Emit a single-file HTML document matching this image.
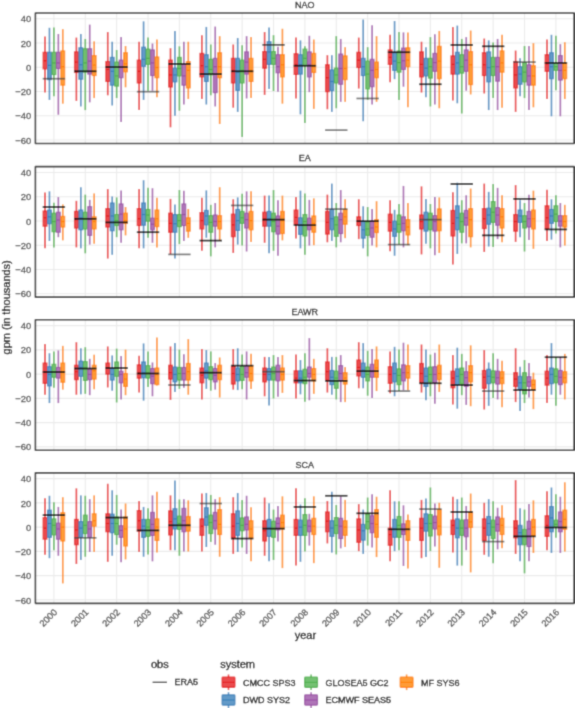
<!DOCTYPE html>
<html><head><meta charset="utf-8"><style>
html,body{margin:0;padding:0;background:#fff;}
body{width:575px;height:708px;position:relative;overflow:hidden;font-family:"Liberation Sans",sans-serif;}
svg text{font-family:"Liberation Sans",sans-serif;}
</style></head><body>
<svg width="575" height="708" viewBox="0 0 575 708" style="position:absolute;left:0;top:0">
<defs><filter id="bl" x="0" y="0" width="100%" height="100%" filterUnits="userSpaceOnUse"><feConvolveMatrix order="3" kernelMatrix="0.02768 0.11101 0.02768 0.11101 0.44521 0.11101 0.02768 0.11101 0.02768" edgeMode="duplicate" preserveAlpha="true"/></filter></defs>
<g filter="url(#bl)">
<rect width="575" height="708" fill="#fff"/>
<line x1="35.4" x2="574.1" y1="18.80" y2="18.80" stroke="#EBEBEB" stroke-width="1.1"/>
<line x1="35.4" x2="574.1" y1="43.05" y2="43.05" stroke="#EBEBEB" stroke-width="1.1"/>
<line x1="35.4" x2="574.1" y1="67.30" y2="67.30" stroke="#EBEBEB" stroke-width="1.1"/>
<line x1="35.4" x2="574.1" y1="91.55" y2="91.55" stroke="#EBEBEB" stroke-width="1.1"/>
<line x1="35.4" x2="574.1" y1="115.80" y2="115.80" stroke="#EBEBEB" stroke-width="1.1"/>
<line x1="35.4" x2="574.1" y1="140.05" y2="140.05" stroke="#EBEBEB" stroke-width="1.1"/>
<line x1="53.90" x2="53.90" y1="13.0" y2="143.5" stroke="#EBEBEB" stroke-width="1.1"/>
<line x1="85.28" x2="85.28" y1="13.0" y2="143.5" stroke="#EBEBEB" stroke-width="1.1"/>
<line x1="116.65" x2="116.65" y1="13.0" y2="143.5" stroke="#EBEBEB" stroke-width="1.1"/>
<line x1="148.03" x2="148.03" y1="13.0" y2="143.5" stroke="#EBEBEB" stroke-width="1.1"/>
<line x1="179.40" x2="179.40" y1="13.0" y2="143.5" stroke="#EBEBEB" stroke-width="1.1"/>
<line x1="210.78" x2="210.78" y1="13.0" y2="143.5" stroke="#EBEBEB" stroke-width="1.1"/>
<line x1="242.15" x2="242.15" y1="13.0" y2="143.5" stroke="#EBEBEB" stroke-width="1.1"/>
<line x1="273.52" x2="273.52" y1="13.0" y2="143.5" stroke="#EBEBEB" stroke-width="1.1"/>
<line x1="304.90" x2="304.90" y1="13.0" y2="143.5" stroke="#EBEBEB" stroke-width="1.1"/>
<line x1="336.27" x2="336.27" y1="13.0" y2="143.5" stroke="#EBEBEB" stroke-width="1.1"/>
<line x1="367.65" x2="367.65" y1="13.0" y2="143.5" stroke="#EBEBEB" stroke-width="1.1"/>
<line x1="399.02" x2="399.02" y1="13.0" y2="143.5" stroke="#EBEBEB" stroke-width="1.1"/>
<line x1="430.40" x2="430.40" y1="13.0" y2="143.5" stroke="#EBEBEB" stroke-width="1.1"/>
<line x1="461.77" x2="461.77" y1="13.0" y2="143.5" stroke="#EBEBEB" stroke-width="1.1"/>
<line x1="493.15" x2="493.15" y1="13.0" y2="143.5" stroke="#EBEBEB" stroke-width="1.1"/>
<line x1="524.52" x2="524.52" y1="13.0" y2="143.5" stroke="#EBEBEB" stroke-width="1.1"/>
<line x1="555.90" x2="555.90" y1="13.0" y2="143.5" stroke="#EBEBEB" stroke-width="1.1"/>
<line x1="45.00" x2="45.00" y1="36.50" y2="52.27" stroke="#E41A1C" stroke-opacity="0.82" stroke-width="1.7"/>
<line x1="45.00" x2="45.00" y1="68.88" y2="92.52" stroke="#E41A1C" stroke-opacity="0.82" stroke-width="1.7"/>
<rect x="43.10" y="52.27" width="3.8" height="16.61" fill="#E41A1C" fill-opacity="0.78" stroke="#E41A1C" stroke-opacity="0.85" stroke-width="1.1"/>
<line x1="43.10" x2="46.90" y1="60.75" y2="60.75" stroke="#E41A1C" stroke-width="1.2" stroke-opacity="1"/>
<line x1="49.45" x2="49.45" y1="27.77" y2="52.27" stroke="#377EB8" stroke-opacity="0.82" stroke-width="1.7"/>
<line x1="49.45" x2="49.45" y1="79.67" y2="99.92" stroke="#377EB8" stroke-opacity="0.82" stroke-width="1.7"/>
<rect x="47.55" y="52.27" width="3.8" height="27.40" fill="#377EB8" fill-opacity="0.78" stroke="#377EB8" stroke-opacity="0.85" stroke-width="1.1"/>
<line x1="47.55" x2="51.35" y1="65.36" y2="65.36" stroke="#377EB8" stroke-width="1.2" stroke-opacity="1"/>
<line x1="53.90" x2="53.90" y1="27.41" y2="52.27" stroke="#4DAF4A" stroke-opacity="0.82" stroke-width="1.7"/>
<line x1="53.90" x2="53.90" y1="74.58" y2="96.28" stroke="#4DAF4A" stroke-opacity="0.82" stroke-width="1.7"/>
<rect x="52.00" y="52.27" width="3.8" height="22.31" fill="#4DAF4A" fill-opacity="0.78" stroke="#4DAF4A" stroke-opacity="0.85" stroke-width="1.1"/>
<line x1="52.00" x2="55.80" y1="62.93" y2="62.93" stroke="#4DAF4A" stroke-width="1.2" stroke-opacity="1"/>
<line x1="58.35" x2="58.35" y1="33.96" y2="52.27" stroke="#984EA3" stroke-opacity="0.82" stroke-width="1.7"/>
<line x1="58.35" x2="58.35" y1="68.51" y2="114.71" stroke="#984EA3" stroke-opacity="0.82" stroke-width="1.7"/>
<rect x="56.45" y="52.27" width="3.8" height="16.25" fill="#984EA3" fill-opacity="0.78" stroke="#984EA3" stroke-opacity="0.85" stroke-width="1.1"/>
<line x1="56.45" x2="60.25" y1="62.93" y2="62.93" stroke="#984EA3" stroke-width="1.2" stroke-opacity="1"/>
<line x1="62.80" x2="62.80" y1="29.11" y2="50.93" stroke="#FF7F00" stroke-opacity="0.82" stroke-width="1.7"/>
<line x1="62.80" x2="62.80" y1="85.12" y2="103.67" stroke="#FF7F00" stroke-opacity="0.82" stroke-width="1.7"/>
<rect x="60.90" y="50.93" width="3.8" height="34.19" fill="#FF7F00" fill-opacity="0.78" stroke="#FF7F00" stroke-opacity="0.85" stroke-width="1.1"/>
<line x1="60.90" x2="64.70" y1="66.69" y2="66.69" stroke="#FF7F00" stroke-width="1.2" stroke-opacity="1"/>
<line x1="42.70" x2="65.10" y1="78.70" y2="78.70" stroke="#444" stroke-opacity="0.72" stroke-width="1.7"/>
<line x1="76.38" x2="76.38" y1="37.59" y2="51.90" stroke="#E41A1C" stroke-opacity="0.82" stroke-width="1.7"/>
<line x1="76.38" x2="76.38" y1="72.51" y2="100.89" stroke="#E41A1C" stroke-opacity="0.82" stroke-width="1.7"/>
<rect x="74.47" y="51.90" width="3.8" height="20.61" fill="#E41A1C" fill-opacity="0.78" stroke="#E41A1C" stroke-opacity="0.85" stroke-width="1.1"/>
<line x1="74.47" x2="78.28" y1="62.09" y2="62.09" stroke="#E41A1C" stroke-width="1.2" stroke-opacity="1"/>
<line x1="80.83" x2="80.83" y1="33.96" y2="47.78" stroke="#377EB8" stroke-opacity="0.82" stroke-width="1.7"/>
<line x1="80.83" x2="80.83" y1="79.18" y2="106.46" stroke="#377EB8" stroke-opacity="0.82" stroke-width="1.7"/>
<rect x="78.92" y="47.78" width="3.8" height="31.40" fill="#377EB8" fill-opacity="0.78" stroke="#377EB8" stroke-opacity="0.85" stroke-width="1.1"/>
<line x1="78.92" x2="82.73" y1="64.75" y2="64.75" stroke="#377EB8" stroke-width="1.2" stroke-opacity="1"/>
<line x1="85.28" x2="85.28" y1="38.93" y2="48.75" stroke="#4DAF4A" stroke-opacity="0.82" stroke-width="1.7"/>
<line x1="85.28" x2="85.28" y1="72.15" y2="110.10" stroke="#4DAF4A" stroke-opacity="0.82" stroke-width="1.7"/>
<rect x="83.38" y="48.75" width="3.8" height="23.40" fill="#4DAF4A" fill-opacity="0.78" stroke="#4DAF4A" stroke-opacity="0.85" stroke-width="1.1"/>
<line x1="83.38" x2="87.18" y1="62.93" y2="62.93" stroke="#4DAF4A" stroke-width="1.2" stroke-opacity="1"/>
<line x1="89.73" x2="89.73" y1="24.62" y2="48.75" stroke="#984EA3" stroke-opacity="0.82" stroke-width="1.7"/>
<line x1="89.73" x2="89.73" y1="74.09" y2="102.34" stroke="#984EA3" stroke-opacity="0.82" stroke-width="1.7"/>
<rect x="87.83" y="48.75" width="3.8" height="25.34" fill="#984EA3" fill-opacity="0.78" stroke="#984EA3" stroke-opacity="0.85" stroke-width="1.1"/>
<line x1="87.83" x2="91.63" y1="61.12" y2="61.12" stroke="#984EA3" stroke-width="1.2" stroke-opacity="1"/>
<line x1="94.18" x2="94.18" y1="41.35" y2="55.54" stroke="#FF7F00" stroke-opacity="0.82" stroke-width="1.7"/>
<line x1="94.18" x2="94.18" y1="75.55" y2="98.10" stroke="#FF7F00" stroke-opacity="0.82" stroke-width="1.7"/>
<rect x="92.28" y="55.54" width="3.8" height="20.01" fill="#FF7F00" fill-opacity="0.78" stroke="#FF7F00" stroke-opacity="0.85" stroke-width="1.1"/>
<line x1="92.28" x2="96.08" y1="65.12" y2="65.12" stroke="#FF7F00" stroke-width="1.2" stroke-opacity="1"/>
<line x1="74.08" x2="96.48" y1="71.30" y2="71.30" stroke="#111" stroke-opacity="1" stroke-width="1.7"/>
<line x1="107.75" x2="107.75" y1="32.02" y2="61.48" stroke="#E41A1C" stroke-opacity="0.82" stroke-width="1.7"/>
<line x1="107.75" x2="107.75" y1="81.49" y2="95.31" stroke="#E41A1C" stroke-opacity="0.82" stroke-width="1.7"/>
<rect x="105.85" y="61.48" width="3.8" height="20.01" fill="#E41A1C" fill-opacity="0.78" stroke="#E41A1C" stroke-opacity="0.85" stroke-width="1.1"/>
<line x1="105.85" x2="109.65" y1="69.48" y2="69.48" stroke="#E41A1C" stroke-width="1.2" stroke-opacity="1"/>
<line x1="112.20" x2="112.20" y1="41.72" y2="57.36" stroke="#377EB8" stroke-opacity="0.82" stroke-width="1.7"/>
<line x1="112.20" x2="112.20" y1="85.12" y2="105.49" stroke="#377EB8" stroke-opacity="0.82" stroke-width="1.7"/>
<rect x="110.30" y="57.36" width="3.8" height="27.77" fill="#377EB8" fill-opacity="0.78" stroke="#377EB8" stroke-opacity="0.85" stroke-width="1.1"/>
<line x1="110.30" x2="114.10" y1="71.30" y2="71.30" stroke="#377EB8" stroke-width="1.2" stroke-opacity="1"/>
<line x1="116.65" x2="116.65" y1="49.96" y2="62.09" stroke="#4DAF4A" stroke-opacity="0.82" stroke-width="1.7"/>
<line x1="116.65" x2="116.65" y1="86.09" y2="98.10" stroke="#4DAF4A" stroke-opacity="0.82" stroke-width="1.7"/>
<rect x="114.75" y="62.09" width="3.8" height="24.01" fill="#4DAF4A" fill-opacity="0.78" stroke="#4DAF4A" stroke-opacity="0.85" stroke-width="1.1"/>
<line x1="114.75" x2="118.55" y1="75.91" y2="75.91" stroke="#4DAF4A" stroke-width="1.2" stroke-opacity="1"/>
<line x1="121.10" x2="121.10" y1="37.11" y2="60.15" stroke="#984EA3" stroke-opacity="0.82" stroke-width="1.7"/>
<line x1="121.10" x2="121.10" y1="77.73" y2="122.10" stroke="#984EA3" stroke-opacity="0.82" stroke-width="1.7"/>
<rect x="119.20" y="60.15" width="3.8" height="17.58" fill="#984EA3" fill-opacity="0.78" stroke="#984EA3" stroke-opacity="0.85" stroke-width="1.1"/>
<line x1="119.20" x2="123.00" y1="67.54" y2="67.54" stroke="#984EA3" stroke-width="1.2" stroke-opacity="1"/>
<line x1="125.55" x2="125.55" y1="45.96" y2="52.75" stroke="#FF7F00" stroke-opacity="0.82" stroke-width="1.7"/>
<line x1="125.55" x2="125.55" y1="71.79" y2="87.31" stroke="#FF7F00" stroke-opacity="0.82" stroke-width="1.7"/>
<rect x="123.65" y="52.75" width="3.8" height="19.04" fill="#FF7F00" fill-opacity="0.78" stroke="#FF7F00" stroke-opacity="0.85" stroke-width="1.1"/>
<line x1="123.65" x2="127.45" y1="63.91" y2="63.91" stroke="#FF7F00" stroke-width="1.2" stroke-opacity="1"/>
<line x1="105.45" x2="127.85" y1="67.06" y2="67.06" stroke="#111" stroke-opacity="1" stroke-width="1.7"/>
<line x1="139.12" x2="139.12" y1="41.72" y2="60.15" stroke="#E41A1C" stroke-opacity="0.82" stroke-width="1.7"/>
<line x1="139.12" x2="139.12" y1="82.94" y2="110.10" stroke="#E41A1C" stroke-opacity="0.82" stroke-width="1.7"/>
<rect x="137.22" y="60.15" width="3.8" height="22.80" fill="#E41A1C" fill-opacity="0.78" stroke="#E41A1C" stroke-opacity="0.85" stroke-width="1.1"/>
<line x1="137.22" x2="141.03" y1="71.30" y2="71.30" stroke="#E41A1C" stroke-width="1.2" stroke-opacity="1"/>
<line x1="143.58" x2="143.58" y1="21.35" y2="47.17" stroke="#377EB8" stroke-opacity="0.82" stroke-width="1.7"/>
<line x1="143.58" x2="143.58" y1="66.33" y2="99.92" stroke="#377EB8" stroke-opacity="0.82" stroke-width="1.7"/>
<rect x="141.68" y="47.17" width="3.8" height="19.16" fill="#377EB8" fill-opacity="0.78" stroke="#377EB8" stroke-opacity="0.85" stroke-width="1.1"/>
<line x1="141.68" x2="145.48" y1="59.30" y2="59.30" stroke="#377EB8" stroke-width="1.2" stroke-opacity="1"/>
<line x1="148.03" x2="148.03" y1="37.59" y2="49.11" stroke="#4DAF4A" stroke-opacity="0.82" stroke-width="1.7"/>
<line x1="148.03" x2="148.03" y1="64.39" y2="90.70" stroke="#4DAF4A" stroke-opacity="0.82" stroke-width="1.7"/>
<rect x="146.12" y="49.11" width="3.8" height="15.28" fill="#4DAF4A" fill-opacity="0.78" stroke="#4DAF4A" stroke-opacity="0.85" stroke-width="1.1"/>
<line x1="146.12" x2="149.93" y1="58.33" y2="58.33" stroke="#4DAF4A" stroke-width="1.2" stroke-opacity="1"/>
<line x1="152.47" x2="152.47" y1="43.53" y2="49.96" stroke="#984EA3" stroke-opacity="0.82" stroke-width="1.7"/>
<line x1="152.47" x2="152.47" y1="75.55" y2="90.70" stroke="#984EA3" stroke-opacity="0.82" stroke-width="1.7"/>
<rect x="150.57" y="49.96" width="3.8" height="25.58" fill="#984EA3" fill-opacity="0.78" stroke="#984EA3" stroke-opacity="0.85" stroke-width="1.1"/>
<line x1="150.57" x2="154.38" y1="62.93" y2="62.93" stroke="#984EA3" stroke-width="1.2" stroke-opacity="1"/>
<line x1="156.93" x2="156.93" y1="39.53" y2="56.99" stroke="#FF7F00" stroke-opacity="0.82" stroke-width="1.7"/>
<line x1="156.93" x2="156.93" y1="77.73" y2="97.13" stroke="#FF7F00" stroke-opacity="0.82" stroke-width="1.7"/>
<rect x="155.03" y="56.99" width="3.8" height="20.73" fill="#FF7F00" fill-opacity="0.78" stroke="#FF7F00" stroke-opacity="0.85" stroke-width="1.1"/>
<line x1="155.03" x2="158.83" y1="67.54" y2="67.54" stroke="#FF7F00" stroke-width="1.2" stroke-opacity="1"/>
<line x1="136.83" x2="159.22" y1="91.67" y2="91.67" stroke="#444" stroke-opacity="0.72" stroke-width="1.7"/>
<line x1="170.50" x2="170.50" y1="48.14" y2="60.15" stroke="#E41A1C" stroke-opacity="0.82" stroke-width="1.7"/>
<line x1="170.50" x2="170.50" y1="86.94" y2="127.32" stroke="#E41A1C" stroke-opacity="0.82" stroke-width="1.7"/>
<rect x="168.60" y="60.15" width="3.8" height="26.80" fill="#E41A1C" fill-opacity="0.78" stroke="#E41A1C" stroke-opacity="0.85" stroke-width="1.1"/>
<line x1="168.60" x2="172.40" y1="74.94" y2="74.94" stroke="#E41A1C" stroke-width="1.2" stroke-opacity="1"/>
<line x1="174.95" x2="174.95" y1="30.92" y2="68.15" stroke="#377EB8" stroke-opacity="0.82" stroke-width="1.7"/>
<line x1="174.95" x2="174.95" y1="81.85" y2="115.68" stroke="#377EB8" stroke-opacity="0.82" stroke-width="1.7"/>
<rect x="173.05" y="68.15" width="3.8" height="13.70" fill="#377EB8" fill-opacity="0.78" stroke="#377EB8" stroke-opacity="0.85" stroke-width="1.1"/>
<line x1="173.05" x2="176.85" y1="74.94" y2="74.94" stroke="#377EB8" stroke-width="1.2" stroke-opacity="1"/>
<line x1="179.40" x2="179.40" y1="46.32" y2="57.36" stroke="#4DAF4A" stroke-opacity="0.82" stroke-width="1.7"/>
<line x1="179.40" x2="179.40" y1="75.91" y2="110.71" stroke="#4DAF4A" stroke-opacity="0.82" stroke-width="1.7"/>
<rect x="177.50" y="57.36" width="3.8" height="18.55" fill="#4DAF4A" fill-opacity="0.78" stroke="#4DAF4A" stroke-opacity="0.85" stroke-width="1.1"/>
<line x1="177.50" x2="181.30" y1="68.51" y2="68.51" stroke="#4DAF4A" stroke-width="1.2" stroke-opacity="1"/>
<line x1="183.85" x2="183.85" y1="41.72" y2="63.91" stroke="#984EA3" stroke-opacity="0.82" stroke-width="1.7"/>
<line x1="183.85" x2="183.85" y1="85.12" y2="104.52" stroke="#984EA3" stroke-opacity="0.82" stroke-width="1.7"/>
<rect x="181.95" y="63.91" width="3.8" height="21.22" fill="#984EA3" fill-opacity="0.78" stroke="#984EA3" stroke-opacity="0.85" stroke-width="1.1"/>
<line x1="181.95" x2="185.75" y1="75.91" y2="75.91" stroke="#984EA3" stroke-width="1.2" stroke-opacity="1"/>
<line x1="188.30" x2="188.30" y1="41.72" y2="61.60" stroke="#FF7F00" stroke-opacity="0.82" stroke-width="1.7"/>
<line x1="188.30" x2="188.30" y1="87.91" y2="99.07" stroke="#FF7F00" stroke-opacity="0.82" stroke-width="1.7"/>
<rect x="186.40" y="61.60" width="3.8" height="26.31" fill="#FF7F00" fill-opacity="0.78" stroke="#FF7F00" stroke-opacity="0.85" stroke-width="1.1"/>
<line x1="186.40" x2="190.20" y1="70.33" y2="70.33" stroke="#FF7F00" stroke-width="1.2" stroke-opacity="1"/>
<line x1="168.20" x2="190.60" y1="63.91" y2="63.91" stroke="#111" stroke-opacity="1" stroke-width="1.7"/>
<line x1="201.88" x2="201.88" y1="35.17" y2="53.36" stroke="#E41A1C" stroke-opacity="0.82" stroke-width="1.7"/>
<line x1="201.88" x2="201.88" y1="76.88" y2="99.07" stroke="#E41A1C" stroke-opacity="0.82" stroke-width="1.7"/>
<rect x="199.97" y="53.36" width="3.8" height="23.52" fill="#E41A1C" fill-opacity="0.78" stroke="#E41A1C" stroke-opacity="0.85" stroke-width="1.1"/>
<line x1="199.97" x2="203.78" y1="65.72" y2="65.72" stroke="#E41A1C" stroke-width="1.2" stroke-opacity="1"/>
<line x1="206.33" x2="206.33" y1="26.92" y2="54.69" stroke="#377EB8" stroke-opacity="0.82" stroke-width="1.7"/>
<line x1="206.33" x2="206.33" y1="81.49" y2="104.52" stroke="#377EB8" stroke-opacity="0.82" stroke-width="1.7"/>
<rect x="204.43" y="54.69" width="3.8" height="26.80" fill="#377EB8" fill-opacity="0.78" stroke="#377EB8" stroke-opacity="0.85" stroke-width="1.1"/>
<line x1="204.43" x2="208.23" y1="66.69" y2="66.69" stroke="#377EB8" stroke-width="1.2" stroke-opacity="1"/>
<line x1="210.78" x2="210.78" y1="44.50" y2="59.30" stroke="#4DAF4A" stroke-opacity="0.82" stroke-width="1.7"/>
<line x1="210.78" x2="210.78" y1="74.94" y2="95.31" stroke="#4DAF4A" stroke-opacity="0.82" stroke-width="1.7"/>
<rect x="208.88" y="59.30" width="3.8" height="15.64" fill="#4DAF4A" fill-opacity="0.78" stroke="#4DAF4A" stroke-opacity="0.85" stroke-width="1.1"/>
<line x1="208.88" x2="212.68" y1="69.48" y2="69.48" stroke="#4DAF4A" stroke-width="1.2" stroke-opacity="1"/>
<line x1="215.22" x2="215.22" y1="26.56" y2="58.33" stroke="#984EA3" stroke-opacity="0.82" stroke-width="1.7"/>
<line x1="215.22" x2="215.22" y1="92.64" y2="106.46" stroke="#984EA3" stroke-opacity="0.82" stroke-width="1.7"/>
<rect x="213.32" y="58.33" width="3.8" height="34.31" fill="#984EA3" fill-opacity="0.78" stroke="#984EA3" stroke-opacity="0.85" stroke-width="1.1"/>
<line x1="213.32" x2="217.12" y1="66.69" y2="66.69" stroke="#984EA3" stroke-width="1.2" stroke-opacity="1"/>
<line x1="219.68" x2="219.68" y1="36.14" y2="52.75" stroke="#FF7F00" stroke-opacity="0.82" stroke-width="1.7"/>
<line x1="219.68" x2="219.68" y1="77.73" y2="124.04" stroke="#FF7F00" stroke-opacity="0.82" stroke-width="1.7"/>
<rect x="217.78" y="52.75" width="3.8" height="24.98" fill="#FF7F00" fill-opacity="0.78" stroke="#FF7F00" stroke-opacity="0.85" stroke-width="1.1"/>
<line x1="217.78" x2="221.58" y1="66.69" y2="66.69" stroke="#FF7F00" stroke-width="1.2" stroke-opacity="1"/>
<line x1="199.58" x2="221.97" y1="74.09" y2="74.09" stroke="#111" stroke-opacity="1" stroke-width="1.7"/>
<line x1="233.25" x2="233.25" y1="44.50" y2="58.33" stroke="#E41A1C" stroke-opacity="0.82" stroke-width="1.7"/>
<line x1="233.25" x2="233.25" y1="82.94" y2="107.68" stroke="#E41A1C" stroke-opacity="0.82" stroke-width="1.7"/>
<rect x="231.35" y="58.33" width="3.8" height="24.61" fill="#E41A1C" fill-opacity="0.78" stroke="#E41A1C" stroke-opacity="0.85" stroke-width="1.1"/>
<line x1="231.35" x2="235.15" y1="70.33" y2="70.33" stroke="#E41A1C" stroke-width="1.2" stroke-opacity="1"/>
<line x1="237.70" x2="237.70" y1="37.96" y2="58.33" stroke="#377EB8" stroke-opacity="0.82" stroke-width="1.7"/>
<line x1="237.70" x2="237.70" y1="90.34" y2="111.92" stroke="#377EB8" stroke-opacity="0.82" stroke-width="1.7"/>
<rect x="235.80" y="58.33" width="3.8" height="32.01" fill="#377EB8" fill-opacity="0.78" stroke="#377EB8" stroke-opacity="0.85" stroke-width="1.1"/>
<line x1="235.80" x2="239.60" y1="72.15" y2="72.15" stroke="#377EB8" stroke-width="1.2" stroke-opacity="1"/>
<line x1="242.15" x2="242.15" y1="45.35" y2="60.15" stroke="#4DAF4A" stroke-opacity="0.82" stroke-width="1.7"/>
<line x1="242.15" x2="242.15" y1="82.94" y2="136.90" stroke="#4DAF4A" stroke-opacity="0.82" stroke-width="1.7"/>
<rect x="240.25" y="60.15" width="3.8" height="22.80" fill="#4DAF4A" fill-opacity="0.78" stroke="#4DAF4A" stroke-opacity="0.85" stroke-width="1.1"/>
<line x1="240.25" x2="244.05" y1="70.33" y2="70.33" stroke="#4DAF4A" stroke-width="1.2" stroke-opacity="1"/>
<line x1="246.60" x2="246.60" y1="36.14" y2="51.90" stroke="#984EA3" stroke-opacity="0.82" stroke-width="1.7"/>
<line x1="246.60" x2="246.60" y1="74.09" y2="98.46" stroke="#984EA3" stroke-opacity="0.82" stroke-width="1.7"/>
<rect x="244.70" y="51.90" width="3.8" height="22.19" fill="#984EA3" fill-opacity="0.78" stroke="#984EA3" stroke-opacity="0.85" stroke-width="1.1"/>
<line x1="244.70" x2="248.50" y1="62.09" y2="62.09" stroke="#984EA3" stroke-width="1.2" stroke-opacity="1"/>
<line x1="251.05" x2="251.05" y1="37.11" y2="58.33" stroke="#FF7F00" stroke-opacity="0.82" stroke-width="1.7"/>
<line x1="251.05" x2="251.05" y1="81.49" y2="98.10" stroke="#FF7F00" stroke-opacity="0.82" stroke-width="1.7"/>
<rect x="249.15" y="58.33" width="3.8" height="23.16" fill="#FF7F00" fill-opacity="0.78" stroke="#FF7F00" stroke-opacity="0.85" stroke-width="1.1"/>
<line x1="249.15" x2="252.95" y1="70.33" y2="70.33" stroke="#FF7F00" stroke-width="1.2" stroke-opacity="1"/>
<line x1="230.95" x2="253.35" y1="71.30" y2="71.30" stroke="#111" stroke-opacity="1" stroke-width="1.7"/>
<line x1="264.62" x2="264.62" y1="32.02" y2="51.54" stroke="#E41A1C" stroke-opacity="0.82" stroke-width="1.7"/>
<line x1="264.62" x2="264.62" y1="68.15" y2="94.94" stroke="#E41A1C" stroke-opacity="0.82" stroke-width="1.7"/>
<rect x="262.73" y="51.54" width="3.8" height="16.61" fill="#E41A1C" fill-opacity="0.78" stroke="#E41A1C" stroke-opacity="0.85" stroke-width="1.1"/>
<line x1="262.73" x2="266.52" y1="59.30" y2="59.30" stroke="#E41A1C" stroke-width="1.2" stroke-opacity="1"/>
<line x1="269.07" x2="269.07" y1="27.41" y2="41.72" stroke="#377EB8" stroke-opacity="0.82" stroke-width="1.7"/>
<line x1="269.07" x2="269.07" y1="64.39" y2="88.88" stroke="#377EB8" stroke-opacity="0.82" stroke-width="1.7"/>
<rect x="267.18" y="41.72" width="3.8" height="22.67" fill="#377EB8" fill-opacity="0.78" stroke="#377EB8" stroke-opacity="0.85" stroke-width="1.1"/>
<line x1="267.18" x2="270.97" y1="51.90" y2="51.90" stroke="#377EB8" stroke-width="1.2" stroke-opacity="1"/>
<line x1="273.52" x2="273.52" y1="35.17" y2="51.54" stroke="#4DAF4A" stroke-opacity="0.82" stroke-width="1.7"/>
<line x1="273.52" x2="273.52" y1="64.39" y2="91.06" stroke="#4DAF4A" stroke-opacity="0.82" stroke-width="1.7"/>
<rect x="271.62" y="51.54" width="3.8" height="12.85" fill="#4DAF4A" fill-opacity="0.78" stroke="#4DAF4A" stroke-opacity="0.85" stroke-width="1.1"/>
<line x1="271.62" x2="275.42" y1="58.33" y2="58.33" stroke="#4DAF4A" stroke-width="1.2" stroke-opacity="1"/>
<line x1="277.97" x2="277.97" y1="46.81" y2="54.69" stroke="#984EA3" stroke-opacity="0.82" stroke-width="1.7"/>
<line x1="277.97" x2="277.97" y1="72.76" y2="91.67" stroke="#984EA3" stroke-opacity="0.82" stroke-width="1.7"/>
<rect x="276.07" y="54.69" width="3.8" height="18.07" fill="#984EA3" fill-opacity="0.78" stroke="#984EA3" stroke-opacity="0.85" stroke-width="1.1"/>
<line x1="276.07" x2="279.87" y1="66.69" y2="66.69" stroke="#984EA3" stroke-width="1.2" stroke-opacity="1"/>
<line x1="282.42" x2="282.42" y1="28.74" y2="54.69" stroke="#FF7F00" stroke-opacity="0.82" stroke-width="1.7"/>
<line x1="282.42" x2="282.42" y1="76.88" y2="103.67" stroke="#FF7F00" stroke-opacity="0.82" stroke-width="1.7"/>
<rect x="280.52" y="54.69" width="3.8" height="22.19" fill="#FF7F00" fill-opacity="0.78" stroke="#FF7F00" stroke-opacity="0.85" stroke-width="1.1"/>
<line x1="280.52" x2="284.32" y1="64.75" y2="64.75" stroke="#FF7F00" stroke-width="1.2" stroke-opacity="1"/>
<line x1="262.32" x2="284.72" y1="44.87" y2="44.87" stroke="#333" stroke-opacity="0.85" stroke-width="1.7"/>
<line x1="296.00" x2="296.00" y1="37.59" y2="53.72" stroke="#E41A1C" stroke-opacity="0.82" stroke-width="1.7"/>
<line x1="296.00" x2="296.00" y1="74.45" y2="98.46" stroke="#E41A1C" stroke-opacity="0.82" stroke-width="1.7"/>
<rect x="294.10" y="53.72" width="3.8" height="20.73" fill="#E41A1C" fill-opacity="0.78" stroke="#E41A1C" stroke-opacity="0.85" stroke-width="1.1"/>
<line x1="294.10" x2="297.90" y1="64.75" y2="64.75" stroke="#E41A1C" stroke-width="1.2" stroke-opacity="1"/>
<line x1="300.45" x2="300.45" y1="40.38" y2="54.69" stroke="#377EB8" stroke-opacity="0.82" stroke-width="1.7"/>
<line x1="300.45" x2="300.45" y1="74.09" y2="114.34" stroke="#377EB8" stroke-opacity="0.82" stroke-width="1.7"/>
<rect x="298.55" y="54.69" width="3.8" height="19.40" fill="#377EB8" fill-opacity="0.78" stroke="#377EB8" stroke-opacity="0.85" stroke-width="1.1"/>
<line x1="298.55" x2="302.35" y1="64.75" y2="64.75" stroke="#377EB8" stroke-width="1.2" stroke-opacity="1"/>
<line x1="304.90" x2="304.90" y1="46.32" y2="49.11" stroke="#4DAF4A" stroke-opacity="0.82" stroke-width="1.7"/>
<line x1="304.90" x2="304.90" y1="65.72" y2="123.07" stroke="#4DAF4A" stroke-opacity="0.82" stroke-width="1.7"/>
<rect x="303.00" y="49.11" width="3.8" height="16.61" fill="#4DAF4A" fill-opacity="0.78" stroke="#4DAF4A" stroke-opacity="0.85" stroke-width="1.1"/>
<line x1="303.00" x2="306.80" y1="58.33" y2="58.33" stroke="#4DAF4A" stroke-width="1.2" stroke-opacity="1"/>
<line x1="309.35" x2="309.35" y1="35.77" y2="51.90" stroke="#984EA3" stroke-opacity="0.82" stroke-width="1.7"/>
<line x1="309.35" x2="309.35" y1="76.88" y2="92.16" stroke="#984EA3" stroke-opacity="0.82" stroke-width="1.7"/>
<rect x="307.45" y="51.90" width="3.8" height="24.98" fill="#984EA3" fill-opacity="0.78" stroke="#984EA3" stroke-opacity="0.85" stroke-width="1.1"/>
<line x1="307.45" x2="311.25" y1="64.75" y2="64.75" stroke="#984EA3" stroke-width="1.2" stroke-opacity="1"/>
<line x1="313.80" x2="313.80" y1="39.53" y2="53.36" stroke="#FF7F00" stroke-opacity="0.82" stroke-width="1.7"/>
<line x1="313.80" x2="313.80" y1="72.51" y2="108.89" stroke="#FF7F00" stroke-opacity="0.82" stroke-width="1.7"/>
<rect x="311.90" y="53.36" width="3.8" height="19.16" fill="#FF7F00" fill-opacity="0.78" stroke="#FF7F00" stroke-opacity="0.85" stroke-width="1.1"/>
<line x1="311.90" x2="315.70" y1="66.69" y2="66.69" stroke="#FF7F00" stroke-width="1.2" stroke-opacity="1"/>
<line x1="293.70" x2="316.10" y1="65.72" y2="65.72" stroke="#111" stroke-opacity="1" stroke-width="1.7"/>
<line x1="327.38" x2="327.38" y1="55.17" y2="64.75" stroke="#E41A1C" stroke-opacity="0.82" stroke-width="1.7"/>
<line x1="327.38" x2="327.38" y1="91.67" y2="109.25" stroke="#E41A1C" stroke-opacity="0.82" stroke-width="1.7"/>
<rect x="325.48" y="64.75" width="3.8" height="26.92" fill="#E41A1C" fill-opacity="0.78" stroke="#E41A1C" stroke-opacity="0.85" stroke-width="1.1"/>
<line x1="325.48" x2="329.27" y1="77.73" y2="77.73" stroke="#E41A1C" stroke-width="1.2" stroke-opacity="1"/>
<line x1="331.82" x2="331.82" y1="55.17" y2="69.97" stroke="#377EB8" stroke-opacity="0.82" stroke-width="1.7"/>
<line x1="331.82" x2="331.82" y1="90.70" y2="111.92" stroke="#377EB8" stroke-opacity="0.82" stroke-width="1.7"/>
<rect x="329.93" y="69.97" width="3.8" height="20.73" fill="#377EB8" fill-opacity="0.78" stroke="#377EB8" stroke-opacity="0.85" stroke-width="1.1"/>
<line x1="329.93" x2="333.72" y1="81.49" y2="81.49" stroke="#377EB8" stroke-width="1.2" stroke-opacity="1"/>
<line x1="336.27" x2="336.27" y1="36.14" y2="68.15" stroke="#4DAF4A" stroke-opacity="0.82" stroke-width="1.7"/>
<line x1="336.27" x2="336.27" y1="82.94" y2="108.28" stroke="#4DAF4A" stroke-opacity="0.82" stroke-width="1.7"/>
<rect x="334.38" y="68.15" width="3.8" height="14.79" fill="#4DAF4A" fill-opacity="0.78" stroke="#4DAF4A" stroke-opacity="0.85" stroke-width="1.1"/>
<line x1="334.38" x2="338.17" y1="74.94" y2="74.94" stroke="#4DAF4A" stroke-width="1.2" stroke-opacity="1"/>
<line x1="340.72" x2="340.72" y1="38.93" y2="54.08" stroke="#984EA3" stroke-opacity="0.82" stroke-width="1.7"/>
<line x1="340.72" x2="340.72" y1="84.27" y2="101.86" stroke="#984EA3" stroke-opacity="0.82" stroke-width="1.7"/>
<rect x="338.82" y="54.08" width="3.8" height="30.19" fill="#984EA3" fill-opacity="0.78" stroke="#984EA3" stroke-opacity="0.85" stroke-width="1.1"/>
<line x1="338.82" x2="342.62" y1="68.51" y2="68.51" stroke="#984EA3" stroke-width="1.2" stroke-opacity="1"/>
<line x1="345.17" x2="345.17" y1="47.17" y2="55.90" stroke="#FF7F00" stroke-opacity="0.82" stroke-width="1.7"/>
<line x1="345.17" x2="345.17" y1="79.67" y2="101.86" stroke="#FF7F00" stroke-opacity="0.82" stroke-width="1.7"/>
<rect x="343.27" y="55.90" width="3.8" height="23.76" fill="#FF7F00" fill-opacity="0.78" stroke="#FF7F00" stroke-opacity="0.85" stroke-width="1.1"/>
<line x1="343.27" x2="347.07" y1="68.51" y2="68.51" stroke="#FF7F00" stroke-width="1.2" stroke-opacity="1"/>
<line x1="325.07" x2="347.47" y1="130.11" y2="130.11" stroke="#444" stroke-opacity="0.72" stroke-width="1.7"/>
<line x1="358.75" x2="358.75" y1="37.59" y2="52.27" stroke="#E41A1C" stroke-opacity="0.82" stroke-width="1.7"/>
<line x1="358.75" x2="358.75" y1="67.54" y2="88.52" stroke="#E41A1C" stroke-opacity="0.82" stroke-width="1.7"/>
<rect x="356.85" y="52.27" width="3.8" height="15.28" fill="#E41A1C" fill-opacity="0.78" stroke="#E41A1C" stroke-opacity="0.85" stroke-width="1.1"/>
<line x1="356.85" x2="360.65" y1="60.15" y2="60.15" stroke="#E41A1C" stroke-width="1.2" stroke-opacity="1"/>
<line x1="363.20" x2="363.20" y1="19.53" y2="58.33" stroke="#377EB8" stroke-opacity="0.82" stroke-width="1.7"/>
<line x1="363.20" x2="363.20" y1="75.55" y2="121.26" stroke="#377EB8" stroke-opacity="0.82" stroke-width="1.7"/>
<rect x="361.30" y="58.33" width="3.8" height="17.22" fill="#377EB8" fill-opacity="0.78" stroke="#377EB8" stroke-opacity="0.85" stroke-width="1.1"/>
<line x1="361.30" x2="365.10" y1="66.69" y2="66.69" stroke="#377EB8" stroke-width="1.2" stroke-opacity="1"/>
<line x1="367.65" x2="367.65" y1="47.17" y2="61.12" stroke="#4DAF4A" stroke-opacity="0.82" stroke-width="1.7"/>
<line x1="367.65" x2="367.65" y1="88.88" y2="99.92" stroke="#4DAF4A" stroke-opacity="0.82" stroke-width="1.7"/>
<rect x="365.75" y="61.12" width="3.8" height="27.77" fill="#4DAF4A" fill-opacity="0.78" stroke="#4DAF4A" stroke-opacity="0.85" stroke-width="1.1"/>
<line x1="365.75" x2="369.55" y1="74.09" y2="74.09" stroke="#4DAF4A" stroke-width="1.2" stroke-opacity="1"/>
<line x1="372.10" x2="372.10" y1="25.35" y2="59.30" stroke="#984EA3" stroke-opacity="0.82" stroke-width="1.7"/>
<line x1="372.10" x2="372.10" y1="86.70" y2="104.52" stroke="#984EA3" stroke-opacity="0.82" stroke-width="1.7"/>
<rect x="370.20" y="59.30" width="3.8" height="27.40" fill="#984EA3" fill-opacity="0.78" stroke="#984EA3" stroke-opacity="0.85" stroke-width="1.1"/>
<line x1="370.20" x2="374.00" y1="70.33" y2="70.33" stroke="#984EA3" stroke-width="1.2" stroke-opacity="1"/>
<line x1="376.55" x2="376.55" y1="36.14" y2="62.09" stroke="#FF7F00" stroke-opacity="0.82" stroke-width="1.7"/>
<line x1="376.55" x2="376.55" y1="77.73" y2="101.86" stroke="#FF7F00" stroke-opacity="0.82" stroke-width="1.7"/>
<rect x="374.65" y="62.09" width="3.8" height="15.64" fill="#FF7F00" fill-opacity="0.78" stroke="#FF7F00" stroke-opacity="0.85" stroke-width="1.1"/>
<line x1="374.65" x2="378.45" y1="69.48" y2="69.48" stroke="#FF7F00" stroke-width="1.2" stroke-opacity="1"/>
<line x1="356.45" x2="378.85" y1="98.46" y2="98.46" stroke="#444" stroke-opacity="0.72" stroke-width="1.7"/>
<line x1="390.12" x2="390.12" y1="34.80" y2="49.96" stroke="#E41A1C" stroke-opacity="0.82" stroke-width="1.7"/>
<line x1="390.12" x2="390.12" y1="64.39" y2="82.33" stroke="#E41A1C" stroke-opacity="0.82" stroke-width="1.7"/>
<rect x="388.23" y="49.96" width="3.8" height="14.43" fill="#E41A1C" fill-opacity="0.78" stroke="#E41A1C" stroke-opacity="0.85" stroke-width="1.1"/>
<line x1="388.23" x2="392.02" y1="57.36" y2="57.36" stroke="#E41A1C" stroke-width="1.2" stroke-opacity="1"/>
<line x1="394.57" x2="394.57" y1="20.98" y2="52.27" stroke="#377EB8" stroke-opacity="0.82" stroke-width="1.7"/>
<line x1="394.57" x2="394.57" y1="70.33" y2="79.18" stroke="#377EB8" stroke-opacity="0.82" stroke-width="1.7"/>
<rect x="392.68" y="52.27" width="3.8" height="18.07" fill="#377EB8" fill-opacity="0.78" stroke="#377EB8" stroke-opacity="0.85" stroke-width="1.1"/>
<line x1="392.68" x2="396.47" y1="61.12" y2="61.12" stroke="#377EB8" stroke-width="1.2" stroke-opacity="1"/>
<line x1="399.02" x2="399.02" y1="32.02" y2="50.93" stroke="#4DAF4A" stroke-opacity="0.82" stroke-width="1.7"/>
<line x1="399.02" x2="399.02" y1="72.15" y2="99.92" stroke="#4DAF4A" stroke-opacity="0.82" stroke-width="1.7"/>
<rect x="397.12" y="50.93" width="3.8" height="21.22" fill="#4DAF4A" fill-opacity="0.78" stroke="#4DAF4A" stroke-opacity="0.85" stroke-width="1.1"/>
<line x1="397.12" x2="400.92" y1="62.57" y2="62.57" stroke="#4DAF4A" stroke-width="1.2" stroke-opacity="1"/>
<line x1="403.47" x2="403.47" y1="32.38" y2="48.14" stroke="#984EA3" stroke-opacity="0.82" stroke-width="1.7"/>
<line x1="403.47" x2="403.47" y1="69.48" y2="86.70" stroke="#984EA3" stroke-opacity="0.82" stroke-width="1.7"/>
<rect x="401.57" y="48.14" width="3.8" height="21.34" fill="#984EA3" fill-opacity="0.78" stroke="#984EA3" stroke-opacity="0.85" stroke-width="1.1"/>
<line x1="401.57" x2="405.37" y1="60.75" y2="60.75" stroke="#984EA3" stroke-width="1.2" stroke-opacity="1"/>
<line x1="407.92" x2="407.92" y1="32.38" y2="47.78" stroke="#FF7F00" stroke-opacity="0.82" stroke-width="1.7"/>
<line x1="407.92" x2="407.92" y1="66.69" y2="107.31" stroke="#FF7F00" stroke-opacity="0.82" stroke-width="1.7"/>
<rect x="406.02" y="47.78" width="3.8" height="18.91" fill="#FF7F00" fill-opacity="0.78" stroke="#FF7F00" stroke-opacity="0.85" stroke-width="1.1"/>
<line x1="406.02" x2="409.82" y1="60.15" y2="60.15" stroke="#FF7F00" stroke-width="1.2" stroke-opacity="1"/>
<line x1="387.82" x2="410.22" y1="52.27" y2="52.27" stroke="#111" stroke-opacity="1" stroke-width="1.7"/>
<line x1="421.50" x2="421.50" y1="41.72" y2="51.90" stroke="#E41A1C" stroke-opacity="0.82" stroke-width="1.7"/>
<line x1="421.50" x2="421.50" y1="76.88" y2="92.52" stroke="#E41A1C" stroke-opacity="0.82" stroke-width="1.7"/>
<rect x="419.60" y="51.90" width="3.8" height="24.98" fill="#E41A1C" fill-opacity="0.78" stroke="#E41A1C" stroke-opacity="0.85" stroke-width="1.1"/>
<line x1="419.60" x2="423.40" y1="64.39" y2="64.39" stroke="#E41A1C" stroke-width="1.2" stroke-opacity="1"/>
<line x1="425.95" x2="425.95" y1="47.17" y2="58.33" stroke="#377EB8" stroke-opacity="0.82" stroke-width="1.7"/>
<line x1="425.95" x2="425.95" y1="75.91" y2="97.13" stroke="#377EB8" stroke-opacity="0.82" stroke-width="1.7"/>
<rect x="424.05" y="58.33" width="3.8" height="17.58" fill="#377EB8" fill-opacity="0.78" stroke="#377EB8" stroke-opacity="0.85" stroke-width="1.1"/>
<line x1="424.05" x2="427.85" y1="68.15" y2="68.15" stroke="#377EB8" stroke-width="1.2" stroke-opacity="1"/>
<line x1="430.40" x2="430.40" y1="37.11" y2="58.33" stroke="#4DAF4A" stroke-opacity="0.82" stroke-width="1.7"/>
<line x1="430.40" x2="430.40" y1="78.09" y2="106.46" stroke="#4DAF4A" stroke-opacity="0.82" stroke-width="1.7"/>
<rect x="428.50" y="58.33" width="3.8" height="19.76" fill="#4DAF4A" fill-opacity="0.78" stroke="#4DAF4A" stroke-opacity="0.85" stroke-width="1.1"/>
<line x1="428.50" x2="432.30" y1="66.69" y2="66.69" stroke="#4DAF4A" stroke-width="1.2" stroke-opacity="1"/>
<line x1="434.85" x2="434.85" y1="34.32" y2="53.36" stroke="#984EA3" stroke-opacity="0.82" stroke-width="1.7"/>
<line x1="434.85" x2="434.85" y1="71.30" y2="104.52" stroke="#984EA3" stroke-opacity="0.82" stroke-width="1.7"/>
<rect x="432.95" y="53.36" width="3.8" height="17.95" fill="#984EA3" fill-opacity="0.78" stroke="#984EA3" stroke-opacity="0.85" stroke-width="1.1"/>
<line x1="432.95" x2="436.75" y1="62.57" y2="62.57" stroke="#984EA3" stroke-width="1.2" stroke-opacity="1"/>
<line x1="439.30" x2="439.30" y1="30.92" y2="46.32" stroke="#FF7F00" stroke-opacity="0.82" stroke-width="1.7"/>
<line x1="439.30" x2="439.30" y1="78.70" y2="108.28" stroke="#FF7F00" stroke-opacity="0.82" stroke-width="1.7"/>
<rect x="437.40" y="46.32" width="3.8" height="32.37" fill="#FF7F00" fill-opacity="0.78" stroke="#FF7F00" stroke-opacity="0.85" stroke-width="1.1"/>
<line x1="437.40" x2="441.20" y1="61.12" y2="61.12" stroke="#FF7F00" stroke-width="1.2" stroke-opacity="1"/>
<line x1="419.20" x2="441.60" y1="84.27" y2="84.27" stroke="#111" stroke-opacity="1" stroke-width="1.7"/>
<line x1="452.88" x2="452.88" y1="26.92" y2="55.90" stroke="#E41A1C" stroke-opacity="0.82" stroke-width="1.7"/>
<line x1="452.88" x2="452.88" y1="74.09" y2="100.52" stroke="#E41A1C" stroke-opacity="0.82" stroke-width="1.7"/>
<rect x="450.98" y="55.90" width="3.8" height="18.19" fill="#E41A1C" fill-opacity="0.78" stroke="#E41A1C" stroke-opacity="0.85" stroke-width="1.1"/>
<line x1="450.98" x2="454.77" y1="64.39" y2="64.39" stroke="#E41A1C" stroke-width="1.2" stroke-opacity="1"/>
<line x1="457.32" x2="457.32" y1="25.59" y2="52.27" stroke="#377EB8" stroke-opacity="0.82" stroke-width="1.7"/>
<line x1="457.32" x2="457.32" y1="74.09" y2="103.31" stroke="#377EB8" stroke-opacity="0.82" stroke-width="1.7"/>
<rect x="455.43" y="52.27" width="3.8" height="21.83" fill="#377EB8" fill-opacity="0.78" stroke="#377EB8" stroke-opacity="0.85" stroke-width="1.1"/>
<line x1="455.43" x2="459.22" y1="62.93" y2="62.93" stroke="#377EB8" stroke-width="1.2" stroke-opacity="1"/>
<line x1="461.77" x2="461.77" y1="38.93" y2="54.69" stroke="#4DAF4A" stroke-opacity="0.82" stroke-width="1.7"/>
<line x1="461.77" x2="461.77" y1="73.12" y2="113.50" stroke="#4DAF4A" stroke-opacity="0.82" stroke-width="1.7"/>
<rect x="459.88" y="54.69" width="3.8" height="18.43" fill="#4DAF4A" fill-opacity="0.78" stroke="#4DAF4A" stroke-opacity="0.85" stroke-width="1.1"/>
<line x1="459.88" x2="463.67" y1="66.69" y2="66.69" stroke="#4DAF4A" stroke-width="1.2" stroke-opacity="1"/>
<line x1="466.22" x2="466.22" y1="37.11" y2="49.96" stroke="#984EA3" stroke-opacity="0.82" stroke-width="1.7"/>
<line x1="466.22" x2="466.22" y1="71.30" y2="90.70" stroke="#984EA3" stroke-opacity="0.82" stroke-width="1.7"/>
<rect x="464.32" y="49.96" width="3.8" height="21.34" fill="#984EA3" fill-opacity="0.78" stroke="#984EA3" stroke-opacity="0.85" stroke-width="1.1"/>
<line x1="464.32" x2="468.12" y1="60.15" y2="60.15" stroke="#984EA3" stroke-width="1.2" stroke-opacity="1"/>
<line x1="470.67" x2="470.67" y1="30.56" y2="51.54" stroke="#FF7F00" stroke-opacity="0.82" stroke-width="1.7"/>
<line x1="470.67" x2="470.67" y1="84.64" y2="94.46" stroke="#FF7F00" stroke-opacity="0.82" stroke-width="1.7"/>
<rect x="468.77" y="51.54" width="3.8" height="33.10" fill="#FF7F00" fill-opacity="0.78" stroke="#FF7F00" stroke-opacity="0.85" stroke-width="1.1"/>
<line x1="468.77" x2="472.57" y1="64.75" y2="64.75" stroke="#FF7F00" stroke-width="1.2" stroke-opacity="1"/>
<line x1="450.57" x2="472.97" y1="44.99" y2="44.99" stroke="#111" stroke-opacity="1" stroke-width="1.7"/>
<line x1="484.25" x2="484.25" y1="38.56" y2="52.75" stroke="#E41A1C" stroke-opacity="0.82" stroke-width="1.7"/>
<line x1="484.25" x2="484.25" y1="75.55" y2="93.49" stroke="#E41A1C" stroke-opacity="0.82" stroke-width="1.7"/>
<rect x="482.35" y="52.75" width="3.8" height="22.80" fill="#E41A1C" fill-opacity="0.78" stroke="#E41A1C" stroke-opacity="0.85" stroke-width="1.1"/>
<line x1="482.35" x2="486.15" y1="64.75" y2="64.75" stroke="#E41A1C" stroke-width="1.2" stroke-opacity="1"/>
<line x1="488.70" x2="488.70" y1="40.38" y2="51.90" stroke="#377EB8" stroke-opacity="0.82" stroke-width="1.7"/>
<line x1="488.70" x2="488.70" y1="81.85" y2="110.10" stroke="#377EB8" stroke-opacity="0.82" stroke-width="1.7"/>
<rect x="486.80" y="51.90" width="3.8" height="29.95" fill="#377EB8" fill-opacity="0.78" stroke="#377EB8" stroke-opacity="0.85" stroke-width="1.1"/>
<line x1="486.80" x2="490.60" y1="67.54" y2="67.54" stroke="#377EB8" stroke-width="1.2" stroke-opacity="1"/>
<line x1="493.15" x2="493.15" y1="42.56" y2="57.36" stroke="#4DAF4A" stroke-opacity="0.82" stroke-width="1.7"/>
<line x1="493.15" x2="493.15" y1="75.55" y2="98.10" stroke="#4DAF4A" stroke-opacity="0.82" stroke-width="1.7"/>
<rect x="491.25" y="57.36" width="3.8" height="18.19" fill="#4DAF4A" fill-opacity="0.78" stroke="#4DAF4A" stroke-opacity="0.85" stroke-width="1.1"/>
<line x1="491.25" x2="495.05" y1="66.69" y2="66.69" stroke="#4DAF4A" stroke-width="1.2" stroke-opacity="1"/>
<line x1="497.60" x2="497.60" y1="38.93" y2="57.36" stroke="#984EA3" stroke-opacity="0.82" stroke-width="1.7"/>
<line x1="497.60" x2="497.60" y1="81.12" y2="110.10" stroke="#984EA3" stroke-opacity="0.82" stroke-width="1.7"/>
<rect x="495.70" y="57.36" width="3.8" height="23.77" fill="#984EA3" fill-opacity="0.78" stroke="#984EA3" stroke-opacity="0.85" stroke-width="1.1"/>
<line x1="495.70" x2="499.50" y1="66.69" y2="66.69" stroke="#984EA3" stroke-width="1.2" stroke-opacity="1"/>
<line x1="502.05" x2="502.05" y1="34.80" y2="50.93" stroke="#FF7F00" stroke-opacity="0.82" stroke-width="1.7"/>
<line x1="502.05" x2="502.05" y1="72.15" y2="107.68" stroke="#FF7F00" stroke-opacity="0.82" stroke-width="1.7"/>
<rect x="500.15" y="50.93" width="3.8" height="21.22" fill="#FF7F00" fill-opacity="0.78" stroke="#FF7F00" stroke-opacity="0.85" stroke-width="1.1"/>
<line x1="500.15" x2="503.95" y1="62.93" y2="62.93" stroke="#FF7F00" stroke-width="1.2" stroke-opacity="1"/>
<line x1="481.95" x2="504.35" y1="46.32" y2="46.32" stroke="#111" stroke-opacity="1" stroke-width="1.7"/>
<line x1="515.62" x2="515.62" y1="50.57" y2="61.48" stroke="#E41A1C" stroke-opacity="0.82" stroke-width="1.7"/>
<line x1="515.62" x2="515.62" y1="87.91" y2="111.92" stroke="#E41A1C" stroke-opacity="0.82" stroke-width="1.7"/>
<rect x="513.73" y="61.48" width="3.8" height="26.43" fill="#E41A1C" fill-opacity="0.78" stroke="#E41A1C" stroke-opacity="0.85" stroke-width="1.1"/>
<line x1="513.73" x2="517.52" y1="74.94" y2="74.94" stroke="#E41A1C" stroke-width="1.2" stroke-opacity="1"/>
<line x1="520.07" x2="520.07" y1="58.33" y2="66.69" stroke="#377EB8" stroke-opacity="0.82" stroke-width="1.7"/>
<line x1="520.07" x2="520.07" y1="84.27" y2="96.28" stroke="#377EB8" stroke-opacity="0.82" stroke-width="1.7"/>
<rect x="518.17" y="66.69" width="3.8" height="17.58" fill="#377EB8" fill-opacity="0.78" stroke="#377EB8" stroke-opacity="0.85" stroke-width="1.1"/>
<line x1="518.17" x2="521.97" y1="74.09" y2="74.09" stroke="#377EB8" stroke-width="1.2" stroke-opacity="1"/>
<line x1="524.52" x2="524.52" y1="45.96" y2="62.57" stroke="#4DAF4A" stroke-opacity="0.82" stroke-width="1.7"/>
<line x1="524.52" x2="524.52" y1="81.85" y2="98.10" stroke="#4DAF4A" stroke-opacity="0.82" stroke-width="1.7"/>
<rect x="522.62" y="62.57" width="3.8" height="19.28" fill="#4DAF4A" fill-opacity="0.78" stroke="#4DAF4A" stroke-opacity="0.85" stroke-width="1.1"/>
<line x1="522.62" x2="526.42" y1="72.15" y2="72.15" stroke="#4DAF4A" stroke-width="1.2" stroke-opacity="1"/>
<line x1="528.98" x2="528.98" y1="45.96" y2="64.75" stroke="#984EA3" stroke-opacity="0.82" stroke-width="1.7"/>
<line x1="528.98" x2="528.98" y1="85.12" y2="110.10" stroke="#984EA3" stroke-opacity="0.82" stroke-width="1.7"/>
<rect x="527.08" y="64.75" width="3.8" height="20.37" fill="#984EA3" fill-opacity="0.78" stroke="#984EA3" stroke-opacity="0.85" stroke-width="1.1"/>
<line x1="527.08" x2="530.88" y1="75.91" y2="75.91" stroke="#984EA3" stroke-width="1.2" stroke-opacity="1"/>
<line x1="533.42" x2="533.42" y1="43.17" y2="65.72" stroke="#FF7F00" stroke-opacity="0.82" stroke-width="1.7"/>
<line x1="533.42" x2="533.42" y1="85.12" y2="107.31" stroke="#FF7F00" stroke-opacity="0.82" stroke-width="1.7"/>
<rect x="531.52" y="65.72" width="3.8" height="19.40" fill="#FF7F00" fill-opacity="0.78" stroke="#FF7F00" stroke-opacity="0.85" stroke-width="1.1"/>
<line x1="531.52" x2="535.32" y1="75.91" y2="75.91" stroke="#FF7F00" stroke-width="1.2" stroke-opacity="1"/>
<line x1="513.32" x2="535.73" y1="62.09" y2="62.09" stroke="#444" stroke-opacity="0.72" stroke-width="1.7"/>
<line x1="547.00" x2="547.00" y1="39.41" y2="54.69" stroke="#E41A1C" stroke-opacity="0.82" stroke-width="1.7"/>
<line x1="547.00" x2="547.00" y1="71.30" y2="99.07" stroke="#E41A1C" stroke-opacity="0.82" stroke-width="1.7"/>
<rect x="545.10" y="54.69" width="3.8" height="16.61" fill="#E41A1C" fill-opacity="0.78" stroke="#E41A1C" stroke-opacity="0.85" stroke-width="1.1"/>
<line x1="545.10" x2="548.90" y1="63.91" y2="63.91" stroke="#E41A1C" stroke-width="1.2" stroke-opacity="1"/>
<line x1="551.45" x2="551.45" y1="34.80" y2="52.75" stroke="#377EB8" stroke-opacity="0.82" stroke-width="1.7"/>
<line x1="551.45" x2="551.45" y1="78.70" y2="116.28" stroke="#377EB8" stroke-opacity="0.82" stroke-width="1.7"/>
<rect x="549.55" y="52.75" width="3.8" height="25.95" fill="#377EB8" fill-opacity="0.78" stroke="#377EB8" stroke-opacity="0.85" stroke-width="1.1"/>
<line x1="549.55" x2="553.35" y1="66.69" y2="66.69" stroke="#377EB8" stroke-width="1.2" stroke-opacity="1"/>
<line x1="555.90" x2="555.90" y1="35.77" y2="62.93" stroke="#4DAF4A" stroke-opacity="0.82" stroke-width="1.7"/>
<line x1="555.90" x2="555.90" y1="70.33" y2="90.34" stroke="#4DAF4A" stroke-opacity="0.82" stroke-width="1.7"/>
<rect x="554.00" y="62.93" width="3.8" height="7.40" fill="#4DAF4A" fill-opacity="0.78" stroke="#4DAF4A" stroke-opacity="0.85" stroke-width="1.1"/>
<line x1="554.00" x2="557.80" y1="66.69" y2="66.69" stroke="#4DAF4A" stroke-width="1.2" stroke-opacity="1"/>
<line x1="560.35" x2="560.35" y1="44.14" y2="55.54" stroke="#984EA3" stroke-opacity="0.82" stroke-width="1.7"/>
<line x1="560.35" x2="560.35" y1="80.03" y2="116.28" stroke="#984EA3" stroke-opacity="0.82" stroke-width="1.7"/>
<rect x="558.45" y="55.54" width="3.8" height="24.49" fill="#984EA3" fill-opacity="0.78" stroke="#984EA3" stroke-opacity="0.85" stroke-width="1.1"/>
<line x1="558.45" x2="562.25" y1="70.33" y2="70.33" stroke="#984EA3" stroke-width="1.2" stroke-opacity="1"/>
<line x1="564.80" x2="564.80" y1="42.20" y2="62.93" stroke="#FF7F00" stroke-opacity="0.82" stroke-width="1.7"/>
<line x1="564.80" x2="564.80" y1="78.70" y2="99.07" stroke="#FF7F00" stroke-opacity="0.82" stroke-width="1.7"/>
<rect x="562.90" y="62.93" width="3.8" height="15.76" fill="#FF7F00" fill-opacity="0.78" stroke="#FF7F00" stroke-opacity="0.85" stroke-width="1.1"/>
<line x1="562.90" x2="566.70" y1="70.33" y2="70.33" stroke="#FF7F00" stroke-width="1.2" stroke-opacity="1"/>
<line x1="544.70" x2="567.10" y1="62.93" y2="62.93" stroke="#111" stroke-opacity="1" stroke-width="1.7"/>
<rect x="35.4" y="13.0" width="538.70" height="130.5" fill="none" stroke="#333" stroke-width="1.6" stroke-linejoin="round"/>
<text x="304.75" y="7.70" font-size="9" fill="#1A1A1A" stroke="#1A1A1A" stroke-width="0.3" text-anchor="middle">NAO</text>
<text x="31.2" y="22.40" font-size="9.4" fill="#4D4D4D" stroke="#4D4D4D" stroke-width="0.3" text-anchor="end">40</text>
<text x="31.2" y="46.65" font-size="9.4" fill="#4D4D4D" stroke="#4D4D4D" stroke-width="0.3" text-anchor="end">20</text>
<text x="31.2" y="70.90" font-size="9.4" fill="#4D4D4D" stroke="#4D4D4D" stroke-width="0.3" text-anchor="end">0</text>
<text x="31.2" y="95.15" font-size="9.4" fill="#4D4D4D" stroke="#4D4D4D" stroke-width="0.3" text-anchor="end">−20</text>
<text x="31.2" y="119.40" font-size="9.4" fill="#4D4D4D" stroke="#4D4D4D" stroke-width="0.3" text-anchor="end">−40</text>
<text x="31.2" y="143.65" font-size="9.4" fill="#4D4D4D" stroke="#4D4D4D" stroke-width="0.3" text-anchor="end">−60</text>
<line x1="35.4" x2="574.1" y1="172.45" y2="172.45" stroke="#EBEBEB" stroke-width="1.1"/>
<line x1="35.4" x2="574.1" y1="196.70" y2="196.70" stroke="#EBEBEB" stroke-width="1.1"/>
<line x1="35.4" x2="574.1" y1="220.95" y2="220.95" stroke="#EBEBEB" stroke-width="1.1"/>
<line x1="35.4" x2="574.1" y1="245.20" y2="245.20" stroke="#EBEBEB" stroke-width="1.1"/>
<line x1="35.4" x2="574.1" y1="269.45" y2="269.45" stroke="#EBEBEB" stroke-width="1.1"/>
<line x1="35.4" x2="574.1" y1="293.70" y2="293.70" stroke="#EBEBEB" stroke-width="1.1"/>
<line x1="53.90" x2="53.90" y1="166.64999999999998" y2="297.15" stroke="#EBEBEB" stroke-width="1.1"/>
<line x1="85.28" x2="85.28" y1="166.64999999999998" y2="297.15" stroke="#EBEBEB" stroke-width="1.1"/>
<line x1="116.65" x2="116.65" y1="166.64999999999998" y2="297.15" stroke="#EBEBEB" stroke-width="1.1"/>
<line x1="148.03" x2="148.03" y1="166.64999999999998" y2="297.15" stroke="#EBEBEB" stroke-width="1.1"/>
<line x1="179.40" x2="179.40" y1="166.64999999999998" y2="297.15" stroke="#EBEBEB" stroke-width="1.1"/>
<line x1="210.78" x2="210.78" y1="166.64999999999998" y2="297.15" stroke="#EBEBEB" stroke-width="1.1"/>
<line x1="242.15" x2="242.15" y1="166.64999999999998" y2="297.15" stroke="#EBEBEB" stroke-width="1.1"/>
<line x1="273.52" x2="273.52" y1="166.64999999999998" y2="297.15" stroke="#EBEBEB" stroke-width="1.1"/>
<line x1="304.90" x2="304.90" y1="166.64999999999998" y2="297.15" stroke="#EBEBEB" stroke-width="1.1"/>
<line x1="336.27" x2="336.27" y1="166.64999999999998" y2="297.15" stroke="#EBEBEB" stroke-width="1.1"/>
<line x1="367.65" x2="367.65" y1="166.64999999999998" y2="297.15" stroke="#EBEBEB" stroke-width="1.1"/>
<line x1="399.02" x2="399.02" y1="166.64999999999998" y2="297.15" stroke="#EBEBEB" stroke-width="1.1"/>
<line x1="430.40" x2="430.40" y1="166.64999999999998" y2="297.15" stroke="#EBEBEB" stroke-width="1.1"/>
<line x1="461.77" x2="461.77" y1="166.64999999999998" y2="297.15" stroke="#EBEBEB" stroke-width="1.1"/>
<line x1="493.15" x2="493.15" y1="166.64999999999998" y2="297.15" stroke="#EBEBEB" stroke-width="1.1"/>
<line x1="524.52" x2="524.52" y1="166.64999999999998" y2="297.15" stroke="#EBEBEB" stroke-width="1.1"/>
<line x1="555.90" x2="555.90" y1="166.64999999999998" y2="297.15" stroke="#EBEBEB" stroke-width="1.1"/>
<line x1="45.00" x2="45.00" y1="192.46" y2="211.01" stroke="#E41A1C" stroke-opacity="0.82" stroke-width="1.7"/>
<line x1="45.00" x2="45.00" y1="226.16" y2="248.35" stroke="#E41A1C" stroke-opacity="0.82" stroke-width="1.7"/>
<rect x="43.10" y="211.01" width="3.8" height="15.16" fill="#E41A1C" fill-opacity="0.78" stroke="#E41A1C" stroke-opacity="0.85" stroke-width="1.1"/>
<line x1="43.10" x2="46.90" y1="217.80" y2="217.80" stroke="#E41A1C" stroke-width="1.2" stroke-opacity="1"/>
<line x1="49.45" x2="49.45" y1="191.36" y2="210.04" stroke="#377EB8" stroke-opacity="0.82" stroke-width="1.7"/>
<line x1="49.45" x2="49.45" y1="223.74" y2="240.96" stroke="#377EB8" stroke-opacity="0.82" stroke-width="1.7"/>
<rect x="47.55" y="210.04" width="3.8" height="13.70" fill="#377EB8" fill-opacity="0.78" stroke="#377EB8" stroke-opacity="0.85" stroke-width="1.1"/>
<line x1="47.55" x2="51.35" y1="216.83" y2="216.83" stroke="#377EB8" stroke-width="1.2" stroke-opacity="1"/>
<line x1="53.90" x2="53.90" y1="202.64" y2="213.19" stroke="#4DAF4A" stroke-opacity="0.82" stroke-width="1.7"/>
<line x1="53.90" x2="53.90" y1="231.74" y2="247.38" stroke="#4DAF4A" stroke-opacity="0.82" stroke-width="1.7"/>
<rect x="52.00" y="213.19" width="3.8" height="18.55" fill="#4DAF4A" fill-opacity="0.78" stroke="#4DAF4A" stroke-opacity="0.85" stroke-width="1.1"/>
<line x1="52.00" x2="55.80" y1="221.56" y2="221.56" stroke="#4DAF4A" stroke-width="1.2" stroke-opacity="1"/>
<line x1="58.35" x2="58.35" y1="197.06" y2="212.22" stroke="#984EA3" stroke-opacity="0.82" stroke-width="1.7"/>
<line x1="58.35" x2="58.35" y1="232.23" y2="237.20" stroke="#984EA3" stroke-opacity="0.82" stroke-width="1.7"/>
<rect x="56.45" y="212.22" width="3.8" height="20.01" fill="#984EA3" fill-opacity="0.78" stroke="#984EA3" stroke-opacity="0.85" stroke-width="1.1"/>
<line x1="56.45" x2="60.25" y1="219.98" y2="219.98" stroke="#984EA3" stroke-width="1.2" stroke-opacity="1"/>
<line x1="62.80" x2="62.80" y1="204.46" y2="216.34" stroke="#FF7F00" stroke-opacity="0.82" stroke-width="1.7"/>
<line x1="62.80" x2="62.80" y1="227.01" y2="240.35" stroke="#FF7F00" stroke-opacity="0.82" stroke-width="1.7"/>
<rect x="60.90" y="216.34" width="3.8" height="10.67" fill="#FF7F00" fill-opacity="0.78" stroke="#FF7F00" stroke-opacity="0.85" stroke-width="1.1"/>
<line x1="60.90" x2="64.70" y1="221.56" y2="221.56" stroke="#FF7F00" stroke-width="1.2" stroke-opacity="1"/>
<line x1="42.70" x2="65.10" y1="207.01" y2="207.01" stroke="#111" stroke-opacity="1" stroke-width="1.7"/>
<line x1="76.38" x2="76.38" y1="200.82" y2="211.37" stroke="#E41A1C" stroke-opacity="0.82" stroke-width="1.7"/>
<line x1="76.38" x2="76.38" y1="227.98" y2="247.38" stroke="#E41A1C" stroke-opacity="0.82" stroke-width="1.7"/>
<rect x="74.47" y="211.37" width="3.8" height="16.61" fill="#E41A1C" fill-opacity="0.78" stroke="#E41A1C" stroke-opacity="0.85" stroke-width="1.1"/>
<line x1="74.47" x2="78.28" y1="219.62" y2="219.62" stroke="#E41A1C" stroke-width="1.2" stroke-opacity="1"/>
<line x1="80.83" x2="80.83" y1="187.24" y2="210.04" stroke="#377EB8" stroke-opacity="0.82" stroke-width="1.7"/>
<line x1="80.83" x2="80.83" y1="229.80" y2="248.35" stroke="#377EB8" stroke-opacity="0.82" stroke-width="1.7"/>
<rect x="78.92" y="210.04" width="3.8" height="19.76" fill="#377EB8" fill-opacity="0.78" stroke="#377EB8" stroke-opacity="0.85" stroke-width="1.1"/>
<line x1="78.92" x2="82.73" y1="217.80" y2="217.80" stroke="#377EB8" stroke-width="1.2" stroke-opacity="1"/>
<line x1="85.28" x2="85.28" y1="194.64" y2="212.22" stroke="#4DAF4A" stroke-opacity="0.82" stroke-width="1.7"/>
<line x1="85.28" x2="85.28" y1="228.95" y2="253.32" stroke="#4DAF4A" stroke-opacity="0.82" stroke-width="1.7"/>
<rect x="83.38" y="212.22" width="3.8" height="16.73" fill="#4DAF4A" fill-opacity="0.78" stroke="#4DAF4A" stroke-opacity="0.85" stroke-width="1.1"/>
<line x1="83.38" x2="87.18" y1="218.77" y2="218.77" stroke="#4DAF4A" stroke-width="1.2" stroke-opacity="1"/>
<line x1="89.73" x2="89.73" y1="199.85" y2="206.64" stroke="#984EA3" stroke-opacity="0.82" stroke-width="1.7"/>
<line x1="89.73" x2="89.73" y1="235.38" y2="244.59" stroke="#984EA3" stroke-opacity="0.82" stroke-width="1.7"/>
<rect x="87.83" y="206.64" width="3.8" height="28.74" fill="#984EA3" fill-opacity="0.78" stroke="#984EA3" stroke-opacity="0.85" stroke-width="1.1"/>
<line x1="87.83" x2="91.63" y1="219.62" y2="219.62" stroke="#984EA3" stroke-width="1.2" stroke-opacity="1"/>
<line x1="94.18" x2="94.18" y1="193.43" y2="216.83" stroke="#FF7F00" stroke-opacity="0.82" stroke-width="1.7"/>
<line x1="94.18" x2="94.18" y1="228.95" y2="243.74" stroke="#FF7F00" stroke-opacity="0.82" stroke-width="1.7"/>
<rect x="92.28" y="216.83" width="3.8" height="12.12" fill="#FF7F00" fill-opacity="0.78" stroke="#FF7F00" stroke-opacity="0.85" stroke-width="1.1"/>
<line x1="92.28" x2="96.08" y1="221.56" y2="221.56" stroke="#FF7F00" stroke-width="1.2" stroke-opacity="1"/>
<line x1="74.08" x2="96.48" y1="218.77" y2="218.77" stroke="#111" stroke-opacity="1" stroke-width="1.7"/>
<line x1="107.75" x2="107.75" y1="189.06" y2="208.58" stroke="#E41A1C" stroke-opacity="0.82" stroke-width="1.7"/>
<line x1="107.75" x2="107.75" y1="227.01" y2="258.54" stroke="#E41A1C" stroke-opacity="0.82" stroke-width="1.7"/>
<rect x="105.85" y="208.58" width="3.8" height="18.43" fill="#E41A1C" fill-opacity="0.78" stroke="#E41A1C" stroke-opacity="0.85" stroke-width="1.1"/>
<line x1="105.85" x2="109.65" y1="215.98" y2="215.98" stroke="#E41A1C" stroke-width="1.2" stroke-opacity="1"/>
<line x1="112.20" x2="112.20" y1="196.46" y2="203.00" stroke="#377EB8" stroke-opacity="0.82" stroke-width="1.7"/>
<line x1="112.20" x2="112.20" y1="230.77" y2="254.78" stroke="#377EB8" stroke-opacity="0.82" stroke-width="1.7"/>
<rect x="110.30" y="203.00" width="3.8" height="27.77" fill="#377EB8" fill-opacity="0.78" stroke="#377EB8" stroke-opacity="0.85" stroke-width="1.1"/>
<line x1="110.30" x2="114.10" y1="215.98" y2="215.98" stroke="#377EB8" stroke-width="1.2" stroke-opacity="1"/>
<line x1="116.65" x2="116.65" y1="197.43" y2="214.52" stroke="#4DAF4A" stroke-opacity="0.82" stroke-width="1.7"/>
<line x1="116.65" x2="116.65" y1="225.56" y2="237.20" stroke="#4DAF4A" stroke-opacity="0.82" stroke-width="1.7"/>
<rect x="114.75" y="214.52" width="3.8" height="11.03" fill="#4DAF4A" fill-opacity="0.78" stroke="#4DAF4A" stroke-opacity="0.85" stroke-width="1.1"/>
<line x1="114.75" x2="118.55" y1="220.59" y2="220.59" stroke="#4DAF4A" stroke-width="1.2" stroke-opacity="1"/>
<line x1="121.10" x2="121.10" y1="190.39" y2="203.97" stroke="#984EA3" stroke-opacity="0.82" stroke-width="1.7"/>
<line x1="121.10" x2="121.10" y1="229.80" y2="242.77" stroke="#984EA3" stroke-opacity="0.82" stroke-width="1.7"/>
<rect x="119.20" y="203.97" width="3.8" height="25.83" fill="#984EA3" fill-opacity="0.78" stroke="#984EA3" stroke-opacity="0.85" stroke-width="1.1"/>
<line x1="119.20" x2="123.00" y1="214.16" y2="214.16" stroke="#984EA3" stroke-width="1.2" stroke-opacity="1"/>
<line x1="125.55" x2="125.55" y1="207.01" y2="213.19" stroke="#FF7F00" stroke-opacity="0.82" stroke-width="1.7"/>
<line x1="125.55" x2="125.55" y1="223.38" y2="235.38" stroke="#FF7F00" stroke-opacity="0.82" stroke-width="1.7"/>
<rect x="123.65" y="213.19" width="3.8" height="10.19" fill="#FF7F00" fill-opacity="0.78" stroke="#FF7F00" stroke-opacity="0.85" stroke-width="1.1"/>
<line x1="123.65" x2="127.45" y1="220.59" y2="220.59" stroke="#FF7F00" stroke-width="1.2" stroke-opacity="1"/>
<line x1="105.45" x2="127.85" y1="222.41" y2="222.41" stroke="#111" stroke-opacity="1" stroke-width="1.7"/>
<line x1="139.12" x2="139.12" y1="189.06" y2="208.58" stroke="#E41A1C" stroke-opacity="0.82" stroke-width="1.7"/>
<line x1="139.12" x2="139.12" y1="225.56" y2="248.35" stroke="#E41A1C" stroke-opacity="0.82" stroke-width="1.7"/>
<rect x="137.22" y="208.58" width="3.8" height="16.97" fill="#E41A1C" fill-opacity="0.78" stroke="#E41A1C" stroke-opacity="0.85" stroke-width="1.1"/>
<line x1="137.22" x2="141.03" y1="218.77" y2="218.77" stroke="#E41A1C" stroke-width="1.2" stroke-opacity="1"/>
<line x1="143.58" x2="143.58" y1="180.21" y2="203.00" stroke="#377EB8" stroke-opacity="0.82" stroke-width="1.7"/>
<line x1="143.58" x2="143.58" y1="225.19" y2="248.35" stroke="#377EB8" stroke-opacity="0.82" stroke-width="1.7"/>
<rect x="141.68" y="203.00" width="3.8" height="22.19" fill="#377EB8" fill-opacity="0.78" stroke="#377EB8" stroke-opacity="0.85" stroke-width="1.1"/>
<line x1="141.68" x2="145.48" y1="214.52" y2="214.52" stroke="#377EB8" stroke-width="1.2" stroke-opacity="1"/>
<line x1="148.03" x2="148.03" y1="187.85" y2="209.43" stroke="#4DAF4A" stroke-opacity="0.82" stroke-width="1.7"/>
<line x1="148.03" x2="148.03" y1="221.19" y2="237.80" stroke="#4DAF4A" stroke-opacity="0.82" stroke-width="1.7"/>
<rect x="146.12" y="209.43" width="3.8" height="11.76" fill="#4DAF4A" fill-opacity="0.78" stroke="#4DAF4A" stroke-opacity="0.85" stroke-width="1.1"/>
<line x1="146.12" x2="149.93" y1="215.01" y2="215.01" stroke="#4DAF4A" stroke-width="1.2" stroke-opacity="1"/>
<line x1="152.47" x2="152.47" y1="188.21" y2="218.16" stroke="#984EA3" stroke-opacity="0.82" stroke-width="1.7"/>
<line x1="152.47" x2="152.47" y1="229.80" y2="242.77" stroke="#984EA3" stroke-opacity="0.82" stroke-width="1.7"/>
<rect x="150.57" y="218.16" width="3.8" height="11.64" fill="#984EA3" fill-opacity="0.78" stroke="#984EA3" stroke-opacity="0.85" stroke-width="1.1"/>
<line x1="150.57" x2="154.38" y1="224.22" y2="224.22" stroke="#984EA3" stroke-width="1.2" stroke-opacity="1"/>
<line x1="156.93" x2="156.93" y1="197.79" y2="210.04" stroke="#FF7F00" stroke-opacity="0.82" stroke-width="1.7"/>
<line x1="156.93" x2="156.93" y1="226.65" y2="247.38" stroke="#FF7F00" stroke-opacity="0.82" stroke-width="1.7"/>
<rect x="155.03" y="210.04" width="3.8" height="16.61" fill="#FF7F00" fill-opacity="0.78" stroke="#FF7F00" stroke-opacity="0.85" stroke-width="1.1"/>
<line x1="155.03" x2="158.83" y1="218.77" y2="218.77" stroke="#FF7F00" stroke-width="1.2" stroke-opacity="1"/>
<line x1="136.83" x2="159.22" y1="232.23" y2="232.23" stroke="#111" stroke-opacity="1" stroke-width="1.7"/>
<line x1="170.50" x2="170.50" y1="198.88" y2="213.19" stroke="#E41A1C" stroke-opacity="0.82" stroke-width="1.7"/>
<line x1="170.50" x2="170.50" y1="232.23" y2="254.41" stroke="#E41A1C" stroke-opacity="0.82" stroke-width="1.7"/>
<rect x="168.60" y="213.19" width="3.8" height="19.04" fill="#E41A1C" fill-opacity="0.78" stroke="#E41A1C" stroke-opacity="0.85" stroke-width="1.1"/>
<line x1="168.60" x2="172.40" y1="223.38" y2="223.38" stroke="#E41A1C" stroke-width="1.2" stroke-opacity="1"/>
<line x1="174.95" x2="174.95" y1="204.46" y2="214.52" stroke="#377EB8" stroke-opacity="0.82" stroke-width="1.7"/>
<line x1="174.95" x2="174.95" y1="232.23" y2="258.54" stroke="#377EB8" stroke-opacity="0.82" stroke-width="1.7"/>
<rect x="173.05" y="214.52" width="3.8" height="17.70" fill="#377EB8" fill-opacity="0.78" stroke="#377EB8" stroke-opacity="0.85" stroke-width="1.1"/>
<line x1="173.05" x2="176.85" y1="223.74" y2="223.74" stroke="#377EB8" stroke-width="1.2" stroke-opacity="1"/>
<line x1="179.40" x2="179.40" y1="190.03" y2="214.52" stroke="#4DAF4A" stroke-opacity="0.82" stroke-width="1.7"/>
<line x1="179.40" x2="179.40" y1="226.65" y2="244.11" stroke="#4DAF4A" stroke-opacity="0.82" stroke-width="1.7"/>
<rect x="177.50" y="214.52" width="3.8" height="12.12" fill="#4DAF4A" fill-opacity="0.78" stroke="#4DAF4A" stroke-opacity="0.85" stroke-width="1.1"/>
<line x1="177.50" x2="181.30" y1="220.59" y2="220.59" stroke="#4DAF4A" stroke-width="1.2" stroke-opacity="1"/>
<line x1="183.85" x2="183.85" y1="190.64" y2="203.97" stroke="#984EA3" stroke-opacity="0.82" stroke-width="1.7"/>
<line x1="183.85" x2="183.85" y1="225.56" y2="240.96" stroke="#984EA3" stroke-opacity="0.82" stroke-width="1.7"/>
<rect x="181.95" y="203.97" width="3.8" height="21.58" fill="#984EA3" fill-opacity="0.78" stroke="#984EA3" stroke-opacity="0.85" stroke-width="1.1"/>
<line x1="181.95" x2="185.75" y1="214.52" y2="214.52" stroke="#984EA3" stroke-width="1.2" stroke-opacity="1"/>
<line x1="188.30" x2="188.30" y1="208.95" y2="217.80" stroke="#FF7F00" stroke-opacity="0.82" stroke-width="1.7"/>
<line x1="188.30" x2="188.30" y1="231.13" y2="237.80" stroke="#FF7F00" stroke-opacity="0.82" stroke-width="1.7"/>
<rect x="186.40" y="217.80" width="3.8" height="13.34" fill="#FF7F00" fill-opacity="0.78" stroke="#FF7F00" stroke-opacity="0.85" stroke-width="1.1"/>
<line x1="186.40" x2="190.20" y1="223.38" y2="223.38" stroke="#FF7F00" stroke-width="1.2" stroke-opacity="1"/>
<line x1="168.20" x2="190.60" y1="254.41" y2="254.41" stroke="#444" stroke-opacity="0.72" stroke-width="1.7"/>
<line x1="201.88" x2="201.88" y1="197.79" y2="212.58" stroke="#E41A1C" stroke-opacity="0.82" stroke-width="1.7"/>
<line x1="201.88" x2="201.88" y1="228.95" y2="250.78" stroke="#E41A1C" stroke-opacity="0.82" stroke-width="1.7"/>
<rect x="199.97" y="212.58" width="3.8" height="16.37" fill="#E41A1C" fill-opacity="0.78" stroke="#E41A1C" stroke-opacity="0.85" stroke-width="1.1"/>
<line x1="199.97" x2="203.78" y1="220.59" y2="220.59" stroke="#E41A1C" stroke-width="1.2" stroke-opacity="1"/>
<line x1="206.33" x2="206.33" y1="190.39" y2="210.40" stroke="#377EB8" stroke-opacity="0.82" stroke-width="1.7"/>
<line x1="206.33" x2="206.33" y1="224.83" y2="237.80" stroke="#377EB8" stroke-opacity="0.82" stroke-width="1.7"/>
<rect x="204.43" y="210.40" width="3.8" height="14.43" fill="#377EB8" fill-opacity="0.78" stroke="#377EB8" stroke-opacity="0.85" stroke-width="1.1"/>
<line x1="204.43" x2="208.23" y1="215.98" y2="215.98" stroke="#377EB8" stroke-width="1.2" stroke-opacity="1"/>
<line x1="210.78" x2="210.78" y1="204.82" y2="215.61" stroke="#4DAF4A" stroke-opacity="0.82" stroke-width="1.7"/>
<line x1="210.78" x2="210.78" y1="232.23" y2="256.35" stroke="#4DAF4A" stroke-opacity="0.82" stroke-width="1.7"/>
<rect x="208.88" y="215.61" width="3.8" height="16.61" fill="#4DAF4A" fill-opacity="0.78" stroke="#4DAF4A" stroke-opacity="0.85" stroke-width="1.1"/>
<line x1="208.88" x2="212.68" y1="222.41" y2="222.41" stroke="#4DAF4A" stroke-width="1.2" stroke-opacity="1"/>
<line x1="215.22" x2="215.22" y1="203.00" y2="215.01" stroke="#984EA3" stroke-opacity="0.82" stroke-width="1.7"/>
<line x1="215.22" x2="215.22" y1="226.16" y2="247.38" stroke="#984EA3" stroke-opacity="0.82" stroke-width="1.7"/>
<rect x="213.32" y="215.01" width="3.8" height="11.16" fill="#984EA3" fill-opacity="0.78" stroke="#984EA3" stroke-opacity="0.85" stroke-width="1.1"/>
<line x1="213.32" x2="217.12" y1="221.56" y2="221.56" stroke="#984EA3" stroke-width="1.2" stroke-opacity="1"/>
<line x1="219.68" x2="219.68" y1="187.24" y2="215.61" stroke="#FF7F00" stroke-opacity="0.82" stroke-width="1.7"/>
<line x1="219.68" x2="219.68" y1="228.95" y2="239.99" stroke="#FF7F00" stroke-opacity="0.82" stroke-width="1.7"/>
<rect x="217.78" y="215.61" width="3.8" height="13.34" fill="#FF7F00" fill-opacity="0.78" stroke="#FF7F00" stroke-opacity="0.85" stroke-width="1.1"/>
<line x1="217.78" x2="221.58" y1="221.56" y2="221.56" stroke="#FF7F00" stroke-width="1.2" stroke-opacity="1"/>
<line x1="199.58" x2="221.97" y1="240.59" y2="240.59" stroke="#111" stroke-opacity="1" stroke-width="1.7"/>
<line x1="233.25" x2="233.25" y1="199.25" y2="214.16" stroke="#E41A1C" stroke-opacity="0.82" stroke-width="1.7"/>
<line x1="233.25" x2="233.25" y1="236.71" y2="252.96" stroke="#E41A1C" stroke-opacity="0.82" stroke-width="1.7"/>
<rect x="231.35" y="214.16" width="3.8" height="22.55" fill="#E41A1C" fill-opacity="0.78" stroke="#E41A1C" stroke-opacity="0.85" stroke-width="1.1"/>
<line x1="231.35" x2="235.15" y1="224.83" y2="224.83" stroke="#E41A1C" stroke-width="1.2" stroke-opacity="1"/>
<line x1="237.70" x2="237.70" y1="197.43" y2="209.43" stroke="#377EB8" stroke-opacity="0.82" stroke-width="1.7"/>
<line x1="237.70" x2="237.70" y1="230.41" y2="244.59" stroke="#377EB8" stroke-opacity="0.82" stroke-width="1.7"/>
<rect x="235.80" y="209.43" width="3.8" height="20.98" fill="#377EB8" fill-opacity="0.78" stroke="#377EB8" stroke-opacity="0.85" stroke-width="1.1"/>
<line x1="235.80" x2="239.60" y1="220.59" y2="220.59" stroke="#377EB8" stroke-width="1.2" stroke-opacity="1"/>
<line x1="242.15" x2="242.15" y1="193.79" y2="211.37" stroke="#4DAF4A" stroke-opacity="0.82" stroke-width="1.7"/>
<line x1="242.15" x2="242.15" y1="223.38" y2="245.56" stroke="#4DAF4A" stroke-opacity="0.82" stroke-width="1.7"/>
<rect x="240.25" y="211.37" width="3.8" height="12.00" fill="#4DAF4A" fill-opacity="0.78" stroke="#4DAF4A" stroke-opacity="0.85" stroke-width="1.1"/>
<line x1="240.25" x2="244.05" y1="217.80" y2="217.80" stroke="#4DAF4A" stroke-width="1.2" stroke-opacity="1"/>
<line x1="246.60" x2="246.60" y1="191.36" y2="213.19" stroke="#984EA3" stroke-opacity="0.82" stroke-width="1.7"/>
<line x1="246.60" x2="246.60" y1="227.98" y2="251.50" stroke="#984EA3" stroke-opacity="0.82" stroke-width="1.7"/>
<rect x="244.70" y="213.19" width="3.8" height="14.79" fill="#984EA3" fill-opacity="0.78" stroke="#984EA3" stroke-opacity="0.85" stroke-width="1.1"/>
<line x1="244.70" x2="248.50" y1="219.62" y2="219.62" stroke="#984EA3" stroke-width="1.2" stroke-opacity="1"/>
<line x1="251.05" x2="251.05" y1="191.36" y2="211.37" stroke="#FF7F00" stroke-opacity="0.82" stroke-width="1.7"/>
<line x1="251.05" x2="251.05" y1="229.80" y2="241.93" stroke="#FF7F00" stroke-opacity="0.82" stroke-width="1.7"/>
<rect x="249.15" y="211.37" width="3.8" height="18.43" fill="#FF7F00" fill-opacity="0.78" stroke="#FF7F00" stroke-opacity="0.85" stroke-width="1.1"/>
<line x1="249.15" x2="252.95" y1="220.59" y2="220.59" stroke="#FF7F00" stroke-width="1.2" stroke-opacity="1"/>
<line x1="230.95" x2="253.35" y1="205.43" y2="205.43" stroke="#444" stroke-opacity="0.72" stroke-width="1.7"/>
<line x1="264.62" x2="264.62" y1="195.61" y2="212.22" stroke="#E41A1C" stroke-opacity="0.82" stroke-width="1.7"/>
<line x1="264.62" x2="264.62" y1="226.16" y2="242.77" stroke="#E41A1C" stroke-opacity="0.82" stroke-width="1.7"/>
<rect x="262.73" y="212.22" width="3.8" height="13.94" fill="#E41A1C" fill-opacity="0.78" stroke="#E41A1C" stroke-opacity="0.85" stroke-width="1.1"/>
<line x1="262.73" x2="266.52" y1="218.77" y2="218.77" stroke="#E41A1C" stroke-width="1.2" stroke-opacity="1"/>
<line x1="269.07" x2="269.07" y1="195.61" y2="211.37" stroke="#377EB8" stroke-opacity="0.82" stroke-width="1.7"/>
<line x1="269.07" x2="269.07" y1="226.16" y2="253.32" stroke="#377EB8" stroke-opacity="0.82" stroke-width="1.7"/>
<rect x="267.18" y="211.37" width="3.8" height="14.79" fill="#377EB8" fill-opacity="0.78" stroke="#377EB8" stroke-opacity="0.85" stroke-width="1.1"/>
<line x1="267.18" x2="270.97" y1="218.77" y2="218.77" stroke="#377EB8" stroke-width="1.2" stroke-opacity="1"/>
<line x1="273.52" x2="273.52" y1="190.03" y2="213.19" stroke="#4DAF4A" stroke-opacity="0.82" stroke-width="1.7"/>
<line x1="273.52" x2="273.52" y1="231.74" y2="250.78" stroke="#4DAF4A" stroke-opacity="0.82" stroke-width="1.7"/>
<rect x="271.62" y="213.19" width="3.8" height="18.55" fill="#4DAF4A" fill-opacity="0.78" stroke="#4DAF4A" stroke-opacity="0.85" stroke-width="1.1"/>
<line x1="271.62" x2="275.42" y1="221.56" y2="221.56" stroke="#4DAF4A" stroke-width="1.2" stroke-opacity="1"/>
<line x1="277.97" x2="277.97" y1="200.22" y2="215.98" stroke="#984EA3" stroke-opacity="0.82" stroke-width="1.7"/>
<line x1="277.97" x2="277.97" y1="234.04" y2="255.75" stroke="#984EA3" stroke-opacity="0.82" stroke-width="1.7"/>
<rect x="276.07" y="215.98" width="3.8" height="18.07" fill="#984EA3" fill-opacity="0.78" stroke="#984EA3" stroke-opacity="0.85" stroke-width="1.1"/>
<line x1="276.07" x2="279.87" y1="226.16" y2="226.16" stroke="#984EA3" stroke-width="1.2" stroke-opacity="1"/>
<line x1="282.42" x2="282.42" y1="195.61" y2="211.37" stroke="#FF7F00" stroke-opacity="0.82" stroke-width="1.7"/>
<line x1="282.42" x2="282.42" y1="233.56" y2="240.35" stroke="#FF7F00" stroke-opacity="0.82" stroke-width="1.7"/>
<rect x="280.52" y="211.37" width="3.8" height="22.19" fill="#FF7F00" fill-opacity="0.78" stroke="#FF7F00" stroke-opacity="0.85" stroke-width="1.1"/>
<line x1="280.52" x2="284.32" y1="220.59" y2="220.59" stroke="#FF7F00" stroke-width="1.2" stroke-opacity="1"/>
<line x1="262.32" x2="284.72" y1="219.62" y2="219.62" stroke="#111" stroke-opacity="1" stroke-width="1.7"/>
<line x1="296.00" x2="296.00" y1="197.06" y2="210.04" stroke="#E41A1C" stroke-opacity="0.82" stroke-width="1.7"/>
<line x1="296.00" x2="296.00" y1="224.22" y2="238.53" stroke="#E41A1C" stroke-opacity="0.82" stroke-width="1.7"/>
<rect x="294.10" y="210.04" width="3.8" height="14.19" fill="#E41A1C" fill-opacity="0.78" stroke="#E41A1C" stroke-opacity="0.85" stroke-width="1.1"/>
<line x1="294.10" x2="297.90" y1="217.43" y2="217.43" stroke="#E41A1C" stroke-width="1.2" stroke-opacity="1"/>
<line x1="300.45" x2="300.45" y1="190.64" y2="217.80" stroke="#377EB8" stroke-opacity="0.82" stroke-width="1.7"/>
<line x1="300.45" x2="300.45" y1="234.41" y2="248.35" stroke="#377EB8" stroke-opacity="0.82" stroke-width="1.7"/>
<rect x="298.55" y="217.80" width="3.8" height="16.61" fill="#377EB8" fill-opacity="0.78" stroke="#377EB8" stroke-opacity="0.85" stroke-width="1.1"/>
<line x1="298.55" x2="302.35" y1="225.19" y2="225.19" stroke="#377EB8" stroke-width="1.2" stroke-opacity="1"/>
<line x1="304.90" x2="304.90" y1="193.43" y2="214.52" stroke="#4DAF4A" stroke-opacity="0.82" stroke-width="1.7"/>
<line x1="304.90" x2="304.90" y1="235.98" y2="254.78" stroke="#4DAF4A" stroke-opacity="0.82" stroke-width="1.7"/>
<rect x="303.00" y="214.52" width="3.8" height="21.46" fill="#4DAF4A" fill-opacity="0.78" stroke="#4DAF4A" stroke-opacity="0.85" stroke-width="1.1"/>
<line x1="303.00" x2="306.80" y1="221.56" y2="221.56" stroke="#4DAF4A" stroke-width="1.2" stroke-opacity="1"/>
<line x1="309.35" x2="309.35" y1="199.85" y2="218.16" stroke="#984EA3" stroke-opacity="0.82" stroke-width="1.7"/>
<line x1="309.35" x2="309.35" y1="229.80" y2="245.56" stroke="#984EA3" stroke-opacity="0.82" stroke-width="1.7"/>
<rect x="307.45" y="218.16" width="3.8" height="11.64" fill="#984EA3" fill-opacity="0.78" stroke="#984EA3" stroke-opacity="0.85" stroke-width="1.1"/>
<line x1="307.45" x2="311.25" y1="225.19" y2="225.19" stroke="#984EA3" stroke-width="1.2" stroke-opacity="1"/>
<line x1="313.80" x2="313.80" y1="198.40" y2="215.98" stroke="#FF7F00" stroke-opacity="0.82" stroke-width="1.7"/>
<line x1="313.80" x2="313.80" y1="232.23" y2="245.20" stroke="#FF7F00" stroke-opacity="0.82" stroke-width="1.7"/>
<rect x="311.90" y="215.98" width="3.8" height="16.25" fill="#FF7F00" fill-opacity="0.78" stroke="#FF7F00" stroke-opacity="0.85" stroke-width="1.1"/>
<line x1="311.90" x2="315.70" y1="223.38" y2="223.38" stroke="#FF7F00" stroke-width="1.2" stroke-opacity="1"/>
<line x1="293.70" x2="316.10" y1="225.19" y2="225.19" stroke="#111" stroke-opacity="1" stroke-width="1.7"/>
<line x1="327.38" x2="327.38" y1="194.64" y2="211.37" stroke="#E41A1C" stroke-opacity="0.82" stroke-width="1.7"/>
<line x1="327.38" x2="327.38" y1="234.04" y2="242.29" stroke="#E41A1C" stroke-opacity="0.82" stroke-width="1.7"/>
<rect x="325.48" y="211.37" width="3.8" height="22.67" fill="#E41A1C" fill-opacity="0.78" stroke="#E41A1C" stroke-opacity="0.85" stroke-width="1.1"/>
<line x1="325.48" x2="329.27" y1="222.41" y2="222.41" stroke="#E41A1C" stroke-width="1.2" stroke-opacity="1"/>
<line x1="331.82" x2="331.82" y1="183.60" y2="209.43" stroke="#377EB8" stroke-opacity="0.82" stroke-width="1.7"/>
<line x1="331.82" x2="331.82" y1="229.80" y2="240.96" stroke="#377EB8" stroke-opacity="0.82" stroke-width="1.7"/>
<rect x="329.93" y="209.43" width="3.8" height="20.37" fill="#377EB8" fill-opacity="0.78" stroke="#377EB8" stroke-opacity="0.85" stroke-width="1.1"/>
<line x1="329.93" x2="333.72" y1="218.77" y2="218.77" stroke="#377EB8" stroke-width="1.2" stroke-opacity="1"/>
<line x1="336.27" x2="336.27" y1="203.00" y2="216.83" stroke="#4DAF4A" stroke-opacity="0.82" stroke-width="1.7"/>
<line x1="336.27" x2="336.27" y1="236.35" y2="247.38" stroke="#4DAF4A" stroke-opacity="0.82" stroke-width="1.7"/>
<rect x="334.38" y="216.83" width="3.8" height="19.52" fill="#4DAF4A" fill-opacity="0.78" stroke="#4DAF4A" stroke-opacity="0.85" stroke-width="1.1"/>
<line x1="334.38" x2="338.17" y1="224.83" y2="224.83" stroke="#4DAF4A" stroke-width="1.2" stroke-opacity="1"/>
<line x1="340.72" x2="340.72" y1="190.03" y2="213.19" stroke="#984EA3" stroke-opacity="0.82" stroke-width="1.7"/>
<line x1="340.72" x2="340.72" y1="233.56" y2="242.29" stroke="#984EA3" stroke-opacity="0.82" stroke-width="1.7"/>
<rect x="338.82" y="213.19" width="3.8" height="20.37" fill="#984EA3" fill-opacity="0.78" stroke="#984EA3" stroke-opacity="0.85" stroke-width="1.1"/>
<line x1="338.82" x2="342.62" y1="219.62" y2="219.62" stroke="#984EA3" stroke-width="1.2" stroke-opacity="1"/>
<line x1="345.17" x2="345.17" y1="199.25" y2="209.43" stroke="#FF7F00" stroke-opacity="0.82" stroke-width="1.7"/>
<line x1="345.17" x2="345.17" y1="224.22" y2="238.17" stroke="#FF7F00" stroke-opacity="0.82" stroke-width="1.7"/>
<rect x="343.27" y="209.43" width="3.8" height="14.79" fill="#FF7F00" fill-opacity="0.78" stroke="#FF7F00" stroke-opacity="0.85" stroke-width="1.1"/>
<line x1="343.27" x2="347.07" y1="216.83" y2="216.83" stroke="#FF7F00" stroke-width="1.2" stroke-opacity="1"/>
<line x1="325.07" x2="347.47" y1="209.07" y2="209.07" stroke="#444" stroke-opacity="0.72" stroke-width="1.7"/>
<line x1="358.75" x2="358.75" y1="199.25" y2="216.83" stroke="#E41A1C" stroke-opacity="0.82" stroke-width="1.7"/>
<line x1="358.75" x2="358.75" y1="225.56" y2="239.14" stroke="#E41A1C" stroke-opacity="0.82" stroke-width="1.7"/>
<rect x="356.85" y="216.83" width="3.8" height="8.73" fill="#E41A1C" fill-opacity="0.78" stroke="#E41A1C" stroke-opacity="0.85" stroke-width="1.1"/>
<line x1="356.85" x2="360.65" y1="221.56" y2="221.56" stroke="#E41A1C" stroke-width="1.2" stroke-opacity="1"/>
<line x1="363.20" x2="363.20" y1="206.28" y2="221.19" stroke="#377EB8" stroke-opacity="0.82" stroke-width="1.7"/>
<line x1="363.20" x2="363.20" y1="238.17" y2="248.35" stroke="#377EB8" stroke-opacity="0.82" stroke-width="1.7"/>
<rect x="361.30" y="221.19" width="3.8" height="16.97" fill="#377EB8" fill-opacity="0.78" stroke="#377EB8" stroke-opacity="0.85" stroke-width="1.1"/>
<line x1="361.30" x2="365.10" y1="229.80" y2="229.80" stroke="#377EB8" stroke-width="1.2" stroke-opacity="1"/>
<line x1="367.65" x2="367.65" y1="207.01" y2="222.41" stroke="#4DAF4A" stroke-opacity="0.82" stroke-width="1.7"/>
<line x1="367.65" x2="367.65" y1="235.38" y2="256.35" stroke="#4DAF4A" stroke-opacity="0.82" stroke-width="1.7"/>
<rect x="365.75" y="222.41" width="3.8" height="12.97" fill="#4DAF4A" fill-opacity="0.78" stroke="#4DAF4A" stroke-opacity="0.85" stroke-width="1.1"/>
<line x1="365.75" x2="369.55" y1="228.95" y2="228.95" stroke="#4DAF4A" stroke-width="1.2" stroke-opacity="1"/>
<line x1="372.10" x2="372.10" y1="208.95" y2="220.59" stroke="#984EA3" stroke-opacity="0.82" stroke-width="1.7"/>
<line x1="372.10" x2="372.10" y1="237.20" y2="245.56" stroke="#984EA3" stroke-opacity="0.82" stroke-width="1.7"/>
<rect x="370.20" y="220.59" width="3.8" height="16.61" fill="#984EA3" fill-opacity="0.78" stroke="#984EA3" stroke-opacity="0.85" stroke-width="1.1"/>
<line x1="370.20" x2="374.00" y1="227.98" y2="227.98" stroke="#984EA3" stroke-width="1.2" stroke-opacity="1"/>
<line x1="376.55" x2="376.55" y1="201.19" y2="219.62" stroke="#FF7F00" stroke-opacity="0.82" stroke-width="1.7"/>
<line x1="376.55" x2="376.55" y1="232.59" y2="247.38" stroke="#FF7F00" stroke-opacity="0.82" stroke-width="1.7"/>
<rect x="374.65" y="219.62" width="3.8" height="12.97" fill="#FF7F00" fill-opacity="0.78" stroke="#FF7F00" stroke-opacity="0.85" stroke-width="1.1"/>
<line x1="374.65" x2="378.45" y1="227.01" y2="227.01" stroke="#FF7F00" stroke-width="1.2" stroke-opacity="1"/>
<line x1="356.45" x2="378.85" y1="221.19" y2="221.19" stroke="#111" stroke-opacity="1" stroke-width="1.7"/>
<line x1="390.12" x2="390.12" y1="200.22" y2="214.16" stroke="#E41A1C" stroke-opacity="0.82" stroke-width="1.7"/>
<line x1="390.12" x2="390.12" y1="231.13" y2="251.14" stroke="#E41A1C" stroke-opacity="0.82" stroke-width="1.7"/>
<rect x="388.23" y="214.16" width="3.8" height="16.97" fill="#E41A1C" fill-opacity="0.78" stroke="#E41A1C" stroke-opacity="0.85" stroke-width="1.1"/>
<line x1="388.23" x2="392.02" y1="222.41" y2="222.41" stroke="#E41A1C" stroke-width="1.2" stroke-opacity="1"/>
<line x1="394.57" x2="394.57" y1="209.79" y2="221.19" stroke="#377EB8" stroke-opacity="0.82" stroke-width="1.7"/>
<line x1="394.57" x2="394.57" y1="236.35" y2="255.75" stroke="#377EB8" stroke-opacity="0.82" stroke-width="1.7"/>
<rect x="392.68" y="221.19" width="3.8" height="15.16" fill="#377EB8" fill-opacity="0.78" stroke="#377EB8" stroke-opacity="0.85" stroke-width="1.1"/>
<line x1="392.68" x2="396.47" y1="228.95" y2="228.95" stroke="#377EB8" stroke-width="1.2" stroke-opacity="1"/>
<line x1="399.02" x2="399.02" y1="203.97" y2="215.01" stroke="#4DAF4A" stroke-opacity="0.82" stroke-width="1.7"/>
<line x1="399.02" x2="399.02" y1="232.23" y2="244.59" stroke="#4DAF4A" stroke-opacity="0.82" stroke-width="1.7"/>
<rect x="397.12" y="215.01" width="3.8" height="17.22" fill="#4DAF4A" fill-opacity="0.78" stroke="#4DAF4A" stroke-opacity="0.85" stroke-width="1.1"/>
<line x1="397.12" x2="400.92" y1="224.22" y2="224.22" stroke="#4DAF4A" stroke-width="1.2" stroke-opacity="1"/>
<line x1="403.47" x2="403.47" y1="185.91" y2="216.83" stroke="#984EA3" stroke-opacity="0.82" stroke-width="1.7"/>
<line x1="403.47" x2="403.47" y1="230.77" y2="247.38" stroke="#984EA3" stroke-opacity="0.82" stroke-width="1.7"/>
<rect x="401.57" y="216.83" width="3.8" height="13.94" fill="#984EA3" fill-opacity="0.78" stroke="#984EA3" stroke-opacity="0.85" stroke-width="1.1"/>
<line x1="401.57" x2="405.37" y1="223.38" y2="223.38" stroke="#984EA3" stroke-width="1.2" stroke-opacity="1"/>
<line x1="407.92" x2="407.92" y1="203.00" y2="219.62" stroke="#FF7F00" stroke-opacity="0.82" stroke-width="1.7"/>
<line x1="407.92" x2="407.92" y1="234.89" y2="245.20" stroke="#FF7F00" stroke-opacity="0.82" stroke-width="1.7"/>
<rect x="406.02" y="219.62" width="3.8" height="15.28" fill="#FF7F00" fill-opacity="0.78" stroke="#FF7F00" stroke-opacity="0.85" stroke-width="1.1"/>
<line x1="406.02" x2="409.82" y1="227.01" y2="227.01" stroke="#FF7F00" stroke-width="1.2" stroke-opacity="1"/>
<line x1="387.82" x2="410.22" y1="244.59" y2="244.59" stroke="#444" stroke-opacity="0.72" stroke-width="1.7"/>
<line x1="421.50" x2="421.50" y1="186.39" y2="215.01" stroke="#E41A1C" stroke-opacity="0.82" stroke-width="1.7"/>
<line x1="421.50" x2="421.50" y1="228.95" y2="254.41" stroke="#E41A1C" stroke-opacity="0.82" stroke-width="1.7"/>
<rect x="419.60" y="215.01" width="3.8" height="13.94" fill="#E41A1C" fill-opacity="0.78" stroke="#E41A1C" stroke-opacity="0.85" stroke-width="1.1"/>
<line x1="419.60" x2="423.40" y1="221.56" y2="221.56" stroke="#E41A1C" stroke-width="1.2" stroke-opacity="1"/>
<line x1="425.95" x2="425.95" y1="198.88" y2="212.22" stroke="#377EB8" stroke-opacity="0.82" stroke-width="1.7"/>
<line x1="425.95" x2="425.95" y1="231.13" y2="243.74" stroke="#377EB8" stroke-opacity="0.82" stroke-width="1.7"/>
<rect x="424.05" y="212.22" width="3.8" height="18.91" fill="#377EB8" fill-opacity="0.78" stroke="#377EB8" stroke-opacity="0.85" stroke-width="1.1"/>
<line x1="424.05" x2="427.85" y1="219.62" y2="219.62" stroke="#377EB8" stroke-width="1.2" stroke-opacity="1"/>
<line x1="430.40" x2="430.40" y1="203.97" y2="213.19" stroke="#4DAF4A" stroke-opacity="0.82" stroke-width="1.7"/>
<line x1="430.40" x2="430.40" y1="229.80" y2="248.35" stroke="#4DAF4A" stroke-opacity="0.82" stroke-width="1.7"/>
<rect x="428.50" y="213.19" width="3.8" height="16.61" fill="#4DAF4A" fill-opacity="0.78" stroke="#4DAF4A" stroke-opacity="0.85" stroke-width="1.1"/>
<line x1="428.50" x2="432.30" y1="219.62" y2="219.62" stroke="#4DAF4A" stroke-width="1.2" stroke-opacity="1"/>
<line x1="434.85" x2="434.85" y1="197.06" y2="215.61" stroke="#984EA3" stroke-opacity="0.82" stroke-width="1.7"/>
<line x1="434.85" x2="434.85" y1="231.13" y2="255.14" stroke="#984EA3" stroke-opacity="0.82" stroke-width="1.7"/>
<rect x="432.95" y="215.61" width="3.8" height="15.52" fill="#984EA3" fill-opacity="0.78" stroke="#984EA3" stroke-opacity="0.85" stroke-width="1.1"/>
<line x1="432.95" x2="436.75" y1="221.56" y2="221.56" stroke="#984EA3" stroke-width="1.2" stroke-opacity="1"/>
<line x1="439.30" x2="439.30" y1="197.43" y2="208.95" stroke="#FF7F00" stroke-opacity="0.82" stroke-width="1.7"/>
<line x1="439.30" x2="439.30" y1="230.77" y2="252.96" stroke="#FF7F00" stroke-opacity="0.82" stroke-width="1.7"/>
<rect x="437.40" y="208.95" width="3.8" height="21.82" fill="#FF7F00" fill-opacity="0.78" stroke="#FF7F00" stroke-opacity="0.85" stroke-width="1.1"/>
<line x1="437.40" x2="441.20" y1="219.62" y2="219.62" stroke="#FF7F00" stroke-width="1.2" stroke-opacity="1"/>
<line x1="419.20" x2="441.60" y1="219.62" y2="219.62" stroke="#444" stroke-opacity="0.72" stroke-width="1.7"/>
<line x1="452.88" x2="452.88" y1="192.21" y2="210.40" stroke="#E41A1C" stroke-opacity="0.82" stroke-width="1.7"/>
<line x1="452.88" x2="452.88" y1="235.98" y2="264.48" stroke="#E41A1C" stroke-opacity="0.82" stroke-width="1.7"/>
<rect x="450.98" y="210.40" width="3.8" height="25.58" fill="#E41A1C" fill-opacity="0.78" stroke="#E41A1C" stroke-opacity="0.85" stroke-width="1.1"/>
<line x1="450.98" x2="454.77" y1="223.38" y2="223.38" stroke="#E41A1C" stroke-width="1.2" stroke-opacity="1"/>
<line x1="457.32" x2="457.32" y1="182.63" y2="205.79" stroke="#377EB8" stroke-opacity="0.82" stroke-width="1.7"/>
<line x1="457.32" x2="457.32" y1="229.80" y2="253.93" stroke="#377EB8" stroke-opacity="0.82" stroke-width="1.7"/>
<rect x="455.43" y="205.79" width="3.8" height="24.01" fill="#377EB8" fill-opacity="0.78" stroke="#377EB8" stroke-opacity="0.85" stroke-width="1.1"/>
<line x1="455.43" x2="459.22" y1="217.80" y2="217.80" stroke="#377EB8" stroke-width="1.2" stroke-opacity="1"/>
<line x1="461.77" x2="461.77" y1="200.22" y2="213.19" stroke="#4DAF4A" stroke-opacity="0.82" stroke-width="1.7"/>
<line x1="461.77" x2="461.77" y1="232.23" y2="243.38" stroke="#4DAF4A" stroke-opacity="0.82" stroke-width="1.7"/>
<rect x="459.88" y="213.19" width="3.8" height="19.04" fill="#4DAF4A" fill-opacity="0.78" stroke="#4DAF4A" stroke-opacity="0.85" stroke-width="1.1"/>
<line x1="459.88" x2="463.67" y1="221.56" y2="221.56" stroke="#4DAF4A" stroke-width="1.2" stroke-opacity="1"/>
<line x1="466.22" x2="466.22" y1="195.25" y2="210.40" stroke="#984EA3" stroke-opacity="0.82" stroke-width="1.7"/>
<line x1="466.22" x2="466.22" y1="225.19" y2="243.38" stroke="#984EA3" stroke-opacity="0.82" stroke-width="1.7"/>
<rect x="464.32" y="210.40" width="3.8" height="14.79" fill="#984EA3" fill-opacity="0.78" stroke="#984EA3" stroke-opacity="0.85" stroke-width="1.1"/>
<line x1="464.32" x2="468.12" y1="217.80" y2="217.80" stroke="#984EA3" stroke-width="1.2" stroke-opacity="1"/>
<line x1="470.67" x2="470.67" y1="188.58" y2="208.58" stroke="#FF7F00" stroke-opacity="0.82" stroke-width="1.7"/>
<line x1="470.67" x2="470.67" y1="236.71" y2="247.38" stroke="#FF7F00" stroke-opacity="0.82" stroke-width="1.7"/>
<rect x="468.77" y="208.58" width="3.8" height="28.13" fill="#FF7F00" fill-opacity="0.78" stroke="#FF7F00" stroke-opacity="0.85" stroke-width="1.1"/>
<line x1="468.77" x2="472.57" y1="219.62" y2="219.62" stroke="#FF7F00" stroke-width="1.2" stroke-opacity="1"/>
<line x1="450.57" x2="472.97" y1="183.97" y2="183.97" stroke="#111" stroke-opacity="1" stroke-width="1.7"/>
<line x1="484.25" x2="484.25" y1="183.60" y2="208.58" stroke="#E41A1C" stroke-opacity="0.82" stroke-width="1.7"/>
<line x1="484.25" x2="484.25" y1="228.59" y2="251.99" stroke="#E41A1C" stroke-opacity="0.82" stroke-width="1.7"/>
<rect x="482.35" y="208.58" width="3.8" height="20.01" fill="#E41A1C" fill-opacity="0.78" stroke="#E41A1C" stroke-opacity="0.85" stroke-width="1.1"/>
<line x1="482.35" x2="486.15" y1="218.77" y2="218.77" stroke="#E41A1C" stroke-width="1.2" stroke-opacity="1"/>
<line x1="488.70" x2="488.70" y1="191.85" y2="208.22" stroke="#377EB8" stroke-opacity="0.82" stroke-width="1.7"/>
<line x1="488.70" x2="488.70" y1="224.22" y2="246.53" stroke="#377EB8" stroke-opacity="0.82" stroke-width="1.7"/>
<rect x="486.80" y="208.22" width="3.8" height="16.00" fill="#377EB8" fill-opacity="0.78" stroke="#377EB8" stroke-opacity="0.85" stroke-width="1.1"/>
<line x1="486.80" x2="490.60" y1="215.01" y2="215.01" stroke="#377EB8" stroke-width="1.2" stroke-opacity="1"/>
<line x1="493.15" x2="493.15" y1="183.97" y2="201.55" stroke="#4DAF4A" stroke-opacity="0.82" stroke-width="1.7"/>
<line x1="493.15" x2="493.15" y1="222.41" y2="247.02" stroke="#4DAF4A" stroke-opacity="0.82" stroke-width="1.7"/>
<rect x="491.25" y="201.55" width="3.8" height="20.86" fill="#4DAF4A" fill-opacity="0.78" stroke="#4DAF4A" stroke-opacity="0.85" stroke-width="1.1"/>
<line x1="491.25" x2="495.05" y1="212.22" y2="212.22" stroke="#4DAF4A" stroke-width="1.2" stroke-opacity="1"/>
<line x1="497.60" x2="497.60" y1="187.85" y2="207.61" stroke="#984EA3" stroke-opacity="0.82" stroke-width="1.7"/>
<line x1="497.60" x2="497.60" y1="225.19" y2="239.14" stroke="#984EA3" stroke-opacity="0.82" stroke-width="1.7"/>
<rect x="495.70" y="207.61" width="3.8" height="17.58" fill="#984EA3" fill-opacity="0.78" stroke="#984EA3" stroke-opacity="0.85" stroke-width="1.1"/>
<line x1="495.70" x2="499.50" y1="215.01" y2="215.01" stroke="#984EA3" stroke-width="1.2" stroke-opacity="1"/>
<line x1="502.05" x2="502.05" y1="195.25" y2="208.58" stroke="#FF7F00" stroke-opacity="0.82" stroke-width="1.7"/>
<line x1="502.05" x2="502.05" y1="227.98" y2="242.29" stroke="#FF7F00" stroke-opacity="0.82" stroke-width="1.7"/>
<rect x="500.15" y="208.58" width="3.8" height="19.40" fill="#FF7F00" fill-opacity="0.78" stroke="#FF7F00" stroke-opacity="0.85" stroke-width="1.1"/>
<line x1="500.15" x2="503.95" y1="216.83" y2="216.83" stroke="#FF7F00" stroke-width="1.2" stroke-opacity="1"/>
<line x1="481.95" x2="504.35" y1="235.38" y2="235.38" stroke="#111" stroke-opacity="1" stroke-width="1.7"/>
<line x1="515.62" x2="515.62" y1="185.06" y2="214.52" stroke="#E41A1C" stroke-opacity="0.82" stroke-width="1.7"/>
<line x1="515.62" x2="515.62" y1="231.13" y2="241.93" stroke="#E41A1C" stroke-opacity="0.82" stroke-width="1.7"/>
<rect x="513.73" y="214.52" width="3.8" height="16.61" fill="#E41A1C" fill-opacity="0.78" stroke="#E41A1C" stroke-opacity="0.85" stroke-width="1.1"/>
<line x1="513.73" x2="517.52" y1="221.56" y2="221.56" stroke="#E41A1C" stroke-width="1.2" stroke-opacity="1"/>
<line x1="520.07" x2="520.07" y1="200.22" y2="210.04" stroke="#377EB8" stroke-opacity="0.82" stroke-width="1.7"/>
<line x1="520.07" x2="520.07" y1="222.41" y2="237.20" stroke="#377EB8" stroke-opacity="0.82" stroke-width="1.7"/>
<rect x="518.17" y="210.04" width="3.8" height="12.37" fill="#377EB8" fill-opacity="0.78" stroke="#377EB8" stroke-opacity="0.85" stroke-width="1.1"/>
<line x1="518.17" x2="521.97" y1="215.98" y2="215.98" stroke="#377EB8" stroke-width="1.2" stroke-opacity="1"/>
<line x1="524.52" x2="524.52" y1="203.00" y2="215.61" stroke="#4DAF4A" stroke-opacity="0.82" stroke-width="1.7"/>
<line x1="524.52" x2="524.52" y1="227.98" y2="251.50" stroke="#4DAF4A" stroke-opacity="0.82" stroke-width="1.7"/>
<rect x="522.62" y="215.61" width="3.8" height="12.37" fill="#4DAF4A" fill-opacity="0.78" stroke="#4DAF4A" stroke-opacity="0.85" stroke-width="1.1"/>
<line x1="522.62" x2="526.42" y1="221.56" y2="221.56" stroke="#4DAF4A" stroke-width="1.2" stroke-opacity="1"/>
<line x1="528.98" x2="528.98" y1="194.64" y2="211.37" stroke="#984EA3" stroke-opacity="0.82" stroke-width="1.7"/>
<line x1="528.98" x2="528.98" y1="227.01" y2="239.99" stroke="#984EA3" stroke-opacity="0.82" stroke-width="1.7"/>
<rect x="527.08" y="211.37" width="3.8" height="15.64" fill="#984EA3" fill-opacity="0.78" stroke="#984EA3" stroke-opacity="0.85" stroke-width="1.1"/>
<line x1="527.08" x2="530.88" y1="218.77" y2="218.77" stroke="#984EA3" stroke-width="1.2" stroke-opacity="1"/>
<line x1="533.42" x2="533.42" y1="190.64" y2="210.04" stroke="#FF7F00" stroke-opacity="0.82" stroke-width="1.7"/>
<line x1="533.42" x2="533.42" y1="228.95" y2="248.84" stroke="#FF7F00" stroke-opacity="0.82" stroke-width="1.7"/>
<rect x="531.52" y="210.04" width="3.8" height="18.91" fill="#FF7F00" fill-opacity="0.78" stroke="#FF7F00" stroke-opacity="0.85" stroke-width="1.1"/>
<line x1="531.52" x2="535.32" y1="218.77" y2="218.77" stroke="#FF7F00" stroke-width="1.2" stroke-opacity="1"/>
<line x1="513.32" x2="535.73" y1="198.88" y2="198.88" stroke="#111" stroke-opacity="1" stroke-width="1.7"/>
<line x1="547.00" x2="547.00" y1="189.67" y2="205.79" stroke="#E41A1C" stroke-opacity="0.82" stroke-width="1.7"/>
<line x1="547.00" x2="547.00" y1="228.95" y2="240.96" stroke="#E41A1C" stroke-opacity="0.82" stroke-width="1.7"/>
<rect x="545.10" y="205.79" width="3.8" height="23.16" fill="#E41A1C" fill-opacity="0.78" stroke="#E41A1C" stroke-opacity="0.85" stroke-width="1.1"/>
<line x1="545.10" x2="548.90" y1="217.80" y2="217.80" stroke="#E41A1C" stroke-width="1.2" stroke-opacity="1"/>
<line x1="551.45" x2="551.45" y1="199.25" y2="209.43" stroke="#377EB8" stroke-opacity="0.82" stroke-width="1.7"/>
<line x1="551.45" x2="551.45" y1="223.38" y2="239.62" stroke="#377EB8" stroke-opacity="0.82" stroke-width="1.7"/>
<rect x="549.55" y="209.43" width="3.8" height="13.94" fill="#377EB8" fill-opacity="0.78" stroke="#377EB8" stroke-opacity="0.85" stroke-width="1.1"/>
<line x1="549.55" x2="553.35" y1="215.98" y2="215.98" stroke="#377EB8" stroke-width="1.2" stroke-opacity="1"/>
<line x1="555.90" x2="555.90" y1="195.25" y2="205.79" stroke="#4DAF4A" stroke-opacity="0.82" stroke-width="1.7"/>
<line x1="555.90" x2="555.90" y1="221.56" y2="233.56" stroke="#4DAF4A" stroke-opacity="0.82" stroke-width="1.7"/>
<rect x="554.00" y="205.79" width="3.8" height="15.76" fill="#4DAF4A" fill-opacity="0.78" stroke="#4DAF4A" stroke-opacity="0.85" stroke-width="1.1"/>
<line x1="554.00" x2="557.80" y1="214.16" y2="214.16" stroke="#4DAF4A" stroke-width="1.2" stroke-opacity="1"/>
<line x1="560.35" x2="560.35" y1="203.00" y2="215.61" stroke="#984EA3" stroke-opacity="0.82" stroke-width="1.7"/>
<line x1="560.35" x2="560.35" y1="226.16" y2="247.38" stroke="#984EA3" stroke-opacity="0.82" stroke-width="1.7"/>
<rect x="558.45" y="215.61" width="3.8" height="10.55" fill="#984EA3" fill-opacity="0.78" stroke="#984EA3" stroke-opacity="0.85" stroke-width="1.1"/>
<line x1="558.45" x2="562.25" y1="221.19" y2="221.19" stroke="#984EA3" stroke-width="1.2" stroke-opacity="1"/>
<line x1="564.80" x2="564.80" y1="204.82" y2="215.61" stroke="#FF7F00" stroke-opacity="0.82" stroke-width="1.7"/>
<line x1="564.80" x2="564.80" y1="227.01" y2="245.56" stroke="#FF7F00" stroke-opacity="0.82" stroke-width="1.7"/>
<rect x="562.90" y="215.61" width="3.8" height="11.40" fill="#FF7F00" fill-opacity="0.78" stroke="#FF7F00" stroke-opacity="0.85" stroke-width="1.1"/>
<line x1="562.90" x2="566.70" y1="221.56" y2="221.56" stroke="#FF7F00" stroke-width="1.2" stroke-opacity="1"/>
<line x1="544.70" x2="567.10" y1="229.44" y2="229.44" stroke="#111" stroke-opacity="1" stroke-width="1.7"/>
<rect x="35.4" y="166.64999999999998" width="538.70" height="130.5" fill="none" stroke="#333" stroke-width="1.6" stroke-linejoin="round"/>
<text x="304.75" y="161.35" font-size="9" fill="#1A1A1A" stroke="#1A1A1A" stroke-width="0.3" text-anchor="middle">EA</text>
<text x="31.2" y="176.05" font-size="9.4" fill="#4D4D4D" stroke="#4D4D4D" stroke-width="0.3" text-anchor="end">40</text>
<text x="31.2" y="200.30" font-size="9.4" fill="#4D4D4D" stroke="#4D4D4D" stroke-width="0.3" text-anchor="end">20</text>
<text x="31.2" y="224.55" font-size="9.4" fill="#4D4D4D" stroke="#4D4D4D" stroke-width="0.3" text-anchor="end">0</text>
<text x="31.2" y="248.80" font-size="9.4" fill="#4D4D4D" stroke="#4D4D4D" stroke-width="0.3" text-anchor="end">−20</text>
<text x="31.2" y="273.05" font-size="9.4" fill="#4D4D4D" stroke="#4D4D4D" stroke-width="0.3" text-anchor="end">−40</text>
<text x="31.2" y="297.30" font-size="9.4" fill="#4D4D4D" stroke="#4D4D4D" stroke-width="0.3" text-anchor="end">−60</text>
<line x1="35.4" x2="574.1" y1="325.60" y2="325.60" stroke="#EBEBEB" stroke-width="1.1"/>
<line x1="35.4" x2="574.1" y1="349.85" y2="349.85" stroke="#EBEBEB" stroke-width="1.1"/>
<line x1="35.4" x2="574.1" y1="374.10" y2="374.10" stroke="#EBEBEB" stroke-width="1.1"/>
<line x1="35.4" x2="574.1" y1="398.35" y2="398.35" stroke="#EBEBEB" stroke-width="1.1"/>
<line x1="35.4" x2="574.1" y1="422.60" y2="422.60" stroke="#EBEBEB" stroke-width="1.1"/>
<line x1="35.4" x2="574.1" y1="446.85" y2="446.85" stroke="#EBEBEB" stroke-width="1.1"/>
<line x1="53.90" x2="53.90" y1="319.8" y2="450.3" stroke="#EBEBEB" stroke-width="1.1"/>
<line x1="85.28" x2="85.28" y1="319.8" y2="450.3" stroke="#EBEBEB" stroke-width="1.1"/>
<line x1="116.65" x2="116.65" y1="319.8" y2="450.3" stroke="#EBEBEB" stroke-width="1.1"/>
<line x1="148.03" x2="148.03" y1="319.8" y2="450.3" stroke="#EBEBEB" stroke-width="1.1"/>
<line x1="179.40" x2="179.40" y1="319.8" y2="450.3" stroke="#EBEBEB" stroke-width="1.1"/>
<line x1="210.78" x2="210.78" y1="319.8" y2="450.3" stroke="#EBEBEB" stroke-width="1.1"/>
<line x1="242.15" x2="242.15" y1="319.8" y2="450.3" stroke="#EBEBEB" stroke-width="1.1"/>
<line x1="273.52" x2="273.52" y1="319.8" y2="450.3" stroke="#EBEBEB" stroke-width="1.1"/>
<line x1="304.90" x2="304.90" y1="319.8" y2="450.3" stroke="#EBEBEB" stroke-width="1.1"/>
<line x1="336.27" x2="336.27" y1="319.8" y2="450.3" stroke="#EBEBEB" stroke-width="1.1"/>
<line x1="367.65" x2="367.65" y1="319.8" y2="450.3" stroke="#EBEBEB" stroke-width="1.1"/>
<line x1="399.02" x2="399.02" y1="319.8" y2="450.3" stroke="#EBEBEB" stroke-width="1.1"/>
<line x1="430.40" x2="430.40" y1="319.8" y2="450.3" stroke="#EBEBEB" stroke-width="1.1"/>
<line x1="461.77" x2="461.77" y1="319.8" y2="450.3" stroke="#EBEBEB" stroke-width="1.1"/>
<line x1="493.15" x2="493.15" y1="319.8" y2="450.3" stroke="#EBEBEB" stroke-width="1.1"/>
<line x1="524.52" x2="524.52" y1="319.8" y2="450.3" stroke="#EBEBEB" stroke-width="1.1"/>
<line x1="555.90" x2="555.90" y1="319.8" y2="450.3" stroke="#EBEBEB" stroke-width="1.1"/>
<line x1="45.00" x2="45.00" y1="344.03" y2="363.07" stroke="#E41A1C" stroke-opacity="0.82" stroke-width="1.7"/>
<line x1="45.00" x2="45.00" y1="383.31" y2="394.71" stroke="#E41A1C" stroke-opacity="0.82" stroke-width="1.7"/>
<rect x="43.10" y="363.07" width="3.8" height="20.25" fill="#E41A1C" fill-opacity="0.78" stroke="#E41A1C" stroke-opacity="0.85" stroke-width="1.1"/>
<line x1="43.10" x2="46.90" y1="371.68" y2="371.68" stroke="#E41A1C" stroke-width="1.2" stroke-opacity="1"/>
<line x1="49.45" x2="49.45" y1="353.25" y2="366.70" stroke="#377EB8" stroke-opacity="0.82" stroke-width="1.7"/>
<line x1="49.45" x2="49.45" y1="385.86" y2="403.08" stroke="#377EB8" stroke-opacity="0.82" stroke-width="1.7"/>
<rect x="47.55" y="366.70" width="3.8" height="19.16" fill="#377EB8" fill-opacity="0.78" stroke="#377EB8" stroke-opacity="0.85" stroke-width="1.1"/>
<line x1="47.55" x2="51.35" y1="374.46" y2="374.46" stroke="#377EB8" stroke-width="1.2" stroke-opacity="1"/>
<line x1="53.90" x2="53.90" y1="351.43" y2="364.28" stroke="#4DAF4A" stroke-opacity="0.82" stroke-width="1.7"/>
<line x1="53.90" x2="53.90" y1="377.25" y2="387.80" stroke="#4DAF4A" stroke-opacity="0.82" stroke-width="1.7"/>
<rect x="52.00" y="364.28" width="3.8" height="12.97" fill="#4DAF4A" fill-opacity="0.78" stroke="#4DAF4A" stroke-opacity="0.85" stroke-width="1.1"/>
<line x1="52.00" x2="55.80" y1="371.68" y2="371.68" stroke="#4DAF4A" stroke-width="1.2" stroke-opacity="1"/>
<line x1="58.35" x2="58.35" y1="350.46" y2="367.43" stroke="#984EA3" stroke-opacity="0.82" stroke-width="1.7"/>
<line x1="58.35" x2="58.35" y1="378.10" y2="403.08" stroke="#984EA3" stroke-opacity="0.82" stroke-width="1.7"/>
<rect x="56.45" y="367.43" width="3.8" height="10.67" fill="#984EA3" fill-opacity="0.78" stroke="#984EA3" stroke-opacity="0.85" stroke-width="1.1"/>
<line x1="56.45" x2="60.25" y1="371.68" y2="371.68" stroke="#984EA3" stroke-width="1.2" stroke-opacity="1"/>
<line x1="62.80" x2="62.80" y1="345.85" y2="363.07" stroke="#FF7F00" stroke-opacity="0.82" stroke-width="1.7"/>
<line x1="62.80" x2="62.80" y1="382.22" y2="389.62" stroke="#FF7F00" stroke-opacity="0.82" stroke-width="1.7"/>
<rect x="60.90" y="363.07" width="3.8" height="19.16" fill="#FF7F00" fill-opacity="0.78" stroke="#FF7F00" stroke-opacity="0.85" stroke-width="1.1"/>
<line x1="60.90" x2="64.70" y1="372.28" y2="372.28" stroke="#FF7F00" stroke-width="1.2" stroke-opacity="1"/>
<line x1="42.70" x2="65.10" y1="372.04" y2="372.04" stroke="#111" stroke-opacity="1" stroke-width="1.7"/>
<line x1="76.38" x2="76.38" y1="342.21" y2="365.25" stroke="#E41A1C" stroke-opacity="0.82" stroke-width="1.7"/>
<line x1="76.38" x2="76.38" y1="379.68" y2="394.71" stroke="#E41A1C" stroke-opacity="0.82" stroke-width="1.7"/>
<rect x="74.47" y="365.25" width="3.8" height="14.43" fill="#E41A1C" fill-opacity="0.78" stroke="#E41A1C" stroke-opacity="0.85" stroke-width="1.1"/>
<line x1="74.47" x2="78.28" y1="371.68" y2="371.68" stroke="#E41A1C" stroke-width="1.2" stroke-opacity="1"/>
<line x1="80.83" x2="80.83" y1="348.27" y2="361.13" stroke="#377EB8" stroke-opacity="0.82" stroke-width="1.7"/>
<line x1="80.83" x2="80.83" y1="376.28" y2="394.35" stroke="#377EB8" stroke-opacity="0.82" stroke-width="1.7"/>
<rect x="78.92" y="361.13" width="3.8" height="15.16" fill="#377EB8" fill-opacity="0.78" stroke="#377EB8" stroke-opacity="0.85" stroke-width="1.1"/>
<line x1="78.92" x2="82.73" y1="367.43" y2="367.43" stroke="#377EB8" stroke-width="1.2" stroke-opacity="1"/>
<line x1="85.28" x2="85.28" y1="347.18" y2="361.61" stroke="#4DAF4A" stroke-opacity="0.82" stroke-width="1.7"/>
<line x1="85.28" x2="85.28" y1="380.41" y2="393.86" stroke="#4DAF4A" stroke-opacity="0.82" stroke-width="1.7"/>
<rect x="83.38" y="361.61" width="3.8" height="18.79" fill="#4DAF4A" fill-opacity="0.78" stroke="#4DAF4A" stroke-opacity="0.85" stroke-width="1.1"/>
<line x1="83.38" x2="87.18" y1="368.04" y2="368.04" stroke="#4DAF4A" stroke-width="1.2" stroke-opacity="1"/>
<line x1="89.73" x2="89.73" y1="358.82" y2="368.52" stroke="#984EA3" stroke-opacity="0.82" stroke-width="1.7"/>
<line x1="89.73" x2="89.73" y1="379.68" y2="395.20" stroke="#984EA3" stroke-opacity="0.82" stroke-width="1.7"/>
<rect x="87.83" y="368.52" width="3.8" height="11.15" fill="#984EA3" fill-opacity="0.78" stroke="#984EA3" stroke-opacity="0.85" stroke-width="1.1"/>
<line x1="87.83" x2="91.63" y1="374.46" y2="374.46" stroke="#984EA3" stroke-width="1.2" stroke-opacity="1"/>
<line x1="94.18" x2="94.18" y1="354.70" y2="365.25" stroke="#FF7F00" stroke-opacity="0.82" stroke-width="1.7"/>
<line x1="94.18" x2="94.18" y1="379.07" y2="389.26" stroke="#FF7F00" stroke-opacity="0.82" stroke-width="1.7"/>
<rect x="92.28" y="365.25" width="3.8" height="13.82" fill="#FF7F00" fill-opacity="0.78" stroke="#FF7F00" stroke-opacity="0.85" stroke-width="1.1"/>
<line x1="92.28" x2="96.08" y1="370.83" y2="370.83" stroke="#FF7F00" stroke-width="1.2" stroke-opacity="1"/>
<line x1="74.08" x2="96.48" y1="368.52" y2="368.52" stroke="#111" stroke-opacity="1" stroke-width="1.7"/>
<line x1="107.75" x2="107.75" y1="346.46" y2="363.07" stroke="#E41A1C" stroke-opacity="0.82" stroke-width="1.7"/>
<line x1="107.75" x2="107.75" y1="374.10" y2="387.44" stroke="#E41A1C" stroke-opacity="0.82" stroke-width="1.7"/>
<rect x="105.85" y="363.07" width="3.8" height="11.03" fill="#E41A1C" fill-opacity="0.78" stroke="#E41A1C" stroke-opacity="0.85" stroke-width="1.1"/>
<line x1="105.85" x2="109.65" y1="368.04" y2="368.04" stroke="#E41A1C" stroke-width="1.2" stroke-opacity="1"/>
<line x1="112.20" x2="112.20" y1="355.43" y2="368.89" stroke="#377EB8" stroke-opacity="0.82" stroke-width="1.7"/>
<line x1="112.20" x2="112.20" y1="380.04" y2="390.71" stroke="#377EB8" stroke-opacity="0.82" stroke-width="1.7"/>
<rect x="110.30" y="368.89" width="3.8" height="11.16" fill="#377EB8" fill-opacity="0.78" stroke="#377EB8" stroke-opacity="0.85" stroke-width="1.1"/>
<line x1="110.30" x2="114.10" y1="374.46" y2="374.46" stroke="#377EB8" stroke-width="1.2" stroke-opacity="1"/>
<line x1="116.65" x2="116.65" y1="348.64" y2="361.98" stroke="#4DAF4A" stroke-opacity="0.82" stroke-width="1.7"/>
<line x1="116.65" x2="116.65" y1="376.28" y2="402.47" stroke="#4DAF4A" stroke-opacity="0.82" stroke-width="1.7"/>
<rect x="114.75" y="361.98" width="3.8" height="14.31" fill="#4DAF4A" fill-opacity="0.78" stroke="#4DAF4A" stroke-opacity="0.85" stroke-width="1.1"/>
<line x1="114.75" x2="118.55" y1="368.04" y2="368.04" stroke="#4DAF4A" stroke-width="1.2" stroke-opacity="1"/>
<line x1="121.10" x2="121.10" y1="356.03" y2="371.19" stroke="#984EA3" stroke-opacity="0.82" stroke-width="1.7"/>
<line x1="121.10" x2="121.10" y1="382.83" y2="399.44" stroke="#984EA3" stroke-opacity="0.82" stroke-width="1.7"/>
<rect x="119.20" y="371.19" width="3.8" height="11.64" fill="#984EA3" fill-opacity="0.78" stroke="#984EA3" stroke-opacity="0.85" stroke-width="1.1"/>
<line x1="119.20" x2="123.00" y1="374.46" y2="374.46" stroke="#984EA3" stroke-width="1.2" stroke-opacity="1"/>
<line x1="125.55" x2="125.55" y1="349.61" y2="373.49" stroke="#FF7F00" stroke-opacity="0.82" stroke-width="1.7"/>
<line x1="125.55" x2="125.55" y1="386.47" y2="395.20" stroke="#FF7F00" stroke-opacity="0.82" stroke-width="1.7"/>
<rect x="123.65" y="373.49" width="3.8" height="12.97" fill="#FF7F00" fill-opacity="0.78" stroke="#FF7F00" stroke-opacity="0.85" stroke-width="1.1"/>
<line x1="123.65" x2="127.45" y1="379.07" y2="379.07" stroke="#FF7F00" stroke-width="1.2" stroke-opacity="1"/>
<line x1="105.45" x2="127.85" y1="368.04" y2="368.04" stroke="#111" stroke-opacity="1" stroke-width="1.7"/>
<line x1="139.12" x2="139.12" y1="355.67" y2="364.89" stroke="#E41A1C" stroke-opacity="0.82" stroke-width="1.7"/>
<line x1="139.12" x2="139.12" y1="378.10" y2="392.53" stroke="#E41A1C" stroke-opacity="0.82" stroke-width="1.7"/>
<rect x="137.22" y="364.89" width="3.8" height="13.22" fill="#E41A1C" fill-opacity="0.78" stroke="#E41A1C" stroke-opacity="0.85" stroke-width="1.1"/>
<line x1="137.22" x2="141.03" y1="372.65" y2="372.65" stroke="#E41A1C" stroke-width="1.2" stroke-opacity="1"/>
<line x1="143.58" x2="143.58" y1="343.42" y2="361.98" stroke="#377EB8" stroke-opacity="0.82" stroke-width="1.7"/>
<line x1="143.58" x2="143.58" y1="377.74" y2="400.65" stroke="#377EB8" stroke-opacity="0.82" stroke-width="1.7"/>
<rect x="141.68" y="361.98" width="3.8" height="15.76" fill="#377EB8" fill-opacity="0.78" stroke="#377EB8" stroke-opacity="0.85" stroke-width="1.1"/>
<line x1="141.68" x2="145.48" y1="372.65" y2="372.65" stroke="#377EB8" stroke-width="1.2" stroke-opacity="1"/>
<line x1="148.03" x2="148.03" y1="351.43" y2="365.61" stroke="#4DAF4A" stroke-opacity="0.82" stroke-width="1.7"/>
<line x1="148.03" x2="148.03" y1="378.10" y2="387.07" stroke="#4DAF4A" stroke-opacity="0.82" stroke-width="1.7"/>
<rect x="146.12" y="365.61" width="3.8" height="12.49" fill="#4DAF4A" fill-opacity="0.78" stroke="#4DAF4A" stroke-opacity="0.85" stroke-width="1.1"/>
<line x1="146.12" x2="149.93" y1="372.65" y2="372.65" stroke="#4DAF4A" stroke-width="1.2" stroke-opacity="1"/>
<line x1="152.47" x2="152.47" y1="362.46" y2="368.52" stroke="#984EA3" stroke-opacity="0.82" stroke-width="1.7"/>
<line x1="152.47" x2="152.47" y1="383.68" y2="396.29" stroke="#984EA3" stroke-opacity="0.82" stroke-width="1.7"/>
<rect x="150.57" y="368.52" width="3.8" height="15.16" fill="#984EA3" fill-opacity="0.78" stroke="#984EA3" stroke-opacity="0.85" stroke-width="1.1"/>
<line x1="150.57" x2="154.38" y1="376.28" y2="376.28" stroke="#984EA3" stroke-width="1.2" stroke-opacity="1"/>
<line x1="156.93" x2="156.93" y1="337.60" y2="368.04" stroke="#FF7F00" stroke-opacity="0.82" stroke-width="1.7"/>
<line x1="156.93" x2="156.93" y1="384.65" y2="385.62" stroke="#FF7F00" stroke-opacity="0.82" stroke-width="1.7"/>
<rect x="155.03" y="368.04" width="3.8" height="16.61" fill="#FF7F00" fill-opacity="0.78" stroke="#FF7F00" stroke-opacity="0.85" stroke-width="1.1"/>
<line x1="155.03" x2="158.83" y1="374.46" y2="374.46" stroke="#FF7F00" stroke-width="1.2" stroke-opacity="1"/>
<line x1="136.83" x2="159.22" y1="373.49" y2="373.49" stroke="#111" stroke-opacity="1" stroke-width="1.7"/>
<line x1="170.50" x2="170.50" y1="346.46" y2="365.25" stroke="#E41A1C" stroke-opacity="0.82" stroke-width="1.7"/>
<line x1="170.50" x2="170.50" y1="379.07" y2="399.93" stroke="#E41A1C" stroke-opacity="0.82" stroke-width="1.7"/>
<rect x="168.60" y="365.25" width="3.8" height="13.82" fill="#E41A1C" fill-opacity="0.78" stroke="#E41A1C" stroke-opacity="0.85" stroke-width="1.1"/>
<line x1="168.60" x2="172.40" y1="372.65" y2="372.65" stroke="#E41A1C" stroke-width="1.2" stroke-opacity="1"/>
<line x1="174.95" x2="174.95" y1="343.06" y2="367.07" stroke="#377EB8" stroke-opacity="0.82" stroke-width="1.7"/>
<line x1="174.95" x2="174.95" y1="381.86" y2="392.05" stroke="#377EB8" stroke-opacity="0.82" stroke-width="1.7"/>
<rect x="173.05" y="367.07" width="3.8" height="14.79" fill="#377EB8" fill-opacity="0.78" stroke="#377EB8" stroke-opacity="0.85" stroke-width="1.1"/>
<line x1="173.05" x2="176.85" y1="374.46" y2="374.46" stroke="#377EB8" stroke-width="1.2" stroke-opacity="1"/>
<line x1="179.40" x2="179.40" y1="349.61" y2="367.43" stroke="#4DAF4A" stroke-opacity="0.82" stroke-width="1.7"/>
<line x1="179.40" x2="179.40" y1="380.04" y2="388.89" stroke="#4DAF4A" stroke-opacity="0.82" stroke-width="1.7"/>
<rect x="177.50" y="367.43" width="3.8" height="12.61" fill="#4DAF4A" fill-opacity="0.78" stroke="#4DAF4A" stroke-opacity="0.85" stroke-width="1.1"/>
<line x1="177.50" x2="181.30" y1="373.49" y2="373.49" stroke="#4DAF4A" stroke-width="1.2" stroke-opacity="1"/>
<line x1="183.85" x2="183.85" y1="354.22" y2="367.43" stroke="#984EA3" stroke-opacity="0.82" stroke-width="1.7"/>
<line x1="183.85" x2="183.85" y1="380.04" y2="387.80" stroke="#984EA3" stroke-opacity="0.82" stroke-width="1.7"/>
<rect x="181.95" y="367.43" width="3.8" height="12.61" fill="#984EA3" fill-opacity="0.78" stroke="#984EA3" stroke-opacity="0.85" stroke-width="1.1"/>
<line x1="181.95" x2="185.75" y1="373.49" y2="373.49" stroke="#984EA3" stroke-width="1.2" stroke-opacity="1"/>
<line x1="188.30" x2="188.30" y1="339.06" y2="363.43" stroke="#FF7F00" stroke-opacity="0.82" stroke-width="1.7"/>
<line x1="188.30" x2="188.30" y1="380.04" y2="394.71" stroke="#FF7F00" stroke-opacity="0.82" stroke-width="1.7"/>
<rect x="186.40" y="363.43" width="3.8" height="16.61" fill="#FF7F00" fill-opacity="0.78" stroke="#FF7F00" stroke-opacity="0.85" stroke-width="1.1"/>
<line x1="186.40" x2="190.20" y1="371.68" y2="371.68" stroke="#FF7F00" stroke-width="1.2" stroke-opacity="1"/>
<line x1="168.20" x2="190.60" y1="385.01" y2="385.01" stroke="#444" stroke-opacity="0.72" stroke-width="1.7"/>
<line x1="201.88" x2="201.88" y1="349.00" y2="368.04" stroke="#E41A1C" stroke-opacity="0.82" stroke-width="1.7"/>
<line x1="201.88" x2="201.88" y1="382.83" y2="399.44" stroke="#E41A1C" stroke-opacity="0.82" stroke-width="1.7"/>
<rect x="199.97" y="368.04" width="3.8" height="14.79" fill="#E41A1C" fill-opacity="0.78" stroke="#E41A1C" stroke-opacity="0.85" stroke-width="1.1"/>
<line x1="199.97" x2="203.78" y1="375.43" y2="375.43" stroke="#E41A1C" stroke-width="1.2" stroke-opacity="1"/>
<line x1="206.33" x2="206.33" y1="350.09" y2="363.07" stroke="#377EB8" stroke-opacity="0.82" stroke-width="1.7"/>
<line x1="206.33" x2="206.33" y1="378.10" y2="388.89" stroke="#377EB8" stroke-opacity="0.82" stroke-width="1.7"/>
<rect x="204.43" y="363.07" width="3.8" height="15.04" fill="#377EB8" fill-opacity="0.78" stroke="#377EB8" stroke-opacity="0.85" stroke-width="1.1"/>
<line x1="204.43" x2="208.23" y1="370.83" y2="370.83" stroke="#377EB8" stroke-width="1.2" stroke-opacity="1"/>
<line x1="210.78" x2="210.78" y1="351.43" y2="366.70" stroke="#4DAF4A" stroke-opacity="0.82" stroke-width="1.7"/>
<line x1="210.78" x2="210.78" y1="379.68" y2="390.71" stroke="#4DAF4A" stroke-opacity="0.82" stroke-width="1.7"/>
<rect x="208.88" y="366.70" width="3.8" height="12.97" fill="#4DAF4A" fill-opacity="0.78" stroke="#4DAF4A" stroke-opacity="0.85" stroke-width="1.1"/>
<line x1="208.88" x2="212.68" y1="373.49" y2="373.49" stroke="#4DAF4A" stroke-width="1.2" stroke-opacity="1"/>
<line x1="215.22" x2="215.22" y1="363.07" y2="368.52" stroke="#984EA3" stroke-opacity="0.82" stroke-width="1.7"/>
<line x1="215.22" x2="215.22" y1="381.86" y2="389.62" stroke="#984EA3" stroke-opacity="0.82" stroke-width="1.7"/>
<rect x="213.32" y="368.52" width="3.8" height="13.34" fill="#984EA3" fill-opacity="0.78" stroke="#984EA3" stroke-opacity="0.85" stroke-width="1.1"/>
<line x1="213.32" x2="217.12" y1="375.43" y2="375.43" stroke="#984EA3" stroke-width="1.2" stroke-opacity="1"/>
<line x1="219.68" x2="219.68" y1="357.49" y2="365.25" stroke="#FF7F00" stroke-opacity="0.82" stroke-width="1.7"/>
<line x1="219.68" x2="219.68" y1="379.68" y2="397.50" stroke="#FF7F00" stroke-opacity="0.82" stroke-width="1.7"/>
<rect x="217.78" y="365.25" width="3.8" height="14.43" fill="#FF7F00" fill-opacity="0.78" stroke="#FF7F00" stroke-opacity="0.85" stroke-width="1.1"/>
<line x1="217.78" x2="221.58" y1="372.65" y2="372.65" stroke="#FF7F00" stroke-width="1.2" stroke-opacity="1"/>
<line x1="199.58" x2="221.97" y1="372.65" y2="372.65" stroke="#111" stroke-opacity="1" stroke-width="1.7"/>
<line x1="233.25" x2="233.25" y1="349.00" y2="366.22" stroke="#E41A1C" stroke-opacity="0.82" stroke-width="1.7"/>
<line x1="233.25" x2="233.25" y1="384.04" y2="389.62" stroke="#E41A1C" stroke-opacity="0.82" stroke-width="1.7"/>
<rect x="231.35" y="366.22" width="3.8" height="17.82" fill="#E41A1C" fill-opacity="0.78" stroke="#E41A1C" stroke-opacity="0.85" stroke-width="1.1"/>
<line x1="231.35" x2="235.15" y1="373.49" y2="373.49" stroke="#E41A1C" stroke-width="1.2" stroke-opacity="1"/>
<line x1="237.70" x2="237.70" y1="348.27" y2="368.04" stroke="#377EB8" stroke-opacity="0.82" stroke-width="1.7"/>
<line x1="237.70" x2="237.70" y1="380.89" y2="390.11" stroke="#377EB8" stroke-opacity="0.82" stroke-width="1.7"/>
<rect x="235.80" y="368.04" width="3.8" height="12.85" fill="#377EB8" fill-opacity="0.78" stroke="#377EB8" stroke-opacity="0.85" stroke-width="1.1"/>
<line x1="235.80" x2="239.60" y1="374.46" y2="374.46" stroke="#377EB8" stroke-width="1.2" stroke-opacity="1"/>
<line x1="242.15" x2="242.15" y1="354.58" y2="366.22" stroke="#4DAF4A" stroke-opacity="0.82" stroke-width="1.7"/>
<line x1="242.15" x2="242.15" y1="380.41" y2="389.26" stroke="#4DAF4A" stroke-opacity="0.82" stroke-width="1.7"/>
<rect x="240.25" y="366.22" width="3.8" height="14.19" fill="#4DAF4A" fill-opacity="0.78" stroke="#4DAF4A" stroke-opacity="0.85" stroke-width="1.1"/>
<line x1="240.25" x2="244.05" y1="374.46" y2="374.46" stroke="#4DAF4A" stroke-width="1.2" stroke-opacity="1"/>
<line x1="246.60" x2="246.60" y1="351.43" y2="366.22" stroke="#984EA3" stroke-opacity="0.82" stroke-width="1.7"/>
<line x1="246.60" x2="246.60" y1="377.25" y2="399.44" stroke="#984EA3" stroke-opacity="0.82" stroke-width="1.7"/>
<rect x="244.70" y="366.22" width="3.8" height="11.03" fill="#984EA3" fill-opacity="0.78" stroke="#984EA3" stroke-opacity="0.85" stroke-width="1.1"/>
<line x1="244.70" x2="248.50" y1="372.65" y2="372.65" stroke="#984EA3" stroke-width="1.2" stroke-opacity="1"/>
<line x1="251.05" x2="251.05" y1="353.85" y2="365.61" stroke="#FF7F00" stroke-opacity="0.82" stroke-width="1.7"/>
<line x1="251.05" x2="251.05" y1="380.89" y2="388.89" stroke="#FF7F00" stroke-opacity="0.82" stroke-width="1.7"/>
<rect x="249.15" y="365.61" width="3.8" height="15.28" fill="#FF7F00" fill-opacity="0.78" stroke="#FF7F00" stroke-opacity="0.85" stroke-width="1.1"/>
<line x1="249.15" x2="252.95" y1="373.49" y2="373.49" stroke="#FF7F00" stroke-width="1.2" stroke-opacity="1"/>
<line x1="230.95" x2="253.35" y1="365.61" y2="365.61" stroke="#111" stroke-opacity="1" stroke-width="1.7"/>
<line x1="264.62" x2="264.62" y1="356.88" y2="368.04" stroke="#E41A1C" stroke-opacity="0.82" stroke-width="1.7"/>
<line x1="264.62" x2="264.62" y1="381.86" y2="396.29" stroke="#E41A1C" stroke-opacity="0.82" stroke-width="1.7"/>
<rect x="262.73" y="368.04" width="3.8" height="13.82" fill="#E41A1C" fill-opacity="0.78" stroke="#E41A1C" stroke-opacity="0.85" stroke-width="1.1"/>
<line x1="262.73" x2="266.52" y1="374.46" y2="374.46" stroke="#E41A1C" stroke-width="1.2" stroke-opacity="1"/>
<line x1="269.07" x2="269.07" y1="356.88" y2="368.52" stroke="#377EB8" stroke-opacity="0.82" stroke-width="1.7"/>
<line x1="269.07" x2="269.07" y1="380.04" y2="405.50" stroke="#377EB8" stroke-opacity="0.82" stroke-width="1.7"/>
<rect x="267.18" y="368.52" width="3.8" height="11.52" fill="#377EB8" fill-opacity="0.78" stroke="#377EB8" stroke-opacity="0.85" stroke-width="1.1"/>
<line x1="267.18" x2="270.97" y1="374.46" y2="374.46" stroke="#377EB8" stroke-width="1.2" stroke-opacity="1"/>
<line x1="273.52" x2="273.52" y1="355.06" y2="367.07" stroke="#4DAF4A" stroke-opacity="0.82" stroke-width="1.7"/>
<line x1="273.52" x2="273.52" y1="380.04" y2="398.47" stroke="#4DAF4A" stroke-opacity="0.82" stroke-width="1.7"/>
<rect x="271.62" y="367.07" width="3.8" height="12.97" fill="#4DAF4A" fill-opacity="0.78" stroke="#4DAF4A" stroke-opacity="0.85" stroke-width="1.1"/>
<line x1="271.62" x2="275.42" y1="373.49" y2="373.49" stroke="#4DAF4A" stroke-width="1.2" stroke-opacity="1"/>
<line x1="277.97" x2="277.97" y1="356.88" y2="365.25" stroke="#984EA3" stroke-opacity="0.82" stroke-width="1.7"/>
<line x1="277.97" x2="277.97" y1="380.89" y2="396.65" stroke="#984EA3" stroke-opacity="0.82" stroke-width="1.7"/>
<rect x="276.07" y="365.25" width="3.8" height="15.64" fill="#984EA3" fill-opacity="0.78" stroke="#984EA3" stroke-opacity="0.85" stroke-width="1.1"/>
<line x1="276.07" x2="279.87" y1="371.68" y2="371.68" stroke="#984EA3" stroke-width="1.2" stroke-opacity="1"/>
<line x1="282.42" x2="282.42" y1="355.06" y2="368.04" stroke="#FF7F00" stroke-opacity="0.82" stroke-width="1.7"/>
<line x1="282.42" x2="282.42" y1="380.04" y2="392.89" stroke="#FF7F00" stroke-opacity="0.82" stroke-width="1.7"/>
<rect x="280.52" y="368.04" width="3.8" height="12.00" fill="#FF7F00" fill-opacity="0.78" stroke="#FF7F00" stroke-opacity="0.85" stroke-width="1.1"/>
<line x1="280.52" x2="284.32" y1="374.46" y2="374.46" stroke="#FF7F00" stroke-width="1.2" stroke-opacity="1"/>
<line x1="262.32" x2="284.72" y1="371.68" y2="371.68" stroke="#444" stroke-opacity="0.72" stroke-width="1.7"/>
<line x1="296.00" x2="296.00" y1="354.58" y2="370.83" stroke="#E41A1C" stroke-opacity="0.82" stroke-width="1.7"/>
<line x1="296.00" x2="296.00" y1="382.83" y2="398.47" stroke="#E41A1C" stroke-opacity="0.82" stroke-width="1.7"/>
<rect x="294.10" y="370.83" width="3.8" height="12.00" fill="#E41A1C" fill-opacity="0.78" stroke="#E41A1C" stroke-opacity="0.85" stroke-width="1.1"/>
<line x1="294.10" x2="297.90" y1="378.10" y2="378.10" stroke="#E41A1C" stroke-width="1.2" stroke-opacity="1"/>
<line x1="300.45" x2="300.45" y1="360.04" y2="370.83" stroke="#377EB8" stroke-opacity="0.82" stroke-width="1.7"/>
<line x1="300.45" x2="300.45" y1="382.83" y2="394.35" stroke="#377EB8" stroke-opacity="0.82" stroke-width="1.7"/>
<rect x="298.55" y="370.83" width="3.8" height="12.00" fill="#377EB8" fill-opacity="0.78" stroke="#377EB8" stroke-opacity="0.85" stroke-width="1.1"/>
<line x1="298.55" x2="302.35" y1="378.10" y2="378.10" stroke="#377EB8" stroke-width="1.2" stroke-opacity="1"/>
<line x1="304.90" x2="304.90" y1="353.25" y2="369.25" stroke="#4DAF4A" stroke-opacity="0.82" stroke-width="1.7"/>
<line x1="304.90" x2="304.90" y1="383.68" y2="401.75" stroke="#4DAF4A" stroke-opacity="0.82" stroke-width="1.7"/>
<rect x="303.00" y="369.25" width="3.8" height="14.43" fill="#4DAF4A" fill-opacity="0.78" stroke="#4DAF4A" stroke-opacity="0.85" stroke-width="1.1"/>
<line x1="303.00" x2="306.80" y1="377.25" y2="377.25" stroke="#4DAF4A" stroke-width="1.2" stroke-opacity="1"/>
<line x1="309.35" x2="309.35" y1="338.09" y2="367.07" stroke="#984EA3" stroke-opacity="0.82" stroke-width="1.7"/>
<line x1="309.35" x2="309.35" y1="377.25" y2="400.29" stroke="#984EA3" stroke-opacity="0.82" stroke-width="1.7"/>
<rect x="307.45" y="367.07" width="3.8" height="10.19" fill="#984EA3" fill-opacity="0.78" stroke="#984EA3" stroke-opacity="0.85" stroke-width="1.1"/>
<line x1="307.45" x2="311.25" y1="373.49" y2="373.49" stroke="#984EA3" stroke-width="1.2" stroke-opacity="1"/>
<line x1="313.80" x2="313.80" y1="358.82" y2="368.52" stroke="#FF7F00" stroke-opacity="0.82" stroke-width="1.7"/>
<line x1="313.80" x2="313.80" y1="380.89" y2="393.86" stroke="#FF7F00" stroke-opacity="0.82" stroke-width="1.7"/>
<rect x="311.90" y="368.52" width="3.8" height="12.37" fill="#FF7F00" fill-opacity="0.78" stroke="#FF7F00" stroke-opacity="0.85" stroke-width="1.1"/>
<line x1="311.90" x2="315.70" y1="374.46" y2="374.46" stroke="#FF7F00" stroke-width="1.2" stroke-opacity="1"/>
<line x1="293.70" x2="316.10" y1="380.53" y2="380.53" stroke="#111" stroke-opacity="1" stroke-width="1.7"/>
<line x1="327.38" x2="327.38" y1="348.27" y2="361.98" stroke="#E41A1C" stroke-opacity="0.82" stroke-width="1.7"/>
<line x1="327.38" x2="327.38" y1="380.04" y2="392.53" stroke="#E41A1C" stroke-opacity="0.82" stroke-width="1.7"/>
<rect x="325.48" y="361.98" width="3.8" height="18.07" fill="#E41A1C" fill-opacity="0.78" stroke="#E41A1C" stroke-opacity="0.85" stroke-width="1.1"/>
<line x1="325.48" x2="329.27" y1="371.68" y2="371.68" stroke="#E41A1C" stroke-width="1.2" stroke-opacity="1"/>
<line x1="331.82" x2="331.82" y1="356.88" y2="370.46" stroke="#377EB8" stroke-opacity="0.82" stroke-width="1.7"/>
<line x1="331.82" x2="331.82" y1="384.65" y2="394.71" stroke="#377EB8" stroke-opacity="0.82" stroke-width="1.7"/>
<rect x="329.93" y="370.46" width="3.8" height="14.19" fill="#377EB8" fill-opacity="0.78" stroke="#377EB8" stroke-opacity="0.85" stroke-width="1.1"/>
<line x1="329.93" x2="333.72" y1="377.25" y2="377.25" stroke="#377EB8" stroke-width="1.2" stroke-opacity="1"/>
<line x1="336.27" x2="336.27" y1="356.88" y2="371.19" stroke="#4DAF4A" stroke-opacity="0.82" stroke-width="1.7"/>
<line x1="336.27" x2="336.27" y1="388.29" y2="399.44" stroke="#4DAF4A" stroke-opacity="0.82" stroke-width="1.7"/>
<rect x="334.38" y="371.19" width="3.8" height="17.10" fill="#4DAF4A" fill-opacity="0.78" stroke="#4DAF4A" stroke-opacity="0.85" stroke-width="1.1"/>
<line x1="334.38" x2="338.17" y1="378.10" y2="378.10" stroke="#4DAF4A" stroke-width="1.2" stroke-opacity="1"/>
<line x1="340.72" x2="340.72" y1="355.06" y2="365.61" stroke="#984EA3" stroke-opacity="0.82" stroke-width="1.7"/>
<line x1="340.72" x2="340.72" y1="380.89" y2="402.11" stroke="#984EA3" stroke-opacity="0.82" stroke-width="1.7"/>
<rect x="338.82" y="365.61" width="3.8" height="15.28" fill="#984EA3" fill-opacity="0.78" stroke="#984EA3" stroke-opacity="0.85" stroke-width="1.1"/>
<line x1="338.82" x2="342.62" y1="373.49" y2="373.49" stroke="#984EA3" stroke-width="1.2" stroke-opacity="1"/>
<line x1="345.17" x2="345.17" y1="367.07" y2="372.65" stroke="#FF7F00" stroke-opacity="0.82" stroke-width="1.7"/>
<line x1="345.17" x2="345.17" y1="384.04" y2="402.11" stroke="#FF7F00" stroke-opacity="0.82" stroke-width="1.7"/>
<rect x="343.27" y="372.65" width="3.8" height="11.40" fill="#FF7F00" fill-opacity="0.78" stroke="#FF7F00" stroke-opacity="0.85" stroke-width="1.1"/>
<line x1="343.27" x2="347.07" y1="378.10" y2="378.10" stroke="#FF7F00" stroke-width="1.2" stroke-opacity="1"/>
<line x1="325.07" x2="347.47" y1="380.89" y2="380.89" stroke="#111" stroke-opacity="1" stroke-width="1.7"/>
<line x1="358.75" x2="358.75" y1="342.21" y2="360.04" stroke="#E41A1C" stroke-opacity="0.82" stroke-width="1.7"/>
<line x1="358.75" x2="358.75" y1="375.92" y2="388.29" stroke="#E41A1C" stroke-opacity="0.82" stroke-width="1.7"/>
<rect x="356.85" y="360.04" width="3.8" height="15.88" fill="#E41A1C" fill-opacity="0.78" stroke="#E41A1C" stroke-opacity="0.85" stroke-width="1.1"/>
<line x1="356.85" x2="360.65" y1="367.43" y2="367.43" stroke="#E41A1C" stroke-width="1.2" stroke-opacity="1"/>
<line x1="363.20" x2="363.20" y1="343.06" y2="363.07" stroke="#377EB8" stroke-opacity="0.82" stroke-width="1.7"/>
<line x1="363.20" x2="363.20" y1="377.25" y2="388.29" stroke="#377EB8" stroke-opacity="0.82" stroke-width="1.7"/>
<rect x="361.30" y="363.07" width="3.8" height="14.19" fill="#377EB8" fill-opacity="0.78" stroke="#377EB8" stroke-opacity="0.85" stroke-width="1.1"/>
<line x1="361.30" x2="365.10" y1="369.86" y2="369.86" stroke="#377EB8" stroke-width="1.2" stroke-opacity="1"/>
<line x1="367.65" x2="367.65" y1="350.82" y2="367.07" stroke="#4DAF4A" stroke-opacity="0.82" stroke-width="1.7"/>
<line x1="367.65" x2="367.65" y1="380.89" y2="395.68" stroke="#4DAF4A" stroke-opacity="0.82" stroke-width="1.7"/>
<rect x="365.75" y="367.07" width="3.8" height="13.82" fill="#4DAF4A" fill-opacity="0.78" stroke="#4DAF4A" stroke-opacity="0.85" stroke-width="1.1"/>
<line x1="365.75" x2="369.55" y1="374.46" y2="374.46" stroke="#4DAF4A" stroke-width="1.2" stroke-opacity="1"/>
<line x1="372.10" x2="372.10" y1="349.00" y2="364.28" stroke="#984EA3" stroke-opacity="0.82" stroke-width="1.7"/>
<line x1="372.10" x2="372.10" y1="377.25" y2="398.11" stroke="#984EA3" stroke-opacity="0.82" stroke-width="1.7"/>
<rect x="370.20" y="364.28" width="3.8" height="12.97" fill="#984EA3" fill-opacity="0.78" stroke="#984EA3" stroke-opacity="0.85" stroke-width="1.1"/>
<line x1="370.20" x2="374.00" y1="371.68" y2="371.68" stroke="#984EA3" stroke-width="1.2" stroke-opacity="1"/>
<line x1="376.55" x2="376.55" y1="346.46" y2="360.04" stroke="#FF7F00" stroke-opacity="0.82" stroke-width="1.7"/>
<line x1="376.55" x2="376.55" y1="377.25" y2="391.08" stroke="#FF7F00" stroke-opacity="0.82" stroke-width="1.7"/>
<rect x="374.65" y="360.04" width="3.8" height="17.22" fill="#FF7F00" fill-opacity="0.78" stroke="#FF7F00" stroke-opacity="0.85" stroke-width="1.1"/>
<line x1="374.65" x2="378.45" y1="368.04" y2="368.04" stroke="#FF7F00" stroke-width="1.2" stroke-opacity="1"/>
<line x1="356.45" x2="378.85" y1="371.19" y2="371.19" stroke="#111" stroke-opacity="1" stroke-width="1.7"/>
<line x1="390.12" x2="390.12" y1="351.43" y2="366.70" stroke="#E41A1C" stroke-opacity="0.82" stroke-width="1.7"/>
<line x1="390.12" x2="390.12" y1="383.31" y2="393.26" stroke="#E41A1C" stroke-opacity="0.82" stroke-width="1.7"/>
<rect x="388.23" y="366.70" width="3.8" height="16.61" fill="#E41A1C" fill-opacity="0.78" stroke="#E41A1C" stroke-opacity="0.85" stroke-width="1.1"/>
<line x1="388.23" x2="392.02" y1="374.46" y2="374.46" stroke="#E41A1C" stroke-width="1.2" stroke-opacity="1"/>
<line x1="394.57" x2="394.57" y1="346.82" y2="363.07" stroke="#377EB8" stroke-opacity="0.82" stroke-width="1.7"/>
<line x1="394.57" x2="394.57" y1="381.86" y2="396.29" stroke="#377EB8" stroke-opacity="0.82" stroke-width="1.7"/>
<rect x="392.68" y="363.07" width="3.8" height="18.79" fill="#377EB8" fill-opacity="0.78" stroke="#377EB8" stroke-opacity="0.85" stroke-width="1.1"/>
<line x1="392.68" x2="396.47" y1="373.49" y2="373.49" stroke="#377EB8" stroke-width="1.2" stroke-opacity="1"/>
<line x1="399.02" x2="399.02" y1="349.61" y2="368.89" stroke="#4DAF4A" stroke-opacity="0.82" stroke-width="1.7"/>
<line x1="399.02" x2="399.02" y1="384.65" y2="391.08" stroke="#4DAF4A" stroke-opacity="0.82" stroke-width="1.7"/>
<rect x="397.12" y="368.89" width="3.8" height="15.76" fill="#4DAF4A" fill-opacity="0.78" stroke="#4DAF4A" stroke-opacity="0.85" stroke-width="1.1"/>
<line x1="397.12" x2="400.92" y1="375.43" y2="375.43" stroke="#4DAF4A" stroke-width="1.2" stroke-opacity="1"/>
<line x1="403.47" x2="403.47" y1="342.70" y2="364.89" stroke="#984EA3" stroke-opacity="0.82" stroke-width="1.7"/>
<line x1="403.47" x2="403.47" y1="380.89" y2="390.11" stroke="#984EA3" stroke-opacity="0.82" stroke-width="1.7"/>
<rect x="401.57" y="364.89" width="3.8" height="16.00" fill="#984EA3" fill-opacity="0.78" stroke="#984EA3" stroke-opacity="0.85" stroke-width="1.1"/>
<line x1="401.57" x2="405.37" y1="372.65" y2="372.65" stroke="#984EA3" stroke-width="1.2" stroke-opacity="1"/>
<line x1="407.92" x2="407.92" y1="344.52" y2="365.61" stroke="#FF7F00" stroke-opacity="0.82" stroke-width="1.7"/>
<line x1="407.92" x2="407.92" y1="378.10" y2="390.11" stroke="#FF7F00" stroke-opacity="0.82" stroke-width="1.7"/>
<rect x="406.02" y="365.61" width="3.8" height="12.49" fill="#FF7F00" fill-opacity="0.78" stroke="#FF7F00" stroke-opacity="0.85" stroke-width="1.1"/>
<line x1="406.02" x2="409.82" y1="372.65" y2="372.65" stroke="#FF7F00" stroke-width="1.2" stroke-opacity="1"/>
<line x1="387.82" x2="410.22" y1="391.08" y2="391.08" stroke="#444" stroke-opacity="0.72" stroke-width="1.7"/>
<line x1="421.50" x2="421.50" y1="344.52" y2="363.43" stroke="#E41A1C" stroke-opacity="0.82" stroke-width="1.7"/>
<line x1="421.50" x2="421.50" y1="382.83" y2="392.53" stroke="#E41A1C" stroke-opacity="0.82" stroke-width="1.7"/>
<rect x="419.60" y="363.43" width="3.8" height="19.40" fill="#E41A1C" fill-opacity="0.78" stroke="#E41A1C" stroke-opacity="0.85" stroke-width="1.1"/>
<line x1="419.60" x2="423.40" y1="373.49" y2="373.49" stroke="#E41A1C" stroke-width="1.2" stroke-opacity="1"/>
<line x1="425.95" x2="425.95" y1="349.61" y2="368.04" stroke="#377EB8" stroke-opacity="0.82" stroke-width="1.7"/>
<line x1="425.95" x2="425.95" y1="386.47" y2="400.29" stroke="#377EB8" stroke-opacity="0.82" stroke-width="1.7"/>
<rect x="424.05" y="368.04" width="3.8" height="18.43" fill="#377EB8" fill-opacity="0.78" stroke="#377EB8" stroke-opacity="0.85" stroke-width="1.1"/>
<line x1="424.05" x2="427.85" y1="376.28" y2="376.28" stroke="#377EB8" stroke-width="1.2" stroke-opacity="1"/>
<line x1="430.40" x2="430.40" y1="354.58" y2="367.07" stroke="#4DAF4A" stroke-opacity="0.82" stroke-width="1.7"/>
<line x1="430.40" x2="430.40" y1="381.86" y2="396.29" stroke="#4DAF4A" stroke-opacity="0.82" stroke-width="1.7"/>
<rect x="428.50" y="367.07" width="3.8" height="14.79" fill="#4DAF4A" fill-opacity="0.78" stroke="#4DAF4A" stroke-opacity="0.85" stroke-width="1.1"/>
<line x1="428.50" x2="432.30" y1="374.46" y2="374.46" stroke="#4DAF4A" stroke-width="1.2" stroke-opacity="1"/>
<line x1="434.85" x2="434.85" y1="352.64" y2="366.70" stroke="#984EA3" stroke-opacity="0.82" stroke-width="1.7"/>
<line x1="434.85" x2="434.85" y1="382.83" y2="403.69" stroke="#984EA3" stroke-opacity="0.82" stroke-width="1.7"/>
<rect x="432.95" y="366.70" width="3.8" height="16.13" fill="#984EA3" fill-opacity="0.78" stroke="#984EA3" stroke-opacity="0.85" stroke-width="1.1"/>
<line x1="432.95" x2="436.75" y1="374.46" y2="374.46" stroke="#984EA3" stroke-width="1.2" stroke-opacity="1"/>
<line x1="439.30" x2="439.30" y1="344.52" y2="365.25" stroke="#FF7F00" stroke-opacity="0.82" stroke-width="1.7"/>
<line x1="439.30" x2="439.30" y1="379.68" y2="392.05" stroke="#FF7F00" stroke-opacity="0.82" stroke-width="1.7"/>
<rect x="437.40" y="365.25" width="3.8" height="14.43" fill="#FF7F00" fill-opacity="0.78" stroke="#FF7F00" stroke-opacity="0.85" stroke-width="1.1"/>
<line x1="437.40" x2="441.20" y1="373.49" y2="373.49" stroke="#FF7F00" stroke-width="1.2" stroke-opacity="1"/>
<line x1="419.20" x2="441.60" y1="383.31" y2="383.31" stroke="#111" stroke-opacity="1" stroke-width="1.7"/>
<line x1="452.88" x2="452.88" y1="355.06" y2="371.19" stroke="#E41A1C" stroke-opacity="0.82" stroke-width="1.7"/>
<line x1="452.88" x2="452.88" y1="387.80" y2="404.41" stroke="#E41A1C" stroke-opacity="0.82" stroke-width="1.7"/>
<rect x="450.98" y="371.19" width="3.8" height="16.61" fill="#E41A1C" fill-opacity="0.78" stroke="#E41A1C" stroke-opacity="0.85" stroke-width="1.1"/>
<line x1="450.98" x2="454.77" y1="378.10" y2="378.10" stroke="#E41A1C" stroke-width="1.2" stroke-opacity="1"/>
<line x1="457.32" x2="457.32" y1="347.67" y2="368.89" stroke="#377EB8" stroke-opacity="0.82" stroke-width="1.7"/>
<line x1="457.32" x2="457.32" y1="385.13" y2="408.66" stroke="#377EB8" stroke-opacity="0.82" stroke-width="1.7"/>
<rect x="455.43" y="368.89" width="3.8" height="16.25" fill="#377EB8" fill-opacity="0.78" stroke="#377EB8" stroke-opacity="0.85" stroke-width="1.1"/>
<line x1="455.43" x2="459.22" y1="376.28" y2="376.28" stroke="#377EB8" stroke-width="1.2" stroke-opacity="1"/>
<line x1="461.77" x2="461.77" y1="353.85" y2="368.04" stroke="#4DAF4A" stroke-opacity="0.82" stroke-width="1.7"/>
<line x1="461.77" x2="461.77" y1="383.68" y2="395.20" stroke="#4DAF4A" stroke-opacity="0.82" stroke-width="1.7"/>
<rect x="459.88" y="368.04" width="3.8" height="15.64" fill="#4DAF4A" fill-opacity="0.78" stroke="#4DAF4A" stroke-opacity="0.85" stroke-width="1.1"/>
<line x1="459.88" x2="463.67" y1="374.46" y2="374.46" stroke="#4DAF4A" stroke-width="1.2" stroke-opacity="1"/>
<line x1="466.22" x2="466.22" y1="361.13" y2="371.68" stroke="#984EA3" stroke-opacity="0.82" stroke-width="1.7"/>
<line x1="466.22" x2="466.22" y1="386.47" y2="404.90" stroke="#984EA3" stroke-opacity="0.82" stroke-width="1.7"/>
<rect x="464.32" y="371.68" width="3.8" height="14.79" fill="#984EA3" fill-opacity="0.78" stroke="#984EA3" stroke-opacity="0.85" stroke-width="1.1"/>
<line x1="464.32" x2="468.12" y1="377.74" y2="377.74" stroke="#984EA3" stroke-width="1.2" stroke-opacity="1"/>
<line x1="470.67" x2="470.67" y1="345.36" y2="365.61" stroke="#FF7F00" stroke-opacity="0.82" stroke-width="1.7"/>
<line x1="470.67" x2="470.67" y1="381.86" y2="406.23" stroke="#FF7F00" stroke-opacity="0.82" stroke-width="1.7"/>
<rect x="468.77" y="365.61" width="3.8" height="16.25" fill="#FF7F00" fill-opacity="0.78" stroke="#FF7F00" stroke-opacity="0.85" stroke-width="1.1"/>
<line x1="468.77" x2="472.57" y1="372.65" y2="372.65" stroke="#FF7F00" stroke-width="1.2" stroke-opacity="1"/>
<line x1="450.57" x2="472.97" y1="385.13" y2="385.13" stroke="#111" stroke-opacity="1" stroke-width="1.7"/>
<line x1="484.25" x2="484.25" y1="350.09" y2="370.46" stroke="#E41A1C" stroke-opacity="0.82" stroke-width="1.7"/>
<line x1="484.25" x2="484.25" y1="388.29" y2="409.50" stroke="#E41A1C" stroke-opacity="0.82" stroke-width="1.7"/>
<rect x="482.35" y="370.46" width="3.8" height="17.82" fill="#E41A1C" fill-opacity="0.78" stroke="#E41A1C" stroke-opacity="0.85" stroke-width="1.1"/>
<line x1="482.35" x2="486.15" y1="377.25" y2="377.25" stroke="#E41A1C" stroke-width="1.2" stroke-opacity="1"/>
<line x1="488.70" x2="488.70" y1="362.46" y2="369.25" stroke="#377EB8" stroke-opacity="0.82" stroke-width="1.7"/>
<line x1="488.70" x2="488.70" y1="383.68" y2="405.87" stroke="#377EB8" stroke-opacity="0.82" stroke-width="1.7"/>
<rect x="486.80" y="369.25" width="3.8" height="14.43" fill="#377EB8" fill-opacity="0.78" stroke="#377EB8" stroke-opacity="0.85" stroke-width="1.1"/>
<line x1="486.80" x2="490.60" y1="376.28" y2="376.28" stroke="#377EB8" stroke-width="1.2" stroke-opacity="1"/>
<line x1="493.15" x2="493.15" y1="353.25" y2="370.83" stroke="#4DAF4A" stroke-opacity="0.82" stroke-width="1.7"/>
<line x1="493.15" x2="493.15" y1="382.83" y2="398.11" stroke="#4DAF4A" stroke-opacity="0.82" stroke-width="1.7"/>
<rect x="491.25" y="370.83" width="3.8" height="12.00" fill="#4DAF4A" fill-opacity="0.78" stroke="#4DAF4A" stroke-opacity="0.85" stroke-width="1.1"/>
<line x1="491.25" x2="495.05" y1="377.25" y2="377.25" stroke="#4DAF4A" stroke-width="1.2" stroke-opacity="1"/>
<line x1="497.60" x2="497.60" y1="358.82" y2="371.19" stroke="#984EA3" stroke-opacity="0.82" stroke-width="1.7"/>
<line x1="497.60" x2="497.60" y1="384.04" y2="399.44" stroke="#984EA3" stroke-opacity="0.82" stroke-width="1.7"/>
<rect x="495.70" y="371.19" width="3.8" height="12.85" fill="#984EA3" fill-opacity="0.78" stroke="#984EA3" stroke-opacity="0.85" stroke-width="1.1"/>
<line x1="495.70" x2="499.50" y1="377.74" y2="377.74" stroke="#984EA3" stroke-width="1.2" stroke-opacity="1"/>
<line x1="502.05" x2="502.05" y1="360.64" y2="371.68" stroke="#FF7F00" stroke-opacity="0.82" stroke-width="1.7"/>
<line x1="502.05" x2="502.05" y1="383.68" y2="407.32" stroke="#FF7F00" stroke-opacity="0.82" stroke-width="1.7"/>
<rect x="500.15" y="371.68" width="3.8" height="12.00" fill="#FF7F00" fill-opacity="0.78" stroke="#FF7F00" stroke-opacity="0.85" stroke-width="1.1"/>
<line x1="500.15" x2="503.95" y1="378.10" y2="378.10" stroke="#FF7F00" stroke-width="1.2" stroke-opacity="1"/>
<line x1="481.95" x2="504.35" y1="391.08" y2="391.08" stroke="#444" stroke-opacity="0.72" stroke-width="1.7"/>
<line x1="515.62" x2="515.62" y1="348.27" y2="372.65" stroke="#E41A1C" stroke-opacity="0.82" stroke-width="1.7"/>
<line x1="515.62" x2="515.62" y1="386.47" y2="402.11" stroke="#E41A1C" stroke-opacity="0.82" stroke-width="1.7"/>
<rect x="513.73" y="372.65" width="3.8" height="13.82" fill="#E41A1C" fill-opacity="0.78" stroke="#E41A1C" stroke-opacity="0.85" stroke-width="1.1"/>
<line x1="513.73" x2="517.52" y1="379.07" y2="379.07" stroke="#E41A1C" stroke-width="1.2" stroke-opacity="1"/>
<line x1="520.07" x2="520.07" y1="366.70" y2="376.28" stroke="#377EB8" stroke-opacity="0.82" stroke-width="1.7"/>
<line x1="520.07" x2="520.07" y1="388.89" y2="410.96" stroke="#377EB8" stroke-opacity="0.82" stroke-width="1.7"/>
<rect x="518.17" y="376.28" width="3.8" height="12.61" fill="#377EB8" fill-opacity="0.78" stroke="#377EB8" stroke-opacity="0.85" stroke-width="1.1"/>
<line x1="518.17" x2="521.97" y1="382.83" y2="382.83" stroke="#377EB8" stroke-width="1.2" stroke-opacity="1"/>
<line x1="524.52" x2="524.52" y1="360.04" y2="372.65" stroke="#4DAF4A" stroke-opacity="0.82" stroke-width="1.7"/>
<line x1="524.52" x2="524.52" y1="393.86" y2="403.08" stroke="#4DAF4A" stroke-opacity="0.82" stroke-width="1.7"/>
<rect x="522.62" y="372.65" width="3.8" height="21.22" fill="#4DAF4A" fill-opacity="0.78" stroke="#4DAF4A" stroke-opacity="0.85" stroke-width="1.1"/>
<line x1="522.62" x2="526.42" y1="382.83" y2="382.83" stroke="#4DAF4A" stroke-width="1.2" stroke-opacity="1"/>
<line x1="528.98" x2="528.98" y1="363.07" y2="376.65" stroke="#984EA3" stroke-opacity="0.82" stroke-width="1.7"/>
<line x1="528.98" x2="528.98" y1="386.47" y2="397.50" stroke="#984EA3" stroke-opacity="0.82" stroke-width="1.7"/>
<rect x="527.08" y="376.65" width="3.8" height="9.82" fill="#984EA3" fill-opacity="0.78" stroke="#984EA3" stroke-opacity="0.85" stroke-width="1.1"/>
<line x1="527.08" x2="530.88" y1="381.86" y2="381.86" stroke="#984EA3" stroke-width="1.2" stroke-opacity="1"/>
<line x1="533.42" x2="533.42" y1="372.65" y2="380.04" stroke="#FF7F00" stroke-opacity="0.82" stroke-width="1.7"/>
<line x1="533.42" x2="533.42" y1="390.11" y2="409.14" stroke="#FF7F00" stroke-opacity="0.82" stroke-width="1.7"/>
<rect x="531.52" y="380.04" width="3.8" height="10.06" fill="#FF7F00" fill-opacity="0.78" stroke="#FF7F00" stroke-opacity="0.85" stroke-width="1.1"/>
<line x1="531.52" x2="535.32" y1="384.65" y2="384.65" stroke="#FF7F00" stroke-width="1.2" stroke-opacity="1"/>
<line x1="513.32" x2="535.73" y1="390.11" y2="390.11" stroke="#111" stroke-opacity="1" stroke-width="1.7"/>
<line x1="547.00" x2="547.00" y1="355.06" y2="371.19" stroke="#E41A1C" stroke-opacity="0.82" stroke-width="1.7"/>
<line x1="547.00" x2="547.00" y1="385.13" y2="403.08" stroke="#E41A1C" stroke-opacity="0.82" stroke-width="1.7"/>
<rect x="545.10" y="371.19" width="3.8" height="13.94" fill="#E41A1C" fill-opacity="0.78" stroke="#E41A1C" stroke-opacity="0.85" stroke-width="1.1"/>
<line x1="545.10" x2="548.90" y1="378.10" y2="378.10" stroke="#E41A1C" stroke-width="1.2" stroke-opacity="1"/>
<line x1="551.45" x2="551.45" y1="343.06" y2="368.04" stroke="#377EB8" stroke-opacity="0.82" stroke-width="1.7"/>
<line x1="551.45" x2="551.45" y1="383.68" y2="394.71" stroke="#377EB8" stroke-opacity="0.82" stroke-width="1.7"/>
<rect x="549.55" y="368.04" width="3.8" height="15.64" fill="#377EB8" fill-opacity="0.78" stroke="#377EB8" stroke-opacity="0.85" stroke-width="1.1"/>
<line x1="549.55" x2="553.35" y1="374.46" y2="374.46" stroke="#377EB8" stroke-width="1.2" stroke-opacity="1"/>
<line x1="555.90" x2="555.90" y1="357.85" y2="368.89" stroke="#4DAF4A" stroke-opacity="0.82" stroke-width="1.7"/>
<line x1="555.90" x2="555.90" y1="382.83" y2="405.87" stroke="#4DAF4A" stroke-opacity="0.82" stroke-width="1.7"/>
<rect x="554.00" y="368.89" width="3.8" height="13.94" fill="#4DAF4A" fill-opacity="0.78" stroke="#4DAF4A" stroke-opacity="0.85" stroke-width="1.1"/>
<line x1="554.00" x2="557.80" y1="376.28" y2="376.28" stroke="#4DAF4A" stroke-width="1.2" stroke-opacity="1"/>
<line x1="560.35" x2="560.35" y1="356.88" y2="370.46" stroke="#984EA3" stroke-opacity="0.82" stroke-width="1.7"/>
<line x1="560.35" x2="560.35" y1="384.65" y2="394.71" stroke="#984EA3" stroke-opacity="0.82" stroke-width="1.7"/>
<rect x="558.45" y="370.46" width="3.8" height="14.19" fill="#984EA3" fill-opacity="0.78" stroke="#984EA3" stroke-opacity="0.85" stroke-width="1.1"/>
<line x1="558.45" x2="562.25" y1="377.25" y2="377.25" stroke="#984EA3" stroke-width="1.2" stroke-opacity="1"/>
<line x1="564.80" x2="564.80" y1="353.85" y2="371.68" stroke="#FF7F00" stroke-opacity="0.82" stroke-width="1.7"/>
<line x1="564.80" x2="564.80" y1="382.83" y2="399.44" stroke="#FF7F00" stroke-opacity="0.82" stroke-width="1.7"/>
<rect x="562.90" y="371.68" width="3.8" height="11.16" fill="#FF7F00" fill-opacity="0.78" stroke="#FF7F00" stroke-opacity="0.85" stroke-width="1.1"/>
<line x1="562.90" x2="566.70" y1="377.74" y2="377.74" stroke="#FF7F00" stroke-width="1.2" stroke-opacity="1"/>
<line x1="544.70" x2="567.10" y1="357.25" y2="357.25" stroke="#111" stroke-opacity="1" stroke-width="1.7"/>
<rect x="35.4" y="319.8" width="538.70" height="130.5" fill="none" stroke="#333" stroke-width="1.6" stroke-linejoin="round"/>
<text x="304.75" y="314.50" font-size="9" fill="#1A1A1A" stroke="#1A1A1A" stroke-width="0.3" text-anchor="middle">EAWR</text>
<text x="31.2" y="329.20" font-size="9.4" fill="#4D4D4D" stroke="#4D4D4D" stroke-width="0.3" text-anchor="end">40</text>
<text x="31.2" y="353.45" font-size="9.4" fill="#4D4D4D" stroke="#4D4D4D" stroke-width="0.3" text-anchor="end">20</text>
<text x="31.2" y="377.70" font-size="9.4" fill="#4D4D4D" stroke="#4D4D4D" stroke-width="0.3" text-anchor="end">0</text>
<text x="31.2" y="401.95" font-size="9.4" fill="#4D4D4D" stroke="#4D4D4D" stroke-width="0.3" text-anchor="end">−20</text>
<text x="31.2" y="426.20" font-size="9.4" fill="#4D4D4D" stroke="#4D4D4D" stroke-width="0.3" text-anchor="end">−40</text>
<text x="31.2" y="450.45" font-size="9.4" fill="#4D4D4D" stroke="#4D4D4D" stroke-width="0.3" text-anchor="end">−60</text>
<line x1="35.4" x2="574.1" y1="478.65" y2="478.65" stroke="#EBEBEB" stroke-width="1.1"/>
<line x1="35.4" x2="574.1" y1="502.90" y2="502.90" stroke="#EBEBEB" stroke-width="1.1"/>
<line x1="35.4" x2="574.1" y1="527.15" y2="527.15" stroke="#EBEBEB" stroke-width="1.1"/>
<line x1="35.4" x2="574.1" y1="551.40" y2="551.40" stroke="#EBEBEB" stroke-width="1.1"/>
<line x1="35.4" x2="574.1" y1="575.65" y2="575.65" stroke="#EBEBEB" stroke-width="1.1"/>
<line x1="35.4" x2="574.1" y1="599.90" y2="599.90" stroke="#EBEBEB" stroke-width="1.1"/>
<line x1="53.90" x2="53.90" y1="472.84999999999997" y2="603.3499999999999" stroke="#EBEBEB" stroke-width="1.1"/>
<line x1="85.28" x2="85.28" y1="472.84999999999997" y2="603.3499999999999" stroke="#EBEBEB" stroke-width="1.1"/>
<line x1="116.65" x2="116.65" y1="472.84999999999997" y2="603.3499999999999" stroke="#EBEBEB" stroke-width="1.1"/>
<line x1="148.03" x2="148.03" y1="472.84999999999997" y2="603.3499999999999" stroke="#EBEBEB" stroke-width="1.1"/>
<line x1="179.40" x2="179.40" y1="472.84999999999997" y2="603.3499999999999" stroke="#EBEBEB" stroke-width="1.1"/>
<line x1="210.78" x2="210.78" y1="472.84999999999997" y2="603.3499999999999" stroke="#EBEBEB" stroke-width="1.1"/>
<line x1="242.15" x2="242.15" y1="472.84999999999997" y2="603.3499999999999" stroke="#EBEBEB" stroke-width="1.1"/>
<line x1="273.52" x2="273.52" y1="472.84999999999997" y2="603.3499999999999" stroke="#EBEBEB" stroke-width="1.1"/>
<line x1="304.90" x2="304.90" y1="472.84999999999997" y2="603.3499999999999" stroke="#EBEBEB" stroke-width="1.1"/>
<line x1="336.27" x2="336.27" y1="472.84999999999997" y2="603.3499999999999" stroke="#EBEBEB" stroke-width="1.1"/>
<line x1="367.65" x2="367.65" y1="472.84999999999997" y2="603.3499999999999" stroke="#EBEBEB" stroke-width="1.1"/>
<line x1="399.02" x2="399.02" y1="472.84999999999997" y2="603.3499999999999" stroke="#EBEBEB" stroke-width="1.1"/>
<line x1="430.40" x2="430.40" y1="472.84999999999997" y2="603.3499999999999" stroke="#EBEBEB" stroke-width="1.1"/>
<line x1="461.77" x2="461.77" y1="472.84999999999997" y2="603.3499999999999" stroke="#EBEBEB" stroke-width="1.1"/>
<line x1="493.15" x2="493.15" y1="472.84999999999997" y2="603.3499999999999" stroke="#EBEBEB" stroke-width="1.1"/>
<line x1="524.52" x2="524.52" y1="472.84999999999997" y2="603.3499999999999" stroke="#EBEBEB" stroke-width="1.1"/>
<line x1="555.90" x2="555.90" y1="472.84999999999997" y2="603.3499999999999" stroke="#EBEBEB" stroke-width="1.1"/>
<line x1="45.00" x2="45.00" y1="498.17" y2="517.57" stroke="#E41A1C" stroke-opacity="0.82" stroke-width="1.7"/>
<line x1="45.00" x2="45.00" y1="539.15" y2="554.79" stroke="#E41A1C" stroke-opacity="0.82" stroke-width="1.7"/>
<rect x="43.10" y="517.57" width="3.8" height="21.58" fill="#E41A1C" fill-opacity="0.78" stroke="#E41A1C" stroke-opacity="0.85" stroke-width="1.1"/>
<line x1="43.10" x2="46.90" y1="528.12" y2="528.12" stroke="#E41A1C" stroke-width="1.2" stroke-opacity="1"/>
<line x1="49.45" x2="49.45" y1="495.75" y2="510.17" stroke="#377EB8" stroke-opacity="0.82" stroke-width="1.7"/>
<line x1="49.45" x2="49.45" y1="537.33" y2="558.19" stroke="#377EB8" stroke-opacity="0.82" stroke-width="1.7"/>
<rect x="47.55" y="510.17" width="3.8" height="27.16" fill="#377EB8" fill-opacity="0.78" stroke="#377EB8" stroke-opacity="0.85" stroke-width="1.1"/>
<line x1="47.55" x2="51.35" y1="523.51" y2="523.51" stroke="#377EB8" stroke-width="1.2" stroke-opacity="1"/>
<line x1="53.90" x2="53.90" y1="502.29" y2="518.90" stroke="#4DAF4A" stroke-opacity="0.82" stroke-width="1.7"/>
<line x1="53.90" x2="53.90" y1="534.91" y2="550.19" stroke="#4DAF4A" stroke-opacity="0.82" stroke-width="1.7"/>
<rect x="52.00" y="518.90" width="3.8" height="16.00" fill="#4DAF4A" fill-opacity="0.78" stroke="#4DAF4A" stroke-opacity="0.85" stroke-width="1.1"/>
<line x1="52.00" x2="55.80" y1="525.33" y2="525.33" stroke="#4DAF4A" stroke-width="1.2" stroke-opacity="1"/>
<line x1="58.35" x2="58.35" y1="506.90" y2="523.15" stroke="#984EA3" stroke-opacity="0.82" stroke-width="1.7"/>
<line x1="58.35" x2="58.35" y1="539.15" y2="555.76" stroke="#984EA3" stroke-opacity="0.82" stroke-width="1.7"/>
<rect x="56.45" y="523.15" width="3.8" height="16.00" fill="#984EA3" fill-opacity="0.78" stroke="#984EA3" stroke-opacity="0.85" stroke-width="1.1"/>
<line x1="56.45" x2="60.25" y1="528.97" y2="528.97" stroke="#984EA3" stroke-width="1.2" stroke-opacity="1"/>
<line x1="62.80" x2="62.80" y1="497.20" y2="512.72" stroke="#FF7F00" stroke-opacity="0.82" stroke-width="1.7"/>
<line x1="62.80" x2="62.80" y1="540.97" y2="583.41" stroke="#FF7F00" stroke-opacity="0.82" stroke-width="1.7"/>
<rect x="60.90" y="512.72" width="3.8" height="28.25" fill="#FF7F00" fill-opacity="0.78" stroke="#FF7F00" stroke-opacity="0.85" stroke-width="1.1"/>
<line x1="60.90" x2="64.70" y1="527.15" y2="527.15" stroke="#FF7F00" stroke-width="1.2" stroke-opacity="1"/>
<line x1="42.70" x2="65.10" y1="515.15" y2="515.15" stroke="#111" stroke-opacity="1" stroke-width="1.7"/>
<line x1="76.38" x2="76.38" y1="488.35" y2="519.39" stroke="#E41A1C" stroke-opacity="0.82" stroke-width="1.7"/>
<line x1="76.38" x2="76.38" y1="544.73" y2="564.01" stroke="#E41A1C" stroke-opacity="0.82" stroke-width="1.7"/>
<rect x="74.47" y="519.39" width="3.8" height="25.34" fill="#E41A1C" fill-opacity="0.78" stroke="#E41A1C" stroke-opacity="0.85" stroke-width="1.1"/>
<line x1="74.47" x2="78.28" y1="529.94" y2="529.94" stroke="#E41A1C" stroke-width="1.2" stroke-opacity="1"/>
<line x1="80.83" x2="80.83" y1="495.38" y2="521.57" stroke="#377EB8" stroke-opacity="0.82" stroke-width="1.7"/>
<line x1="80.83" x2="80.83" y1="537.33" y2="560.01" stroke="#377EB8" stroke-opacity="0.82" stroke-width="1.7"/>
<rect x="78.92" y="521.57" width="3.8" height="15.76" fill="#377EB8" fill-opacity="0.78" stroke="#377EB8" stroke-opacity="0.85" stroke-width="1.1"/>
<line x1="78.92" x2="82.73" y1="528.12" y2="528.12" stroke="#377EB8" stroke-width="1.2" stroke-opacity="1"/>
<line x1="85.28" x2="85.28" y1="495.75" y2="515.15" stroke="#4DAF4A" stroke-opacity="0.82" stroke-width="1.7"/>
<line x1="85.28" x2="85.28" y1="533.58" y2="556.74" stroke="#4DAF4A" stroke-opacity="0.82" stroke-width="1.7"/>
<rect x="83.38" y="515.15" width="3.8" height="18.43" fill="#4DAF4A" fill-opacity="0.78" stroke="#4DAF4A" stroke-opacity="0.85" stroke-width="1.1"/>
<line x1="83.38" x2="87.18" y1="525.33" y2="525.33" stroke="#4DAF4A" stroke-width="1.2" stroke-opacity="1"/>
<line x1="89.73" x2="89.73" y1="499.14" y2="521.57" stroke="#984EA3" stroke-opacity="0.82" stroke-width="1.7"/>
<line x1="89.73" x2="89.73" y1="537.33" y2="552.01" stroke="#984EA3" stroke-opacity="0.82" stroke-width="1.7"/>
<rect x="87.83" y="521.57" width="3.8" height="15.76" fill="#984EA3" fill-opacity="0.78" stroke="#984EA3" stroke-opacity="0.85" stroke-width="1.1"/>
<line x1="87.83" x2="91.63" y1="528.97" y2="528.97" stroke="#984EA3" stroke-width="1.2" stroke-opacity="1"/>
<line x1="94.18" x2="94.18" y1="495.38" y2="513.81" stroke="#FF7F00" stroke-opacity="0.82" stroke-width="1.7"/>
<line x1="94.18" x2="94.18" y1="526.18" y2="552.01" stroke="#FF7F00" stroke-opacity="0.82" stroke-width="1.7"/>
<rect x="92.28" y="513.81" width="3.8" height="12.37" fill="#FF7F00" fill-opacity="0.78" stroke="#FF7F00" stroke-opacity="0.85" stroke-width="1.1"/>
<line x1="92.28" x2="96.08" y1="520.72" y2="520.72" stroke="#FF7F00" stroke-width="1.2" stroke-opacity="1"/>
<line x1="74.08" x2="96.48" y1="537.82" y2="537.82" stroke="#444" stroke-opacity="0.72" stroke-width="1.7"/>
<line x1="107.75" x2="107.75" y1="483.74" y2="513.81" stroke="#E41A1C" stroke-opacity="0.82" stroke-width="1.7"/>
<line x1="107.75" x2="107.75" y1="531.76" y2="561.83" stroke="#E41A1C" stroke-opacity="0.82" stroke-width="1.7"/>
<rect x="105.85" y="513.81" width="3.8" height="17.94" fill="#E41A1C" fill-opacity="0.78" stroke="#E41A1C" stroke-opacity="0.85" stroke-width="1.1"/>
<line x1="105.85" x2="109.65" y1="523.51" y2="523.51" stroke="#E41A1C" stroke-width="1.2" stroke-opacity="1"/>
<line x1="112.20" x2="112.20" y1="490.29" y2="514.18" stroke="#377EB8" stroke-opacity="0.82" stroke-width="1.7"/>
<line x1="112.20" x2="112.20" y1="532.73" y2="555.76" stroke="#377EB8" stroke-opacity="0.82" stroke-width="1.7"/>
<rect x="110.30" y="514.18" width="3.8" height="18.55" fill="#377EB8" fill-opacity="0.78" stroke="#377EB8" stroke-opacity="0.85" stroke-width="1.1"/>
<line x1="110.30" x2="114.10" y1="523.51" y2="523.51" stroke="#377EB8" stroke-width="1.2" stroke-opacity="1"/>
<line x1="116.65" x2="116.65" y1="494.90" y2="516.97" stroke="#4DAF4A" stroke-opacity="0.82" stroke-width="1.7"/>
<line x1="116.65" x2="116.65" y1="534.55" y2="544.73" stroke="#4DAF4A" stroke-opacity="0.82" stroke-width="1.7"/>
<rect x="114.75" y="516.97" width="3.8" height="17.58" fill="#4DAF4A" fill-opacity="0.78" stroke="#4DAF4A" stroke-opacity="0.85" stroke-width="1.1"/>
<line x1="114.75" x2="118.55" y1="523.51" y2="523.51" stroke="#4DAF4A" stroke-width="1.2" stroke-opacity="1"/>
<line x1="121.10" x2="121.10" y1="509.57" y2="525.69" stroke="#984EA3" stroke-opacity="0.82" stroke-width="1.7"/>
<line x1="121.10" x2="121.10" y1="537.33" y2="562.19" stroke="#984EA3" stroke-opacity="0.82" stroke-width="1.7"/>
<rect x="119.20" y="525.69" width="3.8" height="11.64" fill="#984EA3" fill-opacity="0.78" stroke="#984EA3" stroke-opacity="0.85" stroke-width="1.1"/>
<line x1="119.20" x2="123.00" y1="530.42" y2="530.42" stroke="#984EA3" stroke-width="1.2" stroke-opacity="1"/>
<line x1="125.55" x2="125.55" y1="503.51" y2="516.97" stroke="#FF7F00" stroke-opacity="0.82" stroke-width="1.7"/>
<line x1="125.55" x2="125.55" y1="545.94" y2="559.40" stroke="#FF7F00" stroke-opacity="0.82" stroke-width="1.7"/>
<rect x="123.65" y="516.97" width="3.8" height="28.98" fill="#FF7F00" fill-opacity="0.78" stroke="#FF7F00" stroke-opacity="0.85" stroke-width="1.1"/>
<line x1="123.65" x2="127.45" y1="528.97" y2="528.97" stroke="#FF7F00" stroke-width="1.2" stroke-opacity="1"/>
<line x1="105.45" x2="127.85" y1="517.57" y2="517.57" stroke="#111" stroke-opacity="1" stroke-width="1.7"/>
<line x1="139.12" x2="139.12" y1="500.96" y2="510.54" stroke="#E41A1C" stroke-opacity="0.82" stroke-width="1.7"/>
<line x1="139.12" x2="139.12" y1="531.15" y2="552.01" stroke="#E41A1C" stroke-opacity="0.82" stroke-width="1.7"/>
<rect x="137.22" y="510.54" width="3.8" height="20.61" fill="#E41A1C" fill-opacity="0.78" stroke="#E41A1C" stroke-opacity="0.85" stroke-width="1.1"/>
<line x1="137.22" x2="141.03" y1="520.72" y2="520.72" stroke="#E41A1C" stroke-width="1.2" stroke-opacity="1"/>
<line x1="143.58" x2="143.58" y1="506.90" y2="519.39" stroke="#377EB8" stroke-opacity="0.82" stroke-width="1.7"/>
<line x1="143.58" x2="143.58" y1="537.33" y2="556.74" stroke="#377EB8" stroke-opacity="0.82" stroke-width="1.7"/>
<rect x="141.68" y="519.39" width="3.8" height="17.94" fill="#377EB8" fill-opacity="0.78" stroke="#377EB8" stroke-opacity="0.85" stroke-width="1.1"/>
<line x1="141.68" x2="145.48" y1="526.18" y2="526.18" stroke="#377EB8" stroke-width="1.2" stroke-opacity="1"/>
<line x1="148.03" x2="148.03" y1="508.36" y2="519.39" stroke="#4DAF4A" stroke-opacity="0.82" stroke-width="1.7"/>
<line x1="148.03" x2="148.03" y1="536.37" y2="554.43" stroke="#4DAF4A" stroke-opacity="0.82" stroke-width="1.7"/>
<rect x="146.12" y="519.39" width="3.8" height="16.98" fill="#4DAF4A" fill-opacity="0.78" stroke="#4DAF4A" stroke-opacity="0.85" stroke-width="1.1"/>
<line x1="146.12" x2="149.93" y1="527.15" y2="527.15" stroke="#4DAF4A" stroke-width="1.2" stroke-opacity="1"/>
<line x1="152.47" x2="152.47" y1="495.38" y2="512.36" stroke="#984EA3" stroke-opacity="0.82" stroke-width="1.7"/>
<line x1="152.47" x2="152.47" y1="535.39" y2="561.34" stroke="#984EA3" stroke-opacity="0.82" stroke-width="1.7"/>
<rect x="150.57" y="512.36" width="3.8" height="23.04" fill="#984EA3" fill-opacity="0.78" stroke="#984EA3" stroke-opacity="0.85" stroke-width="1.1"/>
<line x1="150.57" x2="154.38" y1="524.36" y2="524.36" stroke="#984EA3" stroke-width="1.2" stroke-opacity="1"/>
<line x1="156.93" x2="156.93" y1="491.75" y2="518.90" stroke="#FF7F00" stroke-opacity="0.82" stroke-width="1.7"/>
<line x1="156.93" x2="156.93" y1="540.49" y2="552.61" stroke="#FF7F00" stroke-opacity="0.82" stroke-width="1.7"/>
<rect x="155.03" y="518.90" width="3.8" height="21.58" fill="#FF7F00" fill-opacity="0.78" stroke="#FF7F00" stroke-opacity="0.85" stroke-width="1.1"/>
<line x1="155.03" x2="158.83" y1="527.15" y2="527.15" stroke="#FF7F00" stroke-width="1.2" stroke-opacity="1"/>
<line x1="136.83" x2="159.22" y1="530.42" y2="530.42" stroke="#111" stroke-opacity="1" stroke-width="1.7"/>
<line x1="170.50" x2="170.50" y1="495.38" y2="510.90" stroke="#E41A1C" stroke-opacity="0.82" stroke-width="1.7"/>
<line x1="170.50" x2="170.50" y1="534.91" y2="550.19" stroke="#E41A1C" stroke-opacity="0.82" stroke-width="1.7"/>
<rect x="168.60" y="510.90" width="3.8" height="24.01" fill="#E41A1C" fill-opacity="0.78" stroke="#E41A1C" stroke-opacity="0.85" stroke-width="1.1"/>
<line x1="168.60" x2="172.40" y1="521.57" y2="521.57" stroke="#E41A1C" stroke-width="1.2" stroke-opacity="1"/>
<line x1="174.95" x2="174.95" y1="480.59" y2="508.72" stroke="#377EB8" stroke-opacity="0.82" stroke-width="1.7"/>
<line x1="174.95" x2="174.95" y1="528.97" y2="550.19" stroke="#377EB8" stroke-opacity="0.82" stroke-width="1.7"/>
<rect x="173.05" y="508.72" width="3.8" height="20.25" fill="#377EB8" fill-opacity="0.78" stroke="#377EB8" stroke-opacity="0.85" stroke-width="1.1"/>
<line x1="173.05" x2="176.85" y1="518.90" y2="518.90" stroke="#377EB8" stroke-width="1.2" stroke-opacity="1"/>
<line x1="179.40" x2="179.40" y1="499.50" y2="516.12" stroke="#4DAF4A" stroke-opacity="0.82" stroke-width="1.7"/>
<line x1="179.40" x2="179.40" y1="529.33" y2="555.76" stroke="#4DAF4A" stroke-opacity="0.82" stroke-width="1.7"/>
<rect x="177.50" y="516.12" width="3.8" height="13.22" fill="#4DAF4A" fill-opacity="0.78" stroke="#4DAF4A" stroke-opacity="0.85" stroke-width="1.1"/>
<line x1="177.50" x2="181.30" y1="523.51" y2="523.51" stroke="#4DAF4A" stroke-width="1.2" stroke-opacity="1"/>
<line x1="183.85" x2="183.85" y1="499.14" y2="508.36" stroke="#984EA3" stroke-opacity="0.82" stroke-width="1.7"/>
<line x1="183.85" x2="183.85" y1="531.76" y2="551.52" stroke="#984EA3" stroke-opacity="0.82" stroke-width="1.7"/>
<rect x="181.95" y="508.36" width="3.8" height="23.40" fill="#984EA3" fill-opacity="0.78" stroke="#984EA3" stroke-opacity="0.85" stroke-width="1.1"/>
<line x1="181.95" x2="185.75" y1="520.72" y2="520.72" stroke="#984EA3" stroke-width="1.2" stroke-opacity="1"/>
<line x1="188.30" x2="188.30" y1="500.35" y2="516.48" stroke="#FF7F00" stroke-opacity="0.82" stroke-width="1.7"/>
<line x1="188.30" x2="188.30" y1="531.15" y2="551.52" stroke="#FF7F00" stroke-opacity="0.82" stroke-width="1.7"/>
<rect x="186.40" y="516.48" width="3.8" height="14.67" fill="#FF7F00" fill-opacity="0.78" stroke="#FF7F00" stroke-opacity="0.85" stroke-width="1.1"/>
<line x1="186.40" x2="190.20" y1="524.36" y2="524.36" stroke="#FF7F00" stroke-width="1.2" stroke-opacity="1"/>
<line x1="168.20" x2="190.60" y1="525.33" y2="525.33" stroke="#111" stroke-opacity="1" stroke-width="1.7"/>
<line x1="201.88" x2="201.88" y1="493.56" y2="518.90" stroke="#E41A1C" stroke-opacity="0.82" stroke-width="1.7"/>
<line x1="201.88" x2="201.88" y1="535.39" y2="551.52" stroke="#E41A1C" stroke-opacity="0.82" stroke-width="1.7"/>
<rect x="199.97" y="518.90" width="3.8" height="16.49" fill="#E41A1C" fill-opacity="0.78" stroke="#E41A1C" stroke-opacity="0.85" stroke-width="1.1"/>
<line x1="199.97" x2="203.78" y1="526.18" y2="526.18" stroke="#E41A1C" stroke-width="1.2" stroke-opacity="1"/>
<line x1="206.33" x2="206.33" y1="492.96" y2="507.75" stroke="#377EB8" stroke-opacity="0.82" stroke-width="1.7"/>
<line x1="206.33" x2="206.33" y1="525.33" y2="547.03" stroke="#377EB8" stroke-opacity="0.82" stroke-width="1.7"/>
<rect x="204.43" y="507.75" width="3.8" height="17.58" fill="#377EB8" fill-opacity="0.78" stroke="#377EB8" stroke-opacity="0.85" stroke-width="1.1"/>
<line x1="204.43" x2="208.23" y1="516.97" y2="516.97" stroke="#377EB8" stroke-width="1.2" stroke-opacity="1"/>
<line x1="210.78" x2="210.78" y1="494.90" y2="515.15" stroke="#4DAF4A" stroke-opacity="0.82" stroke-width="1.7"/>
<line x1="210.78" x2="210.78" y1="533.58" y2="541.94" stroke="#4DAF4A" stroke-opacity="0.82" stroke-width="1.7"/>
<rect x="208.88" y="515.15" width="3.8" height="18.43" fill="#4DAF4A" fill-opacity="0.78" stroke="#4DAF4A" stroke-opacity="0.85" stroke-width="1.1"/>
<line x1="208.88" x2="212.68" y1="522.54" y2="522.54" stroke="#4DAF4A" stroke-width="1.2" stroke-opacity="1"/>
<line x1="215.22" x2="215.22" y1="499.14" y2="512.36" stroke="#984EA3" stroke-opacity="0.82" stroke-width="1.7"/>
<line x1="215.22" x2="215.22" y1="528.97" y2="544.73" stroke="#984EA3" stroke-opacity="0.82" stroke-width="1.7"/>
<rect x="213.32" y="512.36" width="3.8" height="16.61" fill="#984EA3" fill-opacity="0.78" stroke="#984EA3" stroke-opacity="0.85" stroke-width="1.1"/>
<line x1="213.32" x2="217.12" y1="520.72" y2="520.72" stroke="#984EA3" stroke-width="1.2" stroke-opacity="1"/>
<line x1="219.68" x2="219.68" y1="497.20" y2="509.57" stroke="#FF7F00" stroke-opacity="0.82" stroke-width="1.7"/>
<line x1="219.68" x2="219.68" y1="534.55" y2="556.74" stroke="#FF7F00" stroke-opacity="0.82" stroke-width="1.7"/>
<rect x="217.78" y="509.57" width="3.8" height="24.98" fill="#FF7F00" fill-opacity="0.78" stroke="#FF7F00" stroke-opacity="0.85" stroke-width="1.1"/>
<line x1="217.78" x2="221.58" y1="524.36" y2="524.36" stroke="#FF7F00" stroke-width="1.2" stroke-opacity="1"/>
<line x1="199.58" x2="221.97" y1="503.51" y2="503.51" stroke="#444" stroke-opacity="0.72" stroke-width="1.7"/>
<line x1="233.25" x2="233.25" y1="497.20" y2="513.81" stroke="#E41A1C" stroke-opacity="0.82" stroke-width="1.7"/>
<line x1="233.25" x2="233.25" y1="538.18" y2="553.95" stroke="#E41A1C" stroke-opacity="0.82" stroke-width="1.7"/>
<rect x="231.35" y="513.81" width="3.8" height="24.37" fill="#E41A1C" fill-opacity="0.78" stroke="#E41A1C" stroke-opacity="0.85" stroke-width="1.1"/>
<line x1="231.35" x2="235.15" y1="526.18" y2="526.18" stroke="#E41A1C" stroke-width="1.2" stroke-opacity="1"/>
<line x1="237.70" x2="237.70" y1="492.96" y2="510.90" stroke="#377EB8" stroke-opacity="0.82" stroke-width="1.7"/>
<line x1="237.70" x2="237.70" y1="535.39" y2="552.01" stroke="#377EB8" stroke-opacity="0.82" stroke-width="1.7"/>
<rect x="235.80" y="510.90" width="3.8" height="24.49" fill="#377EB8" fill-opacity="0.78" stroke="#377EB8" stroke-opacity="0.85" stroke-width="1.1"/>
<line x1="235.80" x2="239.60" y1="523.51" y2="523.51" stroke="#377EB8" stroke-width="1.2" stroke-opacity="1"/>
<line x1="242.15" x2="242.15" y1="499.99" y2="517.93" stroke="#4DAF4A" stroke-opacity="0.82" stroke-width="1.7"/>
<line x1="242.15" x2="242.15" y1="530.79" y2="547.40" stroke="#4DAF4A" stroke-opacity="0.82" stroke-width="1.7"/>
<rect x="240.25" y="517.93" width="3.8" height="12.85" fill="#4DAF4A" fill-opacity="0.78" stroke="#4DAF4A" stroke-opacity="0.85" stroke-width="1.1"/>
<line x1="240.25" x2="244.05" y1="525.33" y2="525.33" stroke="#4DAF4A" stroke-width="1.2" stroke-opacity="1"/>
<line x1="246.60" x2="246.60" y1="495.75" y2="516.97" stroke="#984EA3" stroke-opacity="0.82" stroke-width="1.7"/>
<line x1="246.60" x2="246.60" y1="529.94" y2="553.95" stroke="#984EA3" stroke-opacity="0.82" stroke-width="1.7"/>
<rect x="244.70" y="516.97" width="3.8" height="12.97" fill="#984EA3" fill-opacity="0.78" stroke="#984EA3" stroke-opacity="0.85" stroke-width="1.1"/>
<line x1="244.70" x2="248.50" y1="524.36" y2="524.36" stroke="#984EA3" stroke-width="1.2" stroke-opacity="1"/>
<line x1="251.05" x2="251.05" y1="507.26" y2="520.72" stroke="#FF7F00" stroke-opacity="0.82" stroke-width="1.7"/>
<line x1="251.05" x2="251.05" y1="538.18" y2="561.34" stroke="#FF7F00" stroke-opacity="0.82" stroke-width="1.7"/>
<rect x="249.15" y="520.72" width="3.8" height="17.46" fill="#FF7F00" fill-opacity="0.78" stroke="#FF7F00" stroke-opacity="0.85" stroke-width="1.1"/>
<line x1="249.15" x2="252.95" y1="528.97" y2="528.97" stroke="#FF7F00" stroke-width="1.2" stroke-opacity="1"/>
<line x1="230.95" x2="253.35" y1="538.55" y2="538.55" stroke="#111" stroke-opacity="1" stroke-width="1.7"/>
<line x1="264.62" x2="264.62" y1="497.56" y2="520.72" stroke="#E41A1C" stroke-opacity="0.82" stroke-width="1.7"/>
<line x1="264.62" x2="264.62" y1="540.97" y2="555.76" stroke="#E41A1C" stroke-opacity="0.82" stroke-width="1.7"/>
<rect x="262.73" y="520.72" width="3.8" height="20.25" fill="#E41A1C" fill-opacity="0.78" stroke="#E41A1C" stroke-opacity="0.85" stroke-width="1.1"/>
<line x1="262.73" x2="266.52" y1="530.79" y2="530.79" stroke="#E41A1C" stroke-width="1.2" stroke-opacity="1"/>
<line x1="269.07" x2="269.07" y1="503.14" y2="519.39" stroke="#377EB8" stroke-opacity="0.82" stroke-width="1.7"/>
<line x1="269.07" x2="269.07" y1="536.37" y2="561.34" stroke="#377EB8" stroke-opacity="0.82" stroke-width="1.7"/>
<rect x="267.18" y="519.39" width="3.8" height="16.98" fill="#377EB8" fill-opacity="0.78" stroke="#377EB8" stroke-opacity="0.85" stroke-width="1.1"/>
<line x1="267.18" x2="270.97" y1="528.12" y2="528.12" stroke="#377EB8" stroke-width="1.2" stroke-opacity="1"/>
<line x1="273.52" x2="273.52" y1="509.57" y2="521.21" stroke="#4DAF4A" stroke-opacity="0.82" stroke-width="1.7"/>
<line x1="273.52" x2="273.52" y1="537.33" y2="560.01" stroke="#4DAF4A" stroke-opacity="0.82" stroke-width="1.7"/>
<rect x="271.62" y="521.21" width="3.8" height="16.13" fill="#4DAF4A" fill-opacity="0.78" stroke="#4DAF4A" stroke-opacity="0.85" stroke-width="1.1"/>
<line x1="271.62" x2="275.42" y1="528.97" y2="528.97" stroke="#4DAF4A" stroke-width="1.2" stroke-opacity="1"/>
<line x1="277.97" x2="277.97" y1="505.93" y2="517.93" stroke="#984EA3" stroke-opacity="0.82" stroke-width="1.7"/>
<line x1="277.97" x2="277.97" y1="529.94" y2="541.58" stroke="#984EA3" stroke-opacity="0.82" stroke-width="1.7"/>
<rect x="276.07" y="517.93" width="3.8" height="12.00" fill="#984EA3" fill-opacity="0.78" stroke="#984EA3" stroke-opacity="0.85" stroke-width="1.1"/>
<line x1="276.07" x2="279.87" y1="523.51" y2="523.51" stroke="#984EA3" stroke-width="1.2" stroke-opacity="1"/>
<line x1="282.42" x2="282.42" y1="496.35" y2="515.15" stroke="#FF7F00" stroke-opacity="0.82" stroke-width="1.7"/>
<line x1="282.42" x2="282.42" y1="528.97" y2="568.13" stroke="#FF7F00" stroke-opacity="0.82" stroke-width="1.7"/>
<rect x="280.52" y="515.15" width="3.8" height="13.82" fill="#FF7F00" fill-opacity="0.78" stroke="#FF7F00" stroke-opacity="0.85" stroke-width="1.1"/>
<line x1="280.52" x2="284.32" y1="522.54" y2="522.54" stroke="#FF7F00" stroke-width="1.2" stroke-opacity="1"/>
<line x1="262.32" x2="284.72" y1="528.61" y2="528.61" stroke="#111" stroke-opacity="1" stroke-width="1.7"/>
<line x1="296.00" x2="296.00" y1="488.35" y2="519.39" stroke="#E41A1C" stroke-opacity="0.82" stroke-width="1.7"/>
<line x1="296.00" x2="296.00" y1="535.39" y2="565.59" stroke="#E41A1C" stroke-opacity="0.82" stroke-width="1.7"/>
<rect x="294.10" y="519.39" width="3.8" height="16.00" fill="#E41A1C" fill-opacity="0.78" stroke="#E41A1C" stroke-opacity="0.85" stroke-width="1.1"/>
<line x1="294.10" x2="297.90" y1="528.12" y2="528.12" stroke="#E41A1C" stroke-width="1.2" stroke-opacity="1"/>
<line x1="300.45" x2="300.45" y1="504.60" y2="520.12" stroke="#377EB8" stroke-opacity="0.82" stroke-width="1.7"/>
<line x1="300.45" x2="300.45" y1="535.39" y2="561.83" stroke="#377EB8" stroke-opacity="0.82" stroke-width="1.7"/>
<rect x="298.55" y="520.12" width="3.8" height="15.28" fill="#377EB8" fill-opacity="0.78" stroke="#377EB8" stroke-opacity="0.85" stroke-width="1.1"/>
<line x1="298.55" x2="302.35" y1="527.15" y2="527.15" stroke="#377EB8" stroke-width="1.2" stroke-opacity="1"/>
<line x1="304.90" x2="304.90" y1="498.17" y2="514.54" stroke="#4DAF4A" stroke-opacity="0.82" stroke-width="1.7"/>
<line x1="304.90" x2="304.90" y1="535.39" y2="551.52" stroke="#4DAF4A" stroke-opacity="0.82" stroke-width="1.7"/>
<rect x="303.00" y="514.54" width="3.8" height="20.86" fill="#4DAF4A" fill-opacity="0.78" stroke="#4DAF4A" stroke-opacity="0.85" stroke-width="1.1"/>
<line x1="303.00" x2="306.80" y1="525.33" y2="525.33" stroke="#4DAF4A" stroke-width="1.2" stroke-opacity="1"/>
<line x1="309.35" x2="309.35" y1="513.81" y2="520.12" stroke="#984EA3" stroke-opacity="0.82" stroke-width="1.7"/>
<line x1="309.35" x2="309.35" y1="531.76" y2="545.58" stroke="#984EA3" stroke-opacity="0.82" stroke-width="1.7"/>
<rect x="307.45" y="520.12" width="3.8" height="11.64" fill="#984EA3" fill-opacity="0.78" stroke="#984EA3" stroke-opacity="0.85" stroke-width="1.1"/>
<line x1="307.45" x2="311.25" y1="526.18" y2="526.18" stroke="#984EA3" stroke-width="1.2" stroke-opacity="1"/>
<line x1="313.80" x2="313.80" y1="496.35" y2="518.30" stroke="#FF7F00" stroke-opacity="0.82" stroke-width="1.7"/>
<line x1="313.80" x2="313.80" y1="534.55" y2="563.16" stroke="#FF7F00" stroke-opacity="0.82" stroke-width="1.7"/>
<rect x="311.90" y="518.30" width="3.8" height="16.25" fill="#FF7F00" fill-opacity="0.78" stroke="#FF7F00" stroke-opacity="0.85" stroke-width="1.1"/>
<line x1="311.90" x2="315.70" y1="526.18" y2="526.18" stroke="#FF7F00" stroke-width="1.2" stroke-opacity="1"/>
<line x1="293.70" x2="316.10" y1="506.90" y2="506.90" stroke="#111" stroke-opacity="1" stroke-width="1.7"/>
<line x1="327.38" x2="327.38" y1="500.96" y2="511.99" stroke="#E41A1C" stroke-opacity="0.82" stroke-width="1.7"/>
<line x1="327.38" x2="327.38" y1="531.76" y2="543.40" stroke="#E41A1C" stroke-opacity="0.82" stroke-width="1.7"/>
<rect x="325.48" y="511.99" width="3.8" height="19.76" fill="#E41A1C" fill-opacity="0.78" stroke="#E41A1C" stroke-opacity="0.85" stroke-width="1.1"/>
<line x1="325.48" x2="329.27" y1="521.21" y2="521.21" stroke="#E41A1C" stroke-width="1.2" stroke-opacity="1"/>
<line x1="331.82" x2="331.82" y1="491.75" y2="520.72" stroke="#377EB8" stroke-opacity="0.82" stroke-width="1.7"/>
<line x1="331.82" x2="331.82" y1="536.37" y2="552.61" stroke="#377EB8" stroke-opacity="0.82" stroke-width="1.7"/>
<rect x="329.93" y="520.72" width="3.8" height="15.64" fill="#377EB8" fill-opacity="0.78" stroke="#377EB8" stroke-opacity="0.85" stroke-width="1.1"/>
<line x1="329.93" x2="333.72" y1="528.12" y2="528.12" stroke="#377EB8" stroke-width="1.2" stroke-opacity="1"/>
<line x1="336.27" x2="336.27" y1="504.96" y2="517.57" stroke="#4DAF4A" stroke-opacity="0.82" stroke-width="1.7"/>
<line x1="336.27" x2="336.27" y1="533.58" y2="554.43" stroke="#4DAF4A" stroke-opacity="0.82" stroke-width="1.7"/>
<rect x="334.38" y="517.57" width="3.8" height="16.00" fill="#4DAF4A" fill-opacity="0.78" stroke="#4DAF4A" stroke-opacity="0.85" stroke-width="1.1"/>
<line x1="334.38" x2="338.17" y1="525.33" y2="525.33" stroke="#4DAF4A" stroke-width="1.2" stroke-opacity="1"/>
<line x1="340.72" x2="340.72" y1="496.72" y2="518.30" stroke="#984EA3" stroke-opacity="0.82" stroke-width="1.7"/>
<line x1="340.72" x2="340.72" y1="538.55" y2="548.37" stroke="#984EA3" stroke-opacity="0.82" stroke-width="1.7"/>
<rect x="338.82" y="518.30" width="3.8" height="20.25" fill="#984EA3" fill-opacity="0.78" stroke="#984EA3" stroke-opacity="0.85" stroke-width="1.1"/>
<line x1="338.82" x2="342.62" y1="526.18" y2="526.18" stroke="#984EA3" stroke-width="1.2" stroke-opacity="1"/>
<line x1="345.17" x2="345.17" y1="499.87" y2="520.72" stroke="#FF7F00" stroke-opacity="0.82" stroke-width="1.7"/>
<line x1="345.17" x2="345.17" y1="535.39" y2="547.03" stroke="#FF7F00" stroke-opacity="0.82" stroke-width="1.7"/>
<rect x="343.27" y="520.72" width="3.8" height="14.67" fill="#FF7F00" fill-opacity="0.78" stroke="#FF7F00" stroke-opacity="0.85" stroke-width="1.1"/>
<line x1="343.27" x2="347.07" y1="527.15" y2="527.15" stroke="#FF7F00" stroke-width="1.2" stroke-opacity="1"/>
<line x1="325.07" x2="347.47" y1="495.75" y2="495.75" stroke="#111" stroke-opacity="1" stroke-width="1.7"/>
<line x1="358.75" x2="358.75" y1="504.11" y2="518.90" stroke="#E41A1C" stroke-opacity="0.82" stroke-width="1.7"/>
<line x1="358.75" x2="358.75" y1="542.31" y2="551.16" stroke="#E41A1C" stroke-opacity="0.82" stroke-width="1.7"/>
<rect x="356.85" y="518.90" width="3.8" height="23.40" fill="#E41A1C" fill-opacity="0.78" stroke="#E41A1C" stroke-opacity="0.85" stroke-width="1.1"/>
<line x1="356.85" x2="360.65" y1="529.94" y2="529.94" stroke="#E41A1C" stroke-width="1.2" stroke-opacity="1"/>
<line x1="363.20" x2="363.20" y1="509.57" y2="524.36" stroke="#377EB8" stroke-opacity="0.82" stroke-width="1.7"/>
<line x1="363.20" x2="363.20" y1="540.12" y2="553.95" stroke="#377EB8" stroke-opacity="0.82" stroke-width="1.7"/>
<rect x="361.30" y="524.36" width="3.8" height="15.76" fill="#377EB8" fill-opacity="0.78" stroke="#377EB8" stroke-opacity="0.85" stroke-width="1.1"/>
<line x1="361.30" x2="365.10" y1="530.79" y2="530.79" stroke="#377EB8" stroke-width="1.2" stroke-opacity="1"/>
<line x1="367.65" x2="367.65" y1="497.56" y2="513.81" stroke="#4DAF4A" stroke-opacity="0.82" stroke-width="1.7"/>
<line x1="367.65" x2="367.65" y1="528.97" y2="545.58" stroke="#4DAF4A" stroke-opacity="0.82" stroke-width="1.7"/>
<rect x="365.75" y="513.81" width="3.8" height="15.16" fill="#4DAF4A" fill-opacity="0.78" stroke="#4DAF4A" stroke-opacity="0.85" stroke-width="1.1"/>
<line x1="365.75" x2="369.55" y1="521.57" y2="521.57" stroke="#4DAF4A" stroke-width="1.2" stroke-opacity="1"/>
<line x1="372.10" x2="372.10" y1="494.29" y2="515.75" stroke="#984EA3" stroke-opacity="0.82" stroke-width="1.7"/>
<line x1="372.10" x2="372.10" y1="532.73" y2="547.40" stroke="#984EA3" stroke-opacity="0.82" stroke-width="1.7"/>
<rect x="370.20" y="515.75" width="3.8" height="16.98" fill="#984EA3" fill-opacity="0.78" stroke="#984EA3" stroke-opacity="0.85" stroke-width="1.1"/>
<line x1="370.20" x2="374.00" y1="523.51" y2="523.51" stroke="#984EA3" stroke-width="1.2" stroke-opacity="1"/>
<line x1="376.55" x2="376.55" y1="496.72" y2="509.57" stroke="#FF7F00" stroke-opacity="0.82" stroke-width="1.7"/>
<line x1="376.55" x2="376.55" y1="537.33" y2="557.10" stroke="#FF7F00" stroke-opacity="0.82" stroke-width="1.7"/>
<rect x="374.65" y="509.57" width="3.8" height="27.77" fill="#FF7F00" fill-opacity="0.78" stroke="#FF7F00" stroke-opacity="0.85" stroke-width="1.1"/>
<line x1="374.65" x2="378.45" y1="524.36" y2="524.36" stroke="#FF7F00" stroke-width="1.2" stroke-opacity="1"/>
<line x1="356.45" x2="378.85" y1="513.33" y2="513.33" stroke="#111" stroke-opacity="1" stroke-width="1.7"/>
<line x1="390.12" x2="390.12" y1="490.29" y2="528.12" stroke="#E41A1C" stroke-opacity="0.82" stroke-width="1.7"/>
<line x1="390.12" x2="390.12" y1="545.22" y2="561.34" stroke="#E41A1C" stroke-opacity="0.82" stroke-width="1.7"/>
<rect x="388.23" y="528.12" width="3.8" height="17.10" fill="#E41A1C" fill-opacity="0.78" stroke="#E41A1C" stroke-opacity="0.85" stroke-width="1.1"/>
<line x1="388.23" x2="392.02" y1="534.55" y2="534.55" stroke="#E41A1C" stroke-width="1.2" stroke-opacity="1"/>
<line x1="394.57" x2="394.57" y1="501.32" y2="519.39" stroke="#377EB8" stroke-opacity="0.82" stroke-width="1.7"/>
<line x1="394.57" x2="394.57" y1="537.33" y2="551.16" stroke="#377EB8" stroke-opacity="0.82" stroke-width="1.7"/>
<rect x="392.68" y="519.39" width="3.8" height="17.94" fill="#377EB8" fill-opacity="0.78" stroke="#377EB8" stroke-opacity="0.85" stroke-width="1.1"/>
<line x1="392.68" x2="396.47" y1="528.97" y2="528.97" stroke="#377EB8" stroke-width="1.2" stroke-opacity="1"/>
<line x1="399.02" x2="399.02" y1="501.32" y2="516.48" stroke="#4DAF4A" stroke-opacity="0.82" stroke-width="1.7"/>
<line x1="399.02" x2="399.02" y1="537.33" y2="550.19" stroke="#4DAF4A" stroke-opacity="0.82" stroke-width="1.7"/>
<rect x="397.12" y="516.48" width="3.8" height="20.85" fill="#4DAF4A" fill-opacity="0.78" stroke="#4DAF4A" stroke-opacity="0.85" stroke-width="1.1"/>
<line x1="397.12" x2="400.92" y1="525.33" y2="525.33" stroke="#4DAF4A" stroke-width="1.2" stroke-opacity="1"/>
<line x1="403.47" x2="403.47" y1="505.32" y2="523.88" stroke="#984EA3" stroke-opacity="0.82" stroke-width="1.7"/>
<line x1="403.47" x2="403.47" y1="534.55" y2="565.95" stroke="#984EA3" stroke-opacity="0.82" stroke-width="1.7"/>
<rect x="401.57" y="523.88" width="3.8" height="10.67" fill="#984EA3" fill-opacity="0.78" stroke="#984EA3" stroke-opacity="0.85" stroke-width="1.1"/>
<line x1="401.57" x2="405.37" y1="530.79" y2="530.79" stroke="#984EA3" stroke-width="1.2" stroke-opacity="1"/>
<line x1="407.92" x2="407.92" y1="514.54" y2="520.72" stroke="#FF7F00" stroke-opacity="0.82" stroke-width="1.7"/>
<line x1="407.92" x2="407.92" y1="540.49" y2="568.62" stroke="#FF7F00" stroke-opacity="0.82" stroke-width="1.7"/>
<rect x="406.02" y="520.72" width="3.8" height="19.76" fill="#FF7F00" fill-opacity="0.78" stroke="#FF7F00" stroke-opacity="0.85" stroke-width="1.1"/>
<line x1="406.02" x2="409.82" y1="528.97" y2="528.97" stroke="#FF7F00" stroke-width="1.2" stroke-opacity="1"/>
<line x1="387.82" x2="410.22" y1="529.33" y2="529.33" stroke="#111" stroke-opacity="1" stroke-width="1.7"/>
<line x1="421.50" x2="421.50" y1="499.87" y2="518.30" stroke="#E41A1C" stroke-opacity="0.82" stroke-width="1.7"/>
<line x1="421.50" x2="421.50" y1="540.49" y2="558.19" stroke="#E41A1C" stroke-opacity="0.82" stroke-width="1.7"/>
<rect x="419.60" y="518.30" width="3.8" height="22.19" fill="#E41A1C" fill-opacity="0.78" stroke="#E41A1C" stroke-opacity="0.85" stroke-width="1.1"/>
<line x1="419.60" x2="423.40" y1="528.12" y2="528.12" stroke="#E41A1C" stroke-width="1.2" stroke-opacity="1"/>
<line x1="425.95" x2="425.95" y1="498.53" y2="513.81" stroke="#377EB8" stroke-opacity="0.82" stroke-width="1.7"/>
<line x1="425.95" x2="425.95" y1="531.15" y2="557.10" stroke="#377EB8" stroke-opacity="0.82" stroke-width="1.7"/>
<rect x="424.05" y="513.81" width="3.8" height="17.34" fill="#377EB8" fill-opacity="0.78" stroke="#377EB8" stroke-opacity="0.85" stroke-width="1.1"/>
<line x1="424.05" x2="427.85" y1="523.51" y2="523.51" stroke="#377EB8" stroke-width="1.2" stroke-opacity="1"/>
<line x1="430.40" x2="430.40" y1="487.50" y2="514.54" stroke="#4DAF4A" stroke-opacity="0.82" stroke-width="1.7"/>
<line x1="430.40" x2="430.40" y1="536.00" y2="551.16" stroke="#4DAF4A" stroke-opacity="0.82" stroke-width="1.7"/>
<rect x="428.50" y="514.54" width="3.8" height="21.46" fill="#4DAF4A" fill-opacity="0.78" stroke="#4DAF4A" stroke-opacity="0.85" stroke-width="1.1"/>
<line x1="428.50" x2="432.30" y1="523.51" y2="523.51" stroke="#4DAF4A" stroke-width="1.2" stroke-opacity="1"/>
<line x1="434.85" x2="434.85" y1="503.51" y2="516.12" stroke="#984EA3" stroke-opacity="0.82" stroke-width="1.7"/>
<line x1="434.85" x2="434.85" y1="528.97" y2="546.55" stroke="#984EA3" stroke-opacity="0.82" stroke-width="1.7"/>
<rect x="432.95" y="516.12" width="3.8" height="12.85" fill="#984EA3" fill-opacity="0.78" stroke="#984EA3" stroke-opacity="0.85" stroke-width="1.1"/>
<line x1="432.95" x2="436.75" y1="522.54" y2="522.54" stroke="#984EA3" stroke-width="1.2" stroke-opacity="1"/>
<line x1="439.30" x2="439.30" y1="502.78" y2="509.57" stroke="#FF7F00" stroke-opacity="0.82" stroke-width="1.7"/>
<line x1="439.30" x2="439.30" y1="534.91" y2="567.77" stroke="#FF7F00" stroke-opacity="0.82" stroke-width="1.7"/>
<rect x="437.40" y="509.57" width="3.8" height="25.34" fill="#FF7F00" fill-opacity="0.78" stroke="#FF7F00" stroke-opacity="0.85" stroke-width="1.1"/>
<line x1="437.40" x2="441.20" y1="526.18" y2="526.18" stroke="#FF7F00" stroke-width="1.2" stroke-opacity="1"/>
<line x1="419.20" x2="441.60" y1="509.08" y2="509.08" stroke="#444" stroke-opacity="0.72" stroke-width="1.7"/>
<line x1="452.88" x2="452.88" y1="496.72" y2="520.12" stroke="#E41A1C" stroke-opacity="0.82" stroke-width="1.7"/>
<line x1="452.88" x2="452.88" y1="534.55" y2="552.61" stroke="#E41A1C" stroke-opacity="0.82" stroke-width="1.7"/>
<rect x="450.98" y="520.12" width="3.8" height="14.43" fill="#E41A1C" fill-opacity="0.78" stroke="#E41A1C" stroke-opacity="0.85" stroke-width="1.1"/>
<line x1="450.98" x2="454.77" y1="525.33" y2="525.33" stroke="#E41A1C" stroke-width="1.2" stroke-opacity="1"/>
<line x1="457.32" x2="457.32" y1="499.14" y2="518.90" stroke="#377EB8" stroke-opacity="0.82" stroke-width="1.7"/>
<line x1="457.32" x2="457.32" y1="537.82" y2="565.59" stroke="#377EB8" stroke-opacity="0.82" stroke-width="1.7"/>
<rect x="455.43" y="518.90" width="3.8" height="18.91" fill="#377EB8" fill-opacity="0.78" stroke="#377EB8" stroke-opacity="0.85" stroke-width="1.1"/>
<line x1="455.43" x2="459.22" y1="528.12" y2="528.12" stroke="#377EB8" stroke-width="1.2" stroke-opacity="1"/>
<line x1="461.77" x2="461.77" y1="497.56" y2="520.12" stroke="#4DAF4A" stroke-opacity="0.82" stroke-width="1.7"/>
<line x1="461.77" x2="461.77" y1="535.39" y2="565.59" stroke="#4DAF4A" stroke-opacity="0.82" stroke-width="1.7"/>
<rect x="459.88" y="520.12" width="3.8" height="15.28" fill="#4DAF4A" fill-opacity="0.78" stroke="#4DAF4A" stroke-opacity="0.85" stroke-width="1.1"/>
<line x1="459.88" x2="463.67" y1="528.12" y2="528.12" stroke="#4DAF4A" stroke-width="1.2" stroke-opacity="1"/>
<line x1="466.22" x2="466.22" y1="505.93" y2="519.75" stroke="#984EA3" stroke-opacity="0.82" stroke-width="1.7"/>
<line x1="466.22" x2="466.22" y1="536.73" y2="550.19" stroke="#984EA3" stroke-opacity="0.82" stroke-width="1.7"/>
<rect x="464.32" y="519.75" width="3.8" height="16.98" fill="#984EA3" fill-opacity="0.78" stroke="#984EA3" stroke-opacity="0.85" stroke-width="1.1"/>
<line x1="464.32" x2="468.12" y1="528.12" y2="528.12" stroke="#984EA3" stroke-width="1.2" stroke-opacity="1"/>
<line x1="470.67" x2="470.67" y1="493.56" y2="512.36" stroke="#FF7F00" stroke-opacity="0.82" stroke-width="1.7"/>
<line x1="470.67" x2="470.67" y1="527.51" y2="572.38" stroke="#FF7F00" stroke-opacity="0.82" stroke-width="1.7"/>
<rect x="468.77" y="512.36" width="3.8" height="15.16" fill="#FF7F00" fill-opacity="0.78" stroke="#FF7F00" stroke-opacity="0.85" stroke-width="1.1"/>
<line x1="468.77" x2="472.57" y1="521.94" y2="521.94" stroke="#FF7F00" stroke-width="1.2" stroke-opacity="1"/>
<line x1="450.57" x2="472.97" y1="511.99" y2="511.99" stroke="#111" stroke-opacity="1" stroke-width="1.7"/>
<line x1="484.25" x2="484.25" y1="502.78" y2="518.90" stroke="#E41A1C" stroke-opacity="0.82" stroke-width="1.7"/>
<line x1="484.25" x2="484.25" y1="540.49" y2="554.79" stroke="#E41A1C" stroke-opacity="0.82" stroke-width="1.7"/>
<rect x="482.35" y="518.90" width="3.8" height="21.58" fill="#E41A1C" fill-opacity="0.78" stroke="#E41A1C" stroke-opacity="0.85" stroke-width="1.1"/>
<line x1="482.35" x2="486.15" y1="528.12" y2="528.12" stroke="#E41A1C" stroke-width="1.2" stroke-opacity="1"/>
<line x1="488.70" x2="488.70" y1="499.14" y2="516.48" stroke="#377EB8" stroke-opacity="0.82" stroke-width="1.7"/>
<line x1="488.70" x2="488.70" y1="535.39" y2="556.74" stroke="#377EB8" stroke-opacity="0.82" stroke-width="1.7"/>
<rect x="486.80" y="516.48" width="3.8" height="18.91" fill="#377EB8" fill-opacity="0.78" stroke="#377EB8" stroke-opacity="0.85" stroke-width="1.1"/>
<line x1="486.80" x2="490.60" y1="523.51" y2="523.51" stroke="#377EB8" stroke-width="1.2" stroke-opacity="1"/>
<line x1="493.15" x2="493.15" y1="501.32" y2="520.12" stroke="#4DAF4A" stroke-opacity="0.82" stroke-width="1.7"/>
<line x1="493.15" x2="493.15" y1="538.55" y2="563.16" stroke="#4DAF4A" stroke-opacity="0.82" stroke-width="1.7"/>
<rect x="491.25" y="520.12" width="3.8" height="18.43" fill="#4DAF4A" fill-opacity="0.78" stroke="#4DAF4A" stroke-opacity="0.85" stroke-width="1.1"/>
<line x1="491.25" x2="495.05" y1="527.15" y2="527.15" stroke="#4DAF4A" stroke-width="1.2" stroke-opacity="1"/>
<line x1="497.60" x2="497.60" y1="507.75" y2="516.97" stroke="#984EA3" stroke-opacity="0.82" stroke-width="1.7"/>
<line x1="497.60" x2="497.60" y1="531.15" y2="549.34" stroke="#984EA3" stroke-opacity="0.82" stroke-width="1.7"/>
<rect x="495.70" y="516.97" width="3.8" height="14.19" fill="#984EA3" fill-opacity="0.78" stroke="#984EA3" stroke-opacity="0.85" stroke-width="1.1"/>
<line x1="495.70" x2="499.50" y1="524.36" y2="524.36" stroke="#984EA3" stroke-width="1.2" stroke-opacity="1"/>
<line x1="502.05" x2="502.05" y1="505.32" y2="518.30" stroke="#FF7F00" stroke-opacity="0.82" stroke-width="1.7"/>
<line x1="502.05" x2="502.05" y1="534.55" y2="548.37" stroke="#FF7F00" stroke-opacity="0.82" stroke-width="1.7"/>
<rect x="500.15" y="518.30" width="3.8" height="16.25" fill="#FF7F00" fill-opacity="0.78" stroke="#FF7F00" stroke-opacity="0.85" stroke-width="1.1"/>
<line x1="500.15" x2="503.95" y1="525.33" y2="525.33" stroke="#FF7F00" stroke-width="1.2" stroke-opacity="1"/>
<line x1="481.95" x2="504.35" y1="541.58" y2="541.58" stroke="#444" stroke-opacity="0.72" stroke-width="1.7"/>
<line x1="515.62" x2="515.62" y1="480.10" y2="520.72" stroke="#E41A1C" stroke-opacity="0.82" stroke-width="1.7"/>
<line x1="515.62" x2="515.62" y1="537.82" y2="553.95" stroke="#E41A1C" stroke-opacity="0.82" stroke-width="1.7"/>
<rect x="513.73" y="520.72" width="3.8" height="17.10" fill="#E41A1C" fill-opacity="0.78" stroke="#E41A1C" stroke-opacity="0.85" stroke-width="1.1"/>
<line x1="513.73" x2="517.52" y1="528.12" y2="528.12" stroke="#E41A1C" stroke-width="1.2" stroke-opacity="1"/>
<line x1="520.07" x2="520.07" y1="508.36" y2="525.33" stroke="#377EB8" stroke-opacity="0.82" stroke-width="1.7"/>
<line x1="520.07" x2="520.07" y1="544.73" y2="561.34" stroke="#377EB8" stroke-opacity="0.82" stroke-width="1.7"/>
<rect x="518.17" y="525.33" width="3.8" height="19.40" fill="#377EB8" fill-opacity="0.78" stroke="#377EB8" stroke-opacity="0.85" stroke-width="1.1"/>
<line x1="518.17" x2="521.97" y1="532.73" y2="532.73" stroke="#377EB8" stroke-width="1.2" stroke-opacity="1"/>
<line x1="524.52" x2="524.52" y1="509.57" y2="529.33" stroke="#4DAF4A" stroke-opacity="0.82" stroke-width="1.7"/>
<line x1="524.52" x2="524.52" y1="544.73" y2="573.35" stroke="#4DAF4A" stroke-opacity="0.82" stroke-width="1.7"/>
<rect x="522.62" y="529.33" width="3.8" height="15.40" fill="#4DAF4A" fill-opacity="0.78" stroke="#4DAF4A" stroke-opacity="0.85" stroke-width="1.1"/>
<line x1="522.62" x2="526.42" y1="536.37" y2="536.37" stroke="#4DAF4A" stroke-width="1.2" stroke-opacity="1"/>
<line x1="528.98" x2="528.98" y1="504.11" y2="521.21" stroke="#984EA3" stroke-opacity="0.82" stroke-width="1.7"/>
<line x1="528.98" x2="528.98" y1="546.55" y2="561.34" stroke="#984EA3" stroke-opacity="0.82" stroke-width="1.7"/>
<rect x="527.08" y="521.21" width="3.8" height="25.34" fill="#984EA3" fill-opacity="0.78" stroke="#984EA3" stroke-opacity="0.85" stroke-width="1.1"/>
<line x1="527.08" x2="530.88" y1="528.97" y2="528.97" stroke="#984EA3" stroke-width="1.2" stroke-opacity="1"/>
<line x1="533.42" x2="533.42" y1="500.35" y2="519.39" stroke="#FF7F00" stroke-opacity="0.82" stroke-width="1.7"/>
<line x1="533.42" x2="533.42" y1="535.39" y2="552.98" stroke="#FF7F00" stroke-opacity="0.82" stroke-width="1.7"/>
<rect x="531.52" y="519.39" width="3.8" height="16.00" fill="#FF7F00" fill-opacity="0.78" stroke="#FF7F00" stroke-opacity="0.85" stroke-width="1.1"/>
<line x1="531.52" x2="535.32" y1="527.15" y2="527.15" stroke="#FF7F00" stroke-width="1.2" stroke-opacity="1"/>
<line x1="513.32" x2="535.73" y1="536.37" y2="536.37" stroke="#111" stroke-opacity="1" stroke-width="1.7"/>
<line x1="547.00" x2="547.00" y1="491.14" y2="515.75" stroke="#E41A1C" stroke-opacity="0.82" stroke-width="1.7"/>
<line x1="547.00" x2="547.00" y1="536.37" y2="550.19" stroke="#E41A1C" stroke-opacity="0.82" stroke-width="1.7"/>
<rect x="545.10" y="515.75" width="3.8" height="20.61" fill="#E41A1C" fill-opacity="0.78" stroke="#E41A1C" stroke-opacity="0.85" stroke-width="1.1"/>
<line x1="545.10" x2="548.90" y1="525.33" y2="525.33" stroke="#E41A1C" stroke-width="1.2" stroke-opacity="1"/>
<line x1="551.45" x2="551.45" y1="487.50" y2="506.54" stroke="#377EB8" stroke-opacity="0.82" stroke-width="1.7"/>
<line x1="551.45" x2="551.45" y1="531.76" y2="552.98" stroke="#377EB8" stroke-opacity="0.82" stroke-width="1.7"/>
<rect x="549.55" y="506.54" width="3.8" height="25.22" fill="#377EB8" fill-opacity="0.78" stroke="#377EB8" stroke-opacity="0.85" stroke-width="1.1"/>
<line x1="549.55" x2="553.35" y1="517.93" y2="517.93" stroke="#377EB8" stroke-width="1.2" stroke-opacity="1"/>
<line x1="555.90" x2="555.90" y1="494.29" y2="520.12" stroke="#4DAF4A" stroke-opacity="0.82" stroke-width="1.7"/>
<line x1="555.90" x2="555.90" y1="527.15" y2="537.82" stroke="#4DAF4A" stroke-opacity="0.82" stroke-width="1.7"/>
<rect x="554.00" y="520.12" width="3.8" height="7.03" fill="#4DAF4A" fill-opacity="0.78" stroke="#4DAF4A" stroke-opacity="0.85" stroke-width="1.1"/>
<line x1="554.00" x2="557.80" y1="524.36" y2="524.36" stroke="#4DAF4A" stroke-width="1.2" stroke-opacity="1"/>
<line x1="560.35" x2="560.35" y1="496.72" y2="511.99" stroke="#984EA3" stroke-opacity="0.82" stroke-width="1.7"/>
<line x1="560.35" x2="560.35" y1="531.76" y2="552.98" stroke="#984EA3" stroke-opacity="0.82" stroke-width="1.7"/>
<rect x="558.45" y="511.99" width="3.8" height="19.76" fill="#984EA3" fill-opacity="0.78" stroke="#984EA3" stroke-opacity="0.85" stroke-width="1.1"/>
<line x1="558.45" x2="562.25" y1="521.57" y2="521.57" stroke="#984EA3" stroke-width="1.2" stroke-opacity="1"/>
<line x1="564.80" x2="564.80" y1="482.29" y2="510.17" stroke="#FF7F00" stroke-opacity="0.82" stroke-width="1.7"/>
<line x1="564.80" x2="564.80" y1="529.33" y2="551.52" stroke="#FF7F00" stroke-opacity="0.82" stroke-width="1.7"/>
<rect x="562.90" y="510.17" width="3.8" height="19.16" fill="#FF7F00" fill-opacity="0.78" stroke="#FF7F00" stroke-opacity="0.85" stroke-width="1.1"/>
<line x1="562.90" x2="566.70" y1="519.39" y2="519.39" stroke="#FF7F00" stroke-width="1.2" stroke-opacity="1"/>
<line x1="544.70" x2="567.10" y1="527.51" y2="527.51" stroke="#111" stroke-opacity="1" stroke-width="1.7"/>
<rect x="35.4" y="472.84999999999997" width="538.70" height="130.5" fill="none" stroke="#333" stroke-width="1.6" stroke-linejoin="round"/>
<text x="304.75" y="467.55" font-size="9" fill="#1A1A1A" stroke="#1A1A1A" stroke-width="0.3" text-anchor="middle">SCA</text>
<text x="31.2" y="482.25" font-size="9.4" fill="#4D4D4D" stroke="#4D4D4D" stroke-width="0.3" text-anchor="end">40</text>
<text x="31.2" y="506.50" font-size="9.4" fill="#4D4D4D" stroke="#4D4D4D" stroke-width="0.3" text-anchor="end">20</text>
<text x="31.2" y="530.75" font-size="9.4" fill="#4D4D4D" stroke="#4D4D4D" stroke-width="0.3" text-anchor="end">0</text>
<text x="31.2" y="555.00" font-size="9.4" fill="#4D4D4D" stroke="#4D4D4D" stroke-width="0.3" text-anchor="end">−20</text>
<text x="31.2" y="579.25" font-size="9.4" fill="#4D4D4D" stroke="#4D4D4D" stroke-width="0.3" text-anchor="end">−40</text>
<text x="31.2" y="603.50" font-size="9.4" fill="#4D4D4D" stroke="#4D4D4D" stroke-width="0.3" text-anchor="end">−60</text>
<text transform="translate(53.30,608.35) rotate(-45)" font-size="9.2" fill="#4D4D4D" stroke="#4D4D4D" stroke-width="0.3" text-anchor="end" dominant-baseline="hanging">2000</text>
<text transform="translate(84.68,608.35) rotate(-45)" font-size="9.2" fill="#4D4D4D" stroke="#4D4D4D" stroke-width="0.3" text-anchor="end" dominant-baseline="hanging">2001</text>
<text transform="translate(116.05,608.35) rotate(-45)" font-size="9.2" fill="#4D4D4D" stroke="#4D4D4D" stroke-width="0.3" text-anchor="end" dominant-baseline="hanging">2002</text>
<text transform="translate(147.43,608.35) rotate(-45)" font-size="9.2" fill="#4D4D4D" stroke="#4D4D4D" stroke-width="0.3" text-anchor="end" dominant-baseline="hanging">2003</text>
<text transform="translate(178.80,608.35) rotate(-45)" font-size="9.2" fill="#4D4D4D" stroke="#4D4D4D" stroke-width="0.3" text-anchor="end" dominant-baseline="hanging">2004</text>
<text transform="translate(210.18,608.35) rotate(-45)" font-size="9.2" fill="#4D4D4D" stroke="#4D4D4D" stroke-width="0.3" text-anchor="end" dominant-baseline="hanging">2005</text>
<text transform="translate(241.55,608.35) rotate(-45)" font-size="9.2" fill="#4D4D4D" stroke="#4D4D4D" stroke-width="0.3" text-anchor="end" dominant-baseline="hanging">2006</text>
<text transform="translate(272.92,608.35) rotate(-45)" font-size="9.2" fill="#4D4D4D" stroke="#4D4D4D" stroke-width="0.3" text-anchor="end" dominant-baseline="hanging">2007</text>
<text transform="translate(304.30,608.35) rotate(-45)" font-size="9.2" fill="#4D4D4D" stroke="#4D4D4D" stroke-width="0.3" text-anchor="end" dominant-baseline="hanging">2008</text>
<text transform="translate(335.67,608.35) rotate(-45)" font-size="9.2" fill="#4D4D4D" stroke="#4D4D4D" stroke-width="0.3" text-anchor="end" dominant-baseline="hanging">2009</text>
<text transform="translate(367.05,608.35) rotate(-45)" font-size="9.2" fill="#4D4D4D" stroke="#4D4D4D" stroke-width="0.3" text-anchor="end" dominant-baseline="hanging">2010</text>
<text transform="translate(398.42,608.35) rotate(-45)" font-size="9.2" fill="#4D4D4D" stroke="#4D4D4D" stroke-width="0.3" text-anchor="end" dominant-baseline="hanging">2011</text>
<text transform="translate(429.80,608.35) rotate(-45)" font-size="9.2" fill="#4D4D4D" stroke="#4D4D4D" stroke-width="0.3" text-anchor="end" dominant-baseline="hanging">2012</text>
<text transform="translate(461.17,608.35) rotate(-45)" font-size="9.2" fill="#4D4D4D" stroke="#4D4D4D" stroke-width="0.3" text-anchor="end" dominant-baseline="hanging">2013</text>
<text transform="translate(492.55,608.35) rotate(-45)" font-size="9.2" fill="#4D4D4D" stroke="#4D4D4D" stroke-width="0.3" text-anchor="end" dominant-baseline="hanging">2014</text>
<text transform="translate(523.92,608.35) rotate(-45)" font-size="9.2" fill="#4D4D4D" stroke="#4D4D4D" stroke-width="0.3" text-anchor="end" dominant-baseline="hanging">2015</text>
<text transform="translate(555.30,608.35) rotate(-45)" font-size="9.2" fill="#4D4D4D" stroke="#4D4D4D" stroke-width="0.3" text-anchor="end" dominant-baseline="hanging">2016</text>
<text x="305.4" y="638.7" font-size="11" fill="#000" stroke="#000" stroke-width="0.3" text-anchor="middle">year</text>
<text transform="translate(10.3,307.3) rotate(-90)" font-size="11" fill="#000" stroke="#000" stroke-width="0.3" text-anchor="middle">gpm (in thousands)</text>
<text x="151" y="667.8" font-size="11" fill="#000" stroke="#000" stroke-width="0.3">obs</text>
<text x="220.2" y="667.8" font-size="11" fill="#000" stroke="#000" stroke-width="0.3">system</text>
<line x1="152.6" x2="167.0" y1="682.3" y2="682.3" stroke="#333" stroke-width="1.3"/>
<text x="174.5" y="685.2" font-size="9" fill="#000" stroke="#000" stroke-width="0.3">ERA5</text>
<line x1="228.50" x2="228.50" y1="674.50" y2="677.30" stroke="#E41A1C" stroke-opacity="0.85" stroke-width="1.6"/>
<line x1="228.50" x2="228.50" y1="687.30" y2="690.10" stroke="#E41A1C" stroke-opacity="0.85" stroke-width="1.6"/>
<rect x="222.10" y="677.20" width="12.8" height="10.2" rx="0.8" fill="#E41A1C" fill-opacity="0.78" stroke="#E41A1C" stroke-opacity="0.9" stroke-width="1.2"/>
<line x1="222.10" x2="234.90" y1="682.30" y2="682.30" stroke="#E41A1C" stroke-width="1.0"/>
<text x="242.90" y="685.50" font-size="9" fill="#000" stroke="#000" stroke-width="0.3">CMCC SPS3</text>
<line x1="228.50" x2="228.50" y1="692.20" y2="695.00" stroke="#377EB8" stroke-opacity="0.85" stroke-width="1.6"/>
<line x1="228.50" x2="228.50" y1="705.00" y2="707.80" stroke="#377EB8" stroke-opacity="0.85" stroke-width="1.6"/>
<rect x="222.10" y="694.90" width="12.8" height="10.2" rx="0.8" fill="#377EB8" fill-opacity="0.78" stroke="#377EB8" stroke-opacity="0.9" stroke-width="1.2"/>
<line x1="222.10" x2="234.90" y1="700.00" y2="700.00" stroke="#377EB8" stroke-width="1.0"/>
<text x="242.90" y="703.20" font-size="9" fill="#000" stroke="#000" stroke-width="0.3">DWD SYS2</text>
<line x1="311.10" x2="311.10" y1="674.50" y2="677.30" stroke="#4DAF4A" stroke-opacity="0.85" stroke-width="1.6"/>
<line x1="311.10" x2="311.10" y1="687.30" y2="690.10" stroke="#4DAF4A" stroke-opacity="0.85" stroke-width="1.6"/>
<rect x="304.70" y="677.20" width="12.8" height="10.2" rx="0.8" fill="#4DAF4A" fill-opacity="0.78" stroke="#4DAF4A" stroke-opacity="0.9" stroke-width="1.2"/>
<line x1="304.70" x2="317.50" y1="682.30" y2="682.30" stroke="#4DAF4A" stroke-width="1.0"/>
<text x="325.50" y="685.50" font-size="9" fill="#000" stroke="#000" stroke-width="0.3">GLOSEA5 GC2</text>
<line x1="311.10" x2="311.10" y1="692.20" y2="695.00" stroke="#984EA3" stroke-opacity="0.85" stroke-width="1.6"/>
<line x1="311.10" x2="311.10" y1="705.00" y2="707.80" stroke="#984EA3" stroke-opacity="0.85" stroke-width="1.6"/>
<rect x="304.70" y="694.90" width="12.8" height="10.2" rx="0.8" fill="#984EA3" fill-opacity="0.78" stroke="#984EA3" stroke-opacity="0.9" stroke-width="1.2"/>
<line x1="304.70" x2="317.50" y1="700.00" y2="700.00" stroke="#984EA3" stroke-width="1.0"/>
<text x="325.50" y="703.20" font-size="9" fill="#000" stroke="#000" stroke-width="0.3">ECMWF SEAS5</text>
<line x1="406.60" x2="406.60" y1="674.50" y2="677.30" stroke="#FF7F00" stroke-opacity="0.85" stroke-width="1.6"/>
<line x1="406.60" x2="406.60" y1="687.30" y2="690.10" stroke="#FF7F00" stroke-opacity="0.85" stroke-width="1.6"/>
<rect x="400.20" y="677.20" width="12.8" height="10.2" rx="0.8" fill="#FF7F00" fill-opacity="0.78" stroke="#FF7F00" stroke-opacity="0.9" stroke-width="1.2"/>
<line x1="400.20" x2="413.00" y1="682.30" y2="682.30" stroke="#FF7F00" stroke-width="1.0"/>
<text x="421.00" y="685.50" font-size="9" fill="#000" stroke="#000" stroke-width="0.3">MF SYS6</text>
</g>
</svg>
</body></html>
